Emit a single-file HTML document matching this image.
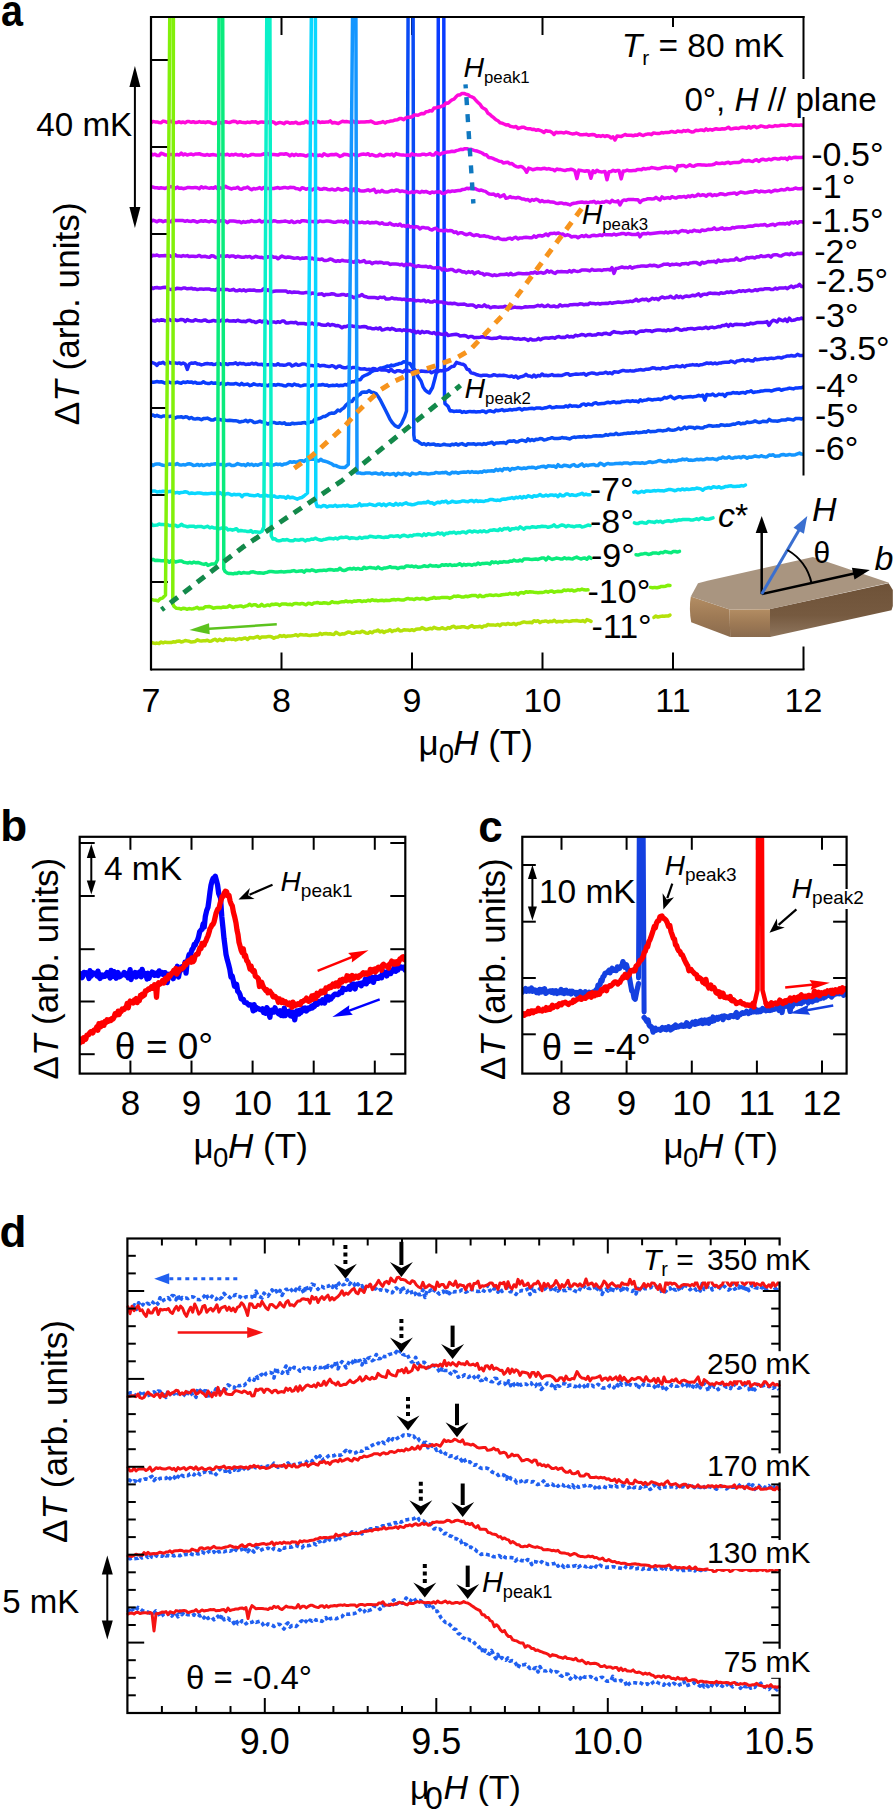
<!DOCTYPE html>
<html><head><meta charset="utf-8"><title>figure</title>
<style>html,body{margin:0;padding:0;background:#fff;}body{width:895px;height:1812px;overflow:hidden;font-family:"Liberation Sans",sans-serif;}svg{display:block;}</style>
</head><body>
<svg width="895" height="1812" viewBox="0 0 895 1812" font-family='"Liberation Sans", sans-serif'>
<defs><clipPath id="clipA"><rect x="151" y="18" width="652.5" height="651.5"/></clipPath><clipPath id="clipB"><rect x="80" y="837" width="325" height="237"/></clipPath><clipPath id="clipC"><rect x="522" y="837" width="325" height="237"/></clipPath><linearGradient id="gTop" x1="0" y1="0" x2="1" y2="0"><stop offset="0" stop-color="#a8917a"/><stop offset="1" stop-color="#a38a70"/></linearGradient><linearGradient id="gFront" x1="0" y1="0" x2="0" y2="1"><stop offset="0" stop-color="#6e5238"/><stop offset="0.6" stop-color="#765a40"/><stop offset="1" stop-color="#8e755d"/></linearGradient><linearGradient id="gLeft" x1="0" y1="0" x2="0" y2="1"><stop offset="0" stop-color="#b38d63"/><stop offset="0.5" stop-color="#9e7a55"/><stop offset="1" stop-color="#8a6b4e"/></linearGradient></defs>
<line x1="281.5" y1="17" x2="281.5" y2="35" stroke="#000" stroke-width="2"/>
<line x1="281.5" y1="669.5" x2="281.5" y2="652.5" stroke="#000" stroke-width="2"/>
<line x1="412" y1="17" x2="412" y2="35" stroke="#000" stroke-width="2"/>
<line x1="412" y1="669.5" x2="412" y2="652.5" stroke="#000" stroke-width="2"/>
<line x1="542.5" y1="17" x2="542.5" y2="35" stroke="#000" stroke-width="2"/>
<line x1="542.5" y1="669.5" x2="542.5" y2="652.5" stroke="#000" stroke-width="2"/>
<line x1="673" y1="17" x2="673" y2="35" stroke="#000" stroke-width="2"/>
<line x1="673" y1="669.5" x2="673" y2="652.5" stroke="#000" stroke-width="2"/>
<line x1="803.5" y1="669.5" x2="803.5" y2="646.5" stroke="#000" stroke-width="2"/>
<line x1="151" y1="60" x2="168" y2="60" stroke="#000" stroke-width="2"/>
<line x1="151" y1="147" x2="168" y2="147" stroke="#000" stroke-width="2"/>
<line x1="151" y1="234" x2="168" y2="234" stroke="#000" stroke-width="2"/>
<line x1="151" y1="321" x2="168" y2="321" stroke="#000" stroke-width="2"/>
<line x1="151" y1="408" x2="168" y2="408" stroke="#000" stroke-width="2"/>
<line x1="151" y1="495" x2="168" y2="495" stroke="#000" stroke-width="2"/>
<line x1="151" y1="582" x2="168" y2="582" stroke="#000" stroke-width="2"/>
<g clip-path="url(#clipA)">
<polyline points="151,382 153,382.2 155,381.9 157,381.6 159.1,381.9 161.1,381.7 163.1,382.3 165.1,383.2 167.1,382.1 169.1,382.1 171.2,382.8 173.2,382.8 175.2,382.7 177.2,382.1 179.2,382.7 181.2,383.2 183.2,382 185.3,382.6 187.3,381.8 189.3,382.2 191.3,381.9 193.3,382.9 195.3,382.3 197.4,383.3 199.4,383.3 201.4,383.1 203.4,381.8 205.4,383 207.4,383.4 209.5,383.5 211.5,382.6 213.5,383.3 215.5,383 217.5,383.2 219.5,384.3 221.5,383.3 223.6,383.8 225.6,384.4 227.6,383.5 229.6,383.9 231.6,384.1 233.6,384.1 235.7,383.4 237.7,384.2 239.7,385 241.7,383.3 243.7,384.8 245.7,384.4 247.8,384 249.8,385.7 251.8,385 253.8,383.8 255.8,384.6 257.8,385 259.8,384.6 261.9,385.2 263.9,384.8 265.9,385.3 267.9,385.8 269.9,384.5 271.9,385.1 274,384.8 276,385.2 278,384.4 280,384.8 282,385.1 284.1,385.7 286.1,385.9 288.1,384.4 290.2,384.7 292.2,385.6 294.2,384 296.2,384.9 298.3,385.1 300.3,386 302.3,385.6 304.4,385 306.4,385 308.4,385 310.5,386.1 312.5,384.9 314.5,385 316.5,385.4 318.6,385.1 320.6,385.1 322.6,384.5 324.7,385.2 326.7,384.9 328.7,385.9 330.8,385.6 332.8,385.2 334.8,385.6 336.8,385 338.9,385.8 340.9,385.2 342.9,385.6 345,384.4 347,385.1 349.3,383.1 351.7,381.8 354,381.8 356.1,380.3 358.2,379.8 360.3,379.8 362.5,376.7 364.8,375.5 367,374.6 369.2,373.5 371.5,371.7 373.7,370.6 375.9,370.3 378.2,369.5 380.4,367.9 382.7,367.8 384.9,367.2 387.2,365.9 389.3,366.2 391.4,365.1 393.4,365.7 395.5,364.8 397.6,364.3 399.7,363.4 401.7,363.2 403.8,361.7 405.9,362.1 407.9,363.4 410,363.5 412.6,367.8 415.3,370.3 418.1,376.7 421,381 423,386.7 425,389.9 427.1,391.8 429.3,393 432.5,387.5 435,378.3 436.5,371.8 437.5,367 437.9,193.5 438.3,10 443.8,10 444.1,209 444.5,398 445,403.6 448,406.2 450,410.9 452,410.8 454,411.5 456,411.1 458,411.2 460,410.9 462,412.4 464,411.6 466,412.3 468,411.8 470,411.4 472,411.7 474,411.6 476,411.9 478,411.7 480,411.8 482,411 484,411.2 486,412.6 488,411.1 490,410.7 492,411.4 494,411.9 496,410.1 498,410.7 500,410.3 502,409.5 504,410.8 506,410.3 508,410.2 510,409.5 512,410.1 514,409.4 516,409.5 518,408.8 520,408.6 522,410 524,408.8 526,409.1 528,408.8 530,408.4 532,408.2 534,408.8 536,408.1 538,408 540,408 542,408.6 544,408.1 546,407.8 548,407.1 550,406.5 552,407.7 554,407.6 556,406.8 558,407.1 560,407.1 562,407 564,406.9 566,405.9 568,406.9 570,405.2 572,406.3 574,405.9 576,406 578,406.5 580,406.1 582,404.4 584,403.9 586,405.3 588,404 590,404.5 592,404.9 594,403.2 596,402.8 598,404.1 600,403.8 602,403.5 604,403.5 606,402.8 608.1,402.3 610.1,402.9 612.1,402.3 614.1,401.7 616.1,402.8 618.1,402.3 620.1,402.4 622.2,401.4 624.2,401.5 626.2,401.1 628.2,401 630.2,401.5 632.2,400.8 634.3,401.3 636.3,401.1 638.3,402 640.3,399.8 642.3,401 644.3,400.2 646.3,400.1 648.4,399.1 650.4,399.5 652.4,400.1 654.4,399.4 656.4,399.4 658.4,399 660.4,399.7 662.5,398.8 664.5,397.3 666.5,398.1 668.5,397.2 670.5,396.2 672.5,397.7 674.5,398.7 676.6,397.7 678.6,396.8 680.6,396.8 682.6,397.9 684.6,397.2 686.6,396.9 688.7,396.7 690.7,396.6 692.7,396.9 694.7,396.6 696.7,396.2 698.7,395.3 700.7,396.1 702.8,395.2 704.8,400.1 706.8,394.5 708.8,395.1 710.8,395 712.8,394 714.8,395.7 716.9,395.4 718.9,394.1 720.9,394.6 722.9,394.2 724.9,396.3 726.9,393.8 729,393.5 731,393.4 733,392.6 735,392.9 737,392.8 739,393.4 741,392.8 743.1,392.4 745.1,393.2 747.1,391.8 749.1,391.7 751.1,390.7 753.1,392.6 755.1,392 757.2,391.8 759.2,391.5 761.2,391 763.2,390.9 765.2,390.5 767.2,390.4 769.2,390.4 771.3,391.1 773.3,390.3 775.3,389.8 777.3,389.3 779.3,389.1 781.3,390.3 783.4,389.5 785.4,389.1 787.4,388.7 789.4,388.1 791.4,388.5 793.4,388.9 795.4,388 797.5,387.9 799.5,387.8 801.5,387.8 803.5,386.7" fill="none" stroke="#0a3cff" stroke-width="3.5" stroke-linejoin="round" stroke-linecap="round"/>
<polyline points="151,415.3 153,415 155,416.2 157,415.3 159.1,416.3 161.1,416.9 163.1,416 165.1,415.9 167.1,416.5 169.1,416.5 171.2,416.1 173.2,417.1 175.2,418.1 177.2,416.9 179.2,417.1 181.2,416.7 183.2,417.6 185.3,416.8 187.3,417 189.3,418.6 191.3,417.4 193.3,418.7 195.3,419.1 197.4,418.5 199.4,418.8 201.4,419.7 203.4,418.6 205.4,418.5 207.4,418.1 209.5,419.1 211.5,420.1 213.5,419.9 215.5,418.9 217.5,419.1 219.5,419.4 221.5,420 223.6,419.8 225.6,420.2 227.6,420.4 229.6,420.2 231.6,420.4 233.6,420.7 235.7,420.7 237.7,421.1 239.7,422.1 241.7,421.5 243.7,421.3 245.7,420.3 247.8,421.7 249.8,420.4 251.8,420.9 253.8,422.4 255.8,422.4 257.8,422 259.8,421.2 261.9,422.1 263.9,422.1 265.9,423 267.9,424.1 269.9,423 271.9,422.5 274,422.4 276,423.2 278,423.3 280,422.8 282.1,423.6 284.2,422.8 286.2,424.2 288.3,424.1 290.4,424.2 292.5,423.2 294.5,423.8 296.6,423.4 298.7,423.3 300.8,423.3 302.8,422.7 304.9,422.6 307,423.7 309,422.6 311,422 313,421.6 315,419.1 317,418.9 319,418.6 321,417.9 323,416.6 325,416.6 327.1,415.3 329.3,413.7 331.4,413.1 333.6,413.3 335.7,412.3 337.9,410.1 340,411 342,409.1 344,407.8 346,405 348,403.3 350,401.1 352,401.6 354,398.5 356,398.2 358,395.4 360,394.5 362,392.2 364.3,392.1 366.7,392.2 369,390.6 371.3,392.2 373.7,392.5 376,393.5 378.3,396.7 380.7,400.7 383,405.3 385.3,409.7 387.7,414.5 390,419.3 392.5,422.9 395,425.7 398.5,427.3 401.5,423.5 404.5,417.1 406.5,411 407.3,215.5 408.1,10 413.1,10 413.5,227.5 413.8,435 414.5,439.8 418,441.3 420,443.1 422,444.3 424,443.6 426,444.9 428,443.7 430,444.6 432,444.3 434,444.1 436,445.1 438,444.8 440,445.3 442,444.9 444,444.3 446,444.8 448,444.9 450,445.4 452,444.3 454,444.8 456,443.7 458,445.1 460,444.1 462,443.6 464,444.6 466,445.3 468,443.7 470,443.9 472,444.1 474,443.8 476,444.7 478,443.9 480,443.9 482,444.6 484,443.6 486,444.2 488,443.2 490,442.9 492,442.3 494,444.4 496,442.9 498,443.1 500,442.7 502,442.7 504,442.5 506,443.4 508,441.5 510,441 512,441.2 514,440.8 516,441.9 518,441.8 520,440.6 522,440.1 524,440.6 526,441.5 528,438.8 530,440.6 532,439.5 534,440.6 536,439.2 538,439.5 540,438.6 542,438.8 544,440.1 546,439.6 548,438.8 550,438.4 552,437.7 554,438.4 556,438.5 558,438.4 560,438.3 562,437.5 564,438.1 566,438 568,438.6 570,438.9 572,437.6 574,437.1 576,437.4 578,436.9 580,436.7 582,437 584,436.3 586,437.2 588,436.6 590,436.7 592,436.4 594,435.9 596,435.7 598,436 600,435.7 602,436 604,435.6 606,434.6 608.1,435.3 610.1,434.3 612.1,434.6 614.1,434.6 616.1,433.3 618.1,434.5 620.1,434.3 622.2,433.9 624.2,433.6 626.2,433.5 628.2,432.9 630.2,433.2 632.2,432.8 634.3,433 636.3,432.1 638.3,432.8 640.3,432.5 642.3,432.2 644.3,431.8 646.3,432.2 648.4,430.7 650.4,431.8 652.4,431.5 654.4,431.4 656.4,431.2 658.4,430.4 660.4,430.5 662.5,430.9 664.5,430.6 666.5,430.2 668.5,429 670.5,430.1 672.5,430.3 674.5,430 676.6,429.4 678.6,428.1 680.6,429.4 682.6,428.6 684.6,427 686.6,428.6 688.7,427.3 690.7,427.2 692.7,427.4 694.7,428.4 696.7,427.2 698.7,427.4 700.7,428.1 702.8,427.9 704.8,426.7 706.8,426.4 708.8,425.6 710.8,425.8 712.8,426.3 714.8,426.1 716.9,425.7 718.9,426.1 720.9,424.8 722.9,425.1 724.9,425.4 726.9,425.1 729,425.2 731,424.7 733,424.1 735,424.3 737,423.3 739,422.7 741,423.9 743.1,423.3 745.1,423.4 747.1,422 749.1,422.6 751.1,422.3 753.1,421.9 755.1,420.9 757.2,421.9 759.2,422.5 761.2,422 763.2,421.2 765.2,421.4 767.2,421.7 769.2,419.4 771.3,420.8 773.3,421 775.3,420.9 777.3,421.3 779.3,420.8 781.3,420.1 783.4,420 785.4,420.1 787.4,419.1 789.4,419.2 791.4,419.6 793.4,420.1 795.4,418.6 797.5,418.5 799.5,418.5 801.5,419 803.5,418" fill="none" stroke="#0a4bf5" stroke-width="3.5" stroke-linejoin="round" stroke-linecap="round"/>
<polyline points="151,122.9 153,121.4 155,121.9 157,121.9 159.1,122.5 161.1,122.7 163.1,121.1 165.1,121.5 167.1,122.3 169.1,121.7 171.1,121.2 173.1,122.7 175.2,122.4 177.2,122.4 179.2,121.8 181.2,122.7 183.2,122 185.2,122.8 187.2,121.6 189.3,121.6 191.3,122.3 193.3,121.7 195.3,122.6 197.3,122.3 199.3,121.6 201.3,122.2 203.4,122 205.4,122.7 207.4,121.8 209.4,121.9 211.4,122.9 213.4,123.6 215.4,123.4 217.4,122.3 219.5,122.4 221.5,123.2 223.5,122.2 225.5,121.7 227.5,122.3 229.5,122.5 231.5,121.8 233.6,121.3 235.6,121.4 237.6,122.7 239.6,121.8 241.6,122.2 243.6,122.4 245.6,122.7 247.6,122.1 249.7,122.6 251.7,121.8 253.7,122.1 255.7,121.7 257.7,123 259.7,122.3 261.7,121.9 263.8,122.2 265.8,122.3 267.8,122.8 269.8,121.4 271.8,121.8 273.8,122.2 275.8,123.9 277.9,123 279.9,122.4 281.9,122.9 283.9,123.7 285.9,122.3 287.9,122.2 289.9,123.2 291.9,122.8 294,122.9 296,122.2 298,123.6 300,123.5 302,122.8 304,122.9 306.1,121.2 308.1,122.8 310.1,122.3 312.1,122.7 314.2,122.8 316.2,122.2 318.2,121.4 320.2,122.6 322.3,121.9 324.3,122.2 326.3,122 328.3,122.1 330.3,120.9 332.4,123 334.4,122.5 336.4,123 338.4,123.5 340.5,122.3 342.5,121.2 344.5,121.7 346.5,121.5 348.6,121.9 350.6,122.3 352.6,121 354.6,122.4 356.7,121.3 358.7,122.3 360.7,122.1 362.7,122 364.7,122.1 366.8,121.8 368.8,121.7 370.8,121.1 372.8,122.1 374.9,123.2 376.9,123.2 378.9,122.8 380.9,122.5 383,121.6 385,122.9 387,121.8 389.1,121.5 391.2,120.9 393.3,120.7 395.4,119.9 397.5,119.7 399.5,118.6 401.6,118.6 403.7,119.7 405.8,117.9 407.9,117.3 410,117.3 412,116.8 414,115.1 416,115.1 418,115.2 420,114.2 422,113.5 424,113.7 426,111.8 428,111.6 430,110.6 432,111 434,108.1 436,107.9 438,107.1 440,107 442,106 444,105.6 446,102.9 448,103.3 450,101.4 452,99.8 454,99.1 456,96.8 458,94.9 460,94.9 462,93.4 464,93.5 466,94.2 468,94.7 470,96.4 472,96.9 474,98.1 476,100.5 478,102.4 480,104.3 482,107.3 484,108.6 486,109.8 488,113.3 490,114.5 492,116.4 494,117.9 496,119.8 498,120.8 500,122.7 502,123.1 504,124 506,124.9 508,124.7 510,126.2 512,126.6 514,127.1 516,126.5 518,128.5 520,127.9 522,127.3 524,127.3 526,128.4 528,128.8 530,128.7 532,129.4 534,129.2 536,130.2 538,129.7 540,130.4 542,131.2 544,132.5 546,130.6 548,131.2 550,131.2 552,132.4 554,134.5 556,132.2 558,132.7 560,132.4 562,132.6 564.1,133 566.1,132.1 568.2,132.7 570.2,133.4 572.2,133.9 574.3,133.8 576.3,133 578.3,133.9 580.4,134.8 582.4,134.8 584.5,134.6 586.5,134.2 588.5,135.3 590.6,134.7 592.6,134.5 594.7,134.8 596.7,136.3 598.7,135.7 600.8,136.4 602.8,135.5 604.8,136.5 606.9,135.7 608.9,136.1 611,137.9 613,136.9 615,140 617,136.1 619.1,136.2 621.1,136.6 623.1,135.5 625.1,134.5 627.2,135.3 629.2,135.3 631.2,135.2 633.2,135.8 635.3,135 637.3,135.2 639.3,133.9 641.3,134.9 643.3,135.5 645.4,134.5 647.4,134.1 649.4,133.9 651.4,134.7 653.5,132.9 655.5,133.3 657.5,133.5 659.5,133.5 661.6,132.6 663.6,132.9 665.6,132.4 667.6,132.5 669.7,132.2 671.7,131.4 673.7,132 675.7,132.3 677.7,131.1 679.8,131.4 681.8,131.8 683.8,130.6 685.8,131.2 687.9,130.3 689.9,131.4 691.9,132 693.9,131.7 696,130.2 698,130.6 700,130.1 702,130 704.1,130.7 706.1,128.9 708.1,130.2 710.1,129.4 712.2,130.2 714.2,129.3 716.2,128.7 718.3,129.2 720.3,129.3 722.3,128.8 724.4,129 726.4,128.3 728.4,127.2 730.4,128.9 732.5,128.7 734.5,128.2 736.5,128.1 738.6,128.5 740.6,127.5 742.6,127.3 744.6,127.5 746.7,128.2 748.7,126.5 750.7,128 752.8,126.8 754.8,126.4 756.8,127.7 758.9,126.8 760.9,125.9 762.9,126.4 764.9,127 767,127.1 769,126 771,126.4 773.1,126.5 775.1,125.6 777.1,126 779.1,125.7 781.2,125.3 783.2,125.2 785.2,125.4 787.3,125.3 789.3,124.8 791.3,124.8 793.4,125.6 795.4,125 797.4,125.3 799.4,125.3 801.5,124.9 803.5,125.8" fill="none" stroke="#ff0ada" stroke-width="3.5" stroke-linejoin="round" stroke-linecap="round"/>
<polyline points="151,153.9 153,154.9 155,154.2 157,155.5 159.1,155.5 161.1,153.3 163.1,153.9 165.1,154.9 167.1,154.9 169.1,154.9 171.1,154.4 173.1,154.8 175.2,154.9 177.2,154.5 179.2,155.1 181.2,153.2 183.2,154.9 185.2,153.9 187.2,155.1 189.3,154.4 191.3,154 193.3,154.8 195.3,154 197.3,154 199.3,153.7 201.3,154.6 203.4,154.9 205.4,155.2 207.4,154.5 209.4,155.3 211.4,154.7 213.4,154.6 215.4,155 217.4,155.3 219.5,154.5 221.5,154.5 223.5,154.6 225.5,154.7 227.5,154.2 229.5,155.3 231.5,154.5 233.6,155 235.6,154.2 237.6,155 239.6,155 241.6,154.5 243.6,156 245.6,155 247.6,155.9 249.7,155.4 251.7,154.4 253.7,154.6 255.7,155.1 257.7,154.9 259.7,154.9 261.7,154.7 263.8,153.8 265.8,154.7 267.8,153.5 269.8,155.1 271.8,154.5 273.8,154.5 275.8,154.8 277.9,155.1 279.9,154.1 281.9,153.9 283.9,154.3 285.9,153.7 287.9,154.4 289.9,155.9 291.9,154.3 294,155.4 296,154.2 298,155.2 300,154.8 302,155 304,155.3 306,156.1 308,155.1 310,155.1 312,154.4 314,155.4 316,154.9 318,155.5 320,155 322,156 324,153.8 326,154.8 328,155.5 330,154.8 332,154.5 334,154.8 336,154.2 338,155.1 340,156.5 342,155.7 344,154.3 346,154.5 348,154.8 350,155.6 352,154.5 354,154.6 356,155.5 358,155.5 360,154.8 362,154.3 364,154.1 366,154.6 368,153.7 370,155.4 372,154.6 374,155.3 376,156.1 378,155.7 380,154.3 382,155.5 384,155.7 386,154.6 388,154.4 390,154.9 392,154 394,155.9 396,153.6 398,154.3 400,154.8 402,154.9 404,155.1 406,155.2 408,154.9 410,155.7 412,153.7 414,155 416,154.6 418,155.1 420,155.1 422,154.3 424,154.2 426,154.9 428,154.4 430,153.6 432,155 434,155 436,152.5 438,153.4 440,154.5 442,153.3 444,152.7 446,152.3 448,151.9 450,151.8 452.1,151.3 454.2,151.6 456.3,150.6 458.4,150.1 460.6,149.3 462.7,149.6 464.8,148.7 466.9,148.7 469,149.4 471.2,149.3 473.4,150.1 475.6,150.8 477.8,151.3 480,152.1 482.1,153 484.3,154.7 486.4,154.8 488.6,157.4 490.7,157.7 492.9,158.4 495,159.5 497.1,160.2 499.3,161.3 501.4,161.4 503.5,163.1 505.7,162.5 507.8,162.2 509.9,163.8 512,163.6 514.2,165.4 516.3,166.6 518.4,167 520.6,166.4 522.7,167.2 524.7,169 526.7,172.2 528.7,168.1 530.7,168.8 532.7,169.8 534.7,169.2 536.8,168.6 538.8,168.8 540.8,169.1 542.8,168.5 544.8,168.3 546.8,169.1 548.8,168.6 550.8,169.2 552.8,169.4 554.8,170.8 556.8,169 558.8,169.6 560.8,169.6 562.8,170.1 564.9,170.6 566.9,169.8 568.9,169.7 570.9,169.3 572.9,169.8 574.9,170.8 576.9,178.6 578.9,170.1 580.9,170.5 582.9,170.9 584.9,171.3 586.9,170.7 588.9,171 590.9,178.2 593,170.7 595,172.5 597,170.3 599,171.5 601,171.9 603,171.7 605,171.4 607,179.8 609,171.7 611.1,171.5 613.1,170.3 615.1,171.2 617.1,170.6 619.1,170.6 621.2,178.9 623.2,171 625.2,171 627.2,170.1 629.3,170.8 631.3,170.8 633.3,170.6 635.3,170.6 637.3,169.5 639.4,169.4 641.4,169.8 643.4,168.4 645.4,169.1 647.4,168.6 649.5,168.5 651.5,167.5 653.5,167.9 655.5,168.3 657.6,168.7 659.6,168.6 661.6,167.8 663.6,167.6 665.6,167 667.7,167.6 669.7,167.1 671.7,167.4 673.7,168 675.7,170.8 677.8,165.7 679.8,166 681.8,165.5 683.8,165.5 685.9,166.8 687.9,166 689.9,164.8 691.9,166 693.9,166.2 696,165.1 698,164.7 700,164.8 702,165 704.1,165.1 706.1,165.2 708.1,165.1 710.1,164.9 712.2,164.8 714.2,164.3 716.2,162.8 718.3,163.5 720.3,163.6 722.3,163 724.4,163.6 726.4,162.7 728.4,162.2 730.4,163.4 732.5,162.8 734.5,162.4 736.5,162.6 738.6,162.5 740.6,161.9 742.6,160.1 744.6,161 746.7,161 748.7,160.5 750.7,161.1 752.8,161.5 754.8,160.3 756.8,159.8 758.9,161.5 760.9,159.8 762.9,159.2 764.9,159.9 767,159.9 769,159 771,159.8 773.1,158.8 775.1,158.4 777.1,158.9 779.1,159.1 781.2,158.1 783.2,158.5 785.2,158.1 787.3,159.7 789.3,157.4 791.3,158.5 793.4,157.5 795.4,157.3 797.4,157.6 799.4,157.6 801.5,157.6 803.5,157" fill="none" stroke="#f00af0" stroke-width="3.5" stroke-linejoin="round" stroke-linecap="round"/>
<polyline points="151,187 153,187.1 155,187.7 157,187.8 159.1,188.3 161.1,187.7 163.1,188.1 165.1,188.4 167.1,187.6 169.1,186.6 171.1,186.8 173.1,186.7 175.2,188.5 177.2,187.1 179.2,188.3 181.2,188 183.2,188.7 185.2,188.3 187.2,187.6 189.3,187.6 191.3,187.7 193.3,187.8 195.3,187.4 197.3,187.7 199.3,188.7 201.3,186.8 203.4,187.9 205.4,187.3 207.4,187.9 209.4,188.3 211.4,187.8 213.4,188.3 215.4,186.9 217.4,188.6 219.5,187.5 221.5,188.3 223.5,188 225.5,186.4 227.5,187.5 229.5,188.1 231.5,188.9 233.6,188.2 235.6,188.2 237.6,187.2 239.6,188.9 241.6,189.2 243.6,188.1 245.6,188 247.6,187.1 249.7,188.7 251.7,189.8 253.7,188.6 255.7,188.9 257.7,188.5 259.7,187.6 261.7,189 263.8,187.5 265.8,188.1 267.8,188.4 269.8,188.8 271.8,188.5 273.8,188.5 275.8,187.9 277.9,187.6 279.9,188.4 281.9,187.9 283.9,187.6 285.9,187.6 287.9,188.1 289.9,187.3 291.9,187.6 294,187.5 296,188.6 298,188.7 300,189.7 302,187.7 304,188.2 306,189.2 308,188.6 310,188.6 312,189.9 314,188.7 316,188.3 318,188.2 320,189.3 322,189.3 324,188.4 326,188.7 328,189.6 330,189.7 332,189.1 334,189.9 336,189.9 338,188.5 340,189.5 342,190 344,189.4 346,188.6 348,189.7 350,190.4 352,191 354,188.8 356,191.7 358,189.5 360,190.8 362,191.1 364,191 366,190.5 368,189.8 370,190.9 372,190.2 374,189.2 376,192.4 378,191.2 380,191.9 382,190.4 384,191.8 386,192 388,192 390,191.1 392,190.5 394,191.1 396,190 398,190.3 400,191.5 402,190.9 404,191.4 406,191.5 408,192.8 410,192.5 412,191.8 414,192.6 416,191.4 418,191.8 420,192.6 422,191.3 424,192 426,191.4 428,192.3 430,193.3 432,191.9 434,192.6 436,191.9 438,191.9 440,191.8 442.1,193.2 444.1,193.5 446.2,192.1 448.2,191.1 450.3,191.7 452.4,190.9 454.4,191.3 456.5,190.7 458.6,190.5 460.6,190.4 462.7,189.4 464.8,189.3 466.8,188.2 468.9,188.7 470.9,187.9 473,188.7 475.1,188.5 477.2,189.7 479.2,190.5 481.3,190 483.4,190.9 485.5,191.4 487.5,193 489.6,194.1 491.7,194.2 493.8,194.1 495.8,195.7 497.9,194.5 500,196.8 502,195.9 504,194.8 506,198.3 508,197.9 510,196.6 512,197.6 514,197.6 516,198 518,197.3 520,198 522,199 524,199.1 526,199.9 528,199.5 530,201.1 532,199.5 534,200.3 536,199.2 538,199.9 540,201.7 542,200.6 544,201.7 546,201.6 548,201.2 550,201.9 552,202 554,202.3 556,203.3 558,203.5 560,203 562,203 564,203.8 566,203.6 568,204.2 570,205 572,203.8 574,203.2 576,203 578,202.5 580,202.3 582,202.1 584,202.4 586,202.3 588,202.8 590,202 592,202 594,201.3 596,202.9 598,202.1 600,202.8 602,202.1 604,202.3 606,201.2 608,201.7 610,202.7 612,200.3 614,201.6 616,201.8 618,200.9 620,205 622,201.2 624,199.9 626,200.4 628,199.5 630,199.5 632,199.4 634,199.6 636,199.7 638,199.7 640,202.5 642,200.4 644,199.8 646,199.4 648,198.7 650,198.7 652,199 654,198.8 656,197.4 658,198.7 660,200 662,196.9 664,198.5 666,198 668,197.6 670,198.4 672,196.7 674,197.5 676,198.1 678,197 680,196.7 682,196.9 684,196.4 686.1,197.5 688.1,195.9 690.1,196.8 692.1,195.4 694.2,196.4 696.2,195.8 698.2,194.2 700.2,195.6 702.3,194.8 704.3,195.1 706.3,196.1 708.3,194.4 710.4,194.3 712.4,195.7 714.4,194.7 716.4,195.4 718.5,194.6 720.5,193.7 722.5,194 724.5,194.7 726.6,194.4 728.6,193.7 730.6,193.5 732.6,193.3 734.7,192.9 736.7,194.3 738.7,193 740.7,192.1 742.8,192.4 744.8,193 746.8,192.8 748.8,192.2 750.9,191.7 752.9,192 754.9,190.8 756.9,190.9 759,192.1 761,191.1 763,191.5 765,191.9 767.1,191.4 769.1,190.9 771.1,192 773.1,191 775.2,190.2 777.2,190.8 779.2,190.4 781.2,189.5 783.3,189.9 785.3,189.7 787.3,188.4 789.3,189.4 791.4,189.2 793.4,188.9 795.4,188 797.4,188.7 799.5,188.8 801.5,188.7 803.5,187.8" fill="none" stroke="#d80af8" stroke-width="3.5" stroke-linejoin="round" stroke-linecap="round"/>
<polyline points="151,221.4 153,220.3 155,220.9 157,221.8 159,220.6 161,220.7 163.1,221.7 165.1,220.8 167.1,220.9 169.1,221.2 171.1,221.7 173.1,219.7 175.1,220.6 177.1,220.5 179.1,220.5 181.1,220.6 183.1,220.6 185.2,221.3 187.2,220.6 189.2,221.3 191.2,221.4 193.2,220.7 195.2,221.3 197.2,222.2 199.2,221.4 201.2,220.8 203.2,221.2 205.2,220.7 207.3,221.4 209.3,221.8 211.3,220.8 213.3,221.2 215.3,222 217.3,221 219.3,221.4 221.3,220.7 223.3,220.8 225.3,221 227.4,222.7 229.4,221.1 231.4,221.1 233.4,221 235.4,221.3 237.4,221.8 239.4,221.5 241.4,222.7 243.4,221.6 245.4,222.3 247.4,221.6 249.5,221.8 251.5,220.6 253.5,221.4 255.5,221.4 257.5,221.3 259.5,220.2 261.5,222 263.5,221.3 265.5,221.3 267.5,221.4 269.5,221.4 271.6,221.8 273.6,220.8 275.6,221 277.6,221.8 279.6,221.7 281.6,221.4 283.6,221.3 285.6,221.1 287.6,221.6 289.6,222.3 291.6,221 293.7,222.6 295.7,222.2 297.7,221.4 299.7,222.2 301.7,220.8 303.7,220.7 305.7,220.9 307.7,221.5 309.7,221.5 311.7,221.4 313.8,221.8 315.8,220.5 317.8,222.1 319.8,220.9 321.8,221.4 323.8,221.5 325.8,221.1 327.8,221 329.8,221.2 331.8,221.8 333.8,222.2 335.9,222.2 337.9,221.3 339.9,221.4 341.9,221.3 343.9,222.2 345.9,220.7 347.9,222.7 349.9,221.6 351.9,221.5 353.9,222.1 355.9,222.6 358,222.2 360,222.6 362,222.1 364,222.7 366,222.7 368,222 370,223.1 372,222.5 374,222.7 376,222.3 378,222.9 380,223.8 382,222.7 384,224.1 386,224.2 388,224.3 390,223.1 392,224.5 394,225.2 396,224.6 398,225.3 400,224 402,226.1 404,225.5 406,226.6 408,225.2 410,227 412,226.6 414,227.5 416,226.6 418,227 420,229 422,227.4 424,227.6 426,228.1 428,227.9 430,229.4 432,230 434,228.7 436,228.3 438,230.3 440,230.5 442,230.6 444,231.1 446,230.2 448,230.9 450,230.5 452,230.7 454,232.5 456,231.8 458,233.8 460,232.8 462,232.7 464,233.8 466,234.7 468,234.2 470,233.5 472,234.8 474,235.7 476,234.8 478,235 480,236.3 482,236.1 484,235.7 486,236.4 488,236.5 490,237.4 492,237.6 494,238.5 496,238.5 498,237.5 500,238.9 502,239.4 504,239.2 506,239.5 508,238.5 510,238.1 512,239.2 514,237.9 516,237.2 518,239 520,237.9 522,238.1 524,237.4 526,237.3 528,237.4 530,237.7 532,237.8 534,235.9 536,237.3 538,235.8 540,235.5 542,236.2 544,235.3 546,234 548.1,235.6 550.1,233.5 552.2,233.6 554.2,233.1 556.3,233.7 558.5,232.9 560.6,234.4 562.8,233.9 565,235.6 567.2,234.8 569.4,235.4 571.6,237 573.8,236.4 576,236.4 578,237.8 580,236.5 582,235.7 584,236.6 586,235.3 588,236.6 590,236.6 592,235.4 594,235.3 596,235.7 598,235.5 600,234.8 602,235.6 604,234 606,234.8 608,234.7 610,234.7 612,235 614,234 616,235 618,234.4 620,234 622,233.5 624,233.5 626,234.4 628,233.5 630,234 632,234.5 634,234.4 636,234.6 638,233.4 640,236.8 642,234 644,233.5 646,233.9 648,233.1 650,233.7 652,233.4 654,233.2 656,233 658,232.8 660,232.6 662,232.5 664,232.9 666,231.9 668,233.1 670,231.9 672,232.5 674,231.7 676,231.6 678,232.8 680,231.3 682,230.6 684,230.9 686,231 688,232.4 690,231.1 692,231.5 694,230.2 696,230.9 698,231 700,231.6 702,229.9 704.1,230.5 706.1,230.2 708.1,229.2 710.1,229.6 712.2,229.3 714.2,227.9 716.2,229.5 718.3,229.3 720.3,228.5 722.3,227.8 724.4,229.3 726.4,228.4 728.4,228.7 730.4,228.7 732.5,227.4 734.5,228 736.5,227.2 738.6,227.1 740.6,227 742.6,226.8 744.6,227.3 746.7,226.6 748.7,226.2 750.7,226 752.8,226.2 754.8,225.3 756.8,225.3 758.9,225.4 760.9,224.9 762.9,225 764.9,224.5 767,225.9 769,225.4 771,224.7 773.1,224.2 775.1,225.4 777.1,224.1 779.1,223.6 781.2,223.7 783.2,223.5 785.2,224 787.3,223 789.3,224.1 791.3,222.1 793.4,222.9 795.4,221.7 797.4,223.2 799.4,221.8 801.5,221.7 803.5,222.2" fill="none" stroke="#c00aff" stroke-width="3.5" stroke-linejoin="round" stroke-linecap="round"/>
<polyline points="151,256.6 153,255.2 155,255.6 157,255 159.1,256 161.1,255.8 163.1,255.7 165.1,255.5 167.1,255.7 169.1,255.5 171.2,256.3 173.2,257 175.2,254.9 177.2,256 179.2,255.9 181.2,256.4 183.2,255.6 185.3,256.1 187.3,255.6 189.3,256.6 191.3,256.3 193.3,256.2 195.3,256.5 197.4,256.2 199.4,255.4 201.4,256.7 203.4,256.5 205.4,256.3 207.4,257 209.5,257.2 211.5,255.8 213.5,256 215.5,257.4 217.5,257.4 219.5,256.1 221.5,255.9 223.6,256.2 225.6,256.3 227.6,255.7 229.6,256.7 231.6,255.9 233.6,256 235.7,257.3 237.7,256.3 239.7,256.7 241.7,257.2 243.7,257.3 245.7,256.6 247.8,256.9 249.8,256.4 251.8,257.9 253.8,257.3 255.8,256.3 257.8,257 259.8,257.4 261.9,257.3 263.9,258.1 265.9,257.9 267.9,256.7 269.9,257 271.9,256.3 274,257.3 276,257.2 278,258.8 280,257.3 282,256.1 284,257 286,257.6 288,256.9 290,257.2 292,257.7 294,258.2 296,258 298,257.7 300,258.8 302,258.1 304,258.3 306,257.8 308,258.3 310,259.3 312,258 314,259.1 316,259.7 318,259.1 320,259.6 322,258.9 324,260.5 326,260.5 328,260.1 330,259 332,259.5 334,260.8 336,261.4 338,260.7 340,261.3 342,260.3 344,260.7 346,260.9 348,261.3 350,260.2 352,261.8 354,262.2 356,260.8 358,260.8 360,261.9 362,261.5 364,260.5 366,262.6 368,262.3 370,262 372,263.7 374,262.6 376,262.2 378,262.8 380,262.2 382,262.5 384,263.3 386,262.9 388,263 390,264.4 392,264.1 394,264.1 396,264.1 398,264.2 400,264.9 402,264.2 404,265.6 406,264.1 408,264.8 410.1,264.3 412.1,265.2 414.1,265.9 416.1,266.7 418.1,265.7 420.1,266.3 422.1,266.4 424.1,266.4 426.1,266.3 428.1,267.3 430.2,266.5 432.2,267.8 434.2,268 436.2,267.8 438.2,267.8 440.2,267.9 442.2,270 444.2,268.3 446.2,270.3 448.3,270 450.3,269.6 452.3,269.4 454.3,270.9 456.3,271.6 458.3,270.2 460.3,270.8 462.3,271.9 464.3,271.7 466.4,272.9 468.4,271.6 470.4,272.5 472.4,271.7 474.4,273.9 476.4,272.5 478.4,271.8 480.4,273.3 482.4,273.5 484.4,275 486.5,273.9 488.5,274.3 490.5,274.9 492.5,275.7 494.5,274.8 496.5,275.5 498.5,275.1 500.5,274.5 502.6,274.6 504.6,274.5 506.6,273.8 508.6,275 510.6,273.3 512.6,274.7 514.6,274.5 516.7,273.8 518.7,273.3 520.7,273.5 522.7,273.8 524.7,273.8 526.8,273.5 528.8,273.8 530.8,272.8 532.9,273.1 534.9,272 536.9,273.3 539,272.8 541,272.4 543,273.2 545.1,272.8 547.1,270.6 549.1,272.2 551.2,271.2 553.2,272.6 555.2,273.4 557.3,271.5 559.3,271.7 561.4,271.4 563.4,271.7 565.4,271.8 567.5,272.1 569.5,270.6 571.5,272 573.6,270.4 575.6,271.1 577.6,271.5 579.7,271.1 581.7,270 583.7,270.1 585.8,270.1 587.8,270.3 589.8,270.9 591.9,269.3 593.9,270.3 595.9,270.3 598,270.1 600,270 602,270.5 604,269.7 606,269.8 608,269.4 610,270 612,267.7 614,273.4 616,268.4 618,268.2 620,267.6 622,267 624,267.7 626,267.4 628,267.9 630,266.6 632,268.2 634,267.3 636,266.9 638,266.5 640,266.3 642,265.9 644,266.1 646,266.3 648,266 650,265.2 652,265.7 654,265.2 656,265.7 658,266.6 660,265.8 662,265.1 664,264.2 666,264.2 668,263.9 670,265.2 672,264.2 674,264.6 676,264.1 678,264.4 680,265 682,263.7 684,263.8 686,263.4 688,264.2 690,263 692,262.8 694,262.5 696,262.4 698,263.4 700,264.5 702,262.2 704.1,263.2 706.1,262.5 708.1,261.5 710.1,261.8 712.2,261.6 714.2,261.2 716.2,262.5 718.3,260 720.3,261.2 722.3,261 724.4,260.2 726.4,260.4 728.4,260.7 730.4,260 732.5,260 734.5,259.9 736.5,258.1 738.6,260 740.6,260.3 742.6,259.3 744.6,259.1 746.7,257.5 748.7,258 750.7,257.4 752.8,257.3 754.8,258.1 756.8,256.8 758.9,257 760.9,255.7 762.9,256.6 764.9,256.5 767,255.8 769,255.6 771,257 773.1,254.9 775.1,254.8 777.1,254.8 779.1,255.8 781.2,256.1 783.2,254.8 785.2,254 787.3,254 789.3,254.7 791.3,253.3 793.4,254.5 795.4,254.3 797.4,253.3 799.4,253.4 801.5,253.3 803.5,253.6" fill="none" stroke="#a00aff" stroke-width="3.5" stroke-linejoin="round" stroke-linecap="round"/>
<polyline points="151,287.2 153,288.6 155,287.7 157,287.5 159.1,288.1 161.1,287.9 163.1,287.5 165.1,287.2 167.1,287.7 169.1,289.1 171.2,289.5 173.2,288.8 175.2,289.1 177.2,288.2 179.2,288.5 181.2,288.8 183.2,288 185.3,288.1 187.3,288.8 189.3,288.6 191.3,288.2 193.3,289.1 195.3,288.8 197.4,289.6 199.4,289.1 201.4,288.9 203.4,289.3 205.4,289.1 207.4,288.9 209.5,289.1 211.5,289.8 213.5,289.8 215.5,290.3 217.5,288.5 219.5,289.4 221.5,289.4 223.6,289.8 225.6,289.5 227.6,289.5 229.6,290.3 231.6,290 233.6,289.3 235.7,290.8 237.7,290.7 239.7,289.8 241.7,290.7 243.7,289.8 245.7,291 247.8,290.2 249.8,289.9 251.8,290.2 253.8,290 255.8,290.7 257.8,290.7 259.8,290.7 261.9,290.4 263.9,288.6 265.9,290.9 267.9,289.7 269.9,291.1 271.9,291.7 274,291.2 276,290.9 278,291 280,291.1 282,291 284,291.1 286,291 288,292.4 290,291.8 292,292.6 294,292 296,292.3 298,292.3 300,292.8 302,293.1 304,292.9 306,292.5 308,292.6 310,294.1 312,293.1 314,293.2 316,294.4 318,294.3 320,294.1 322,293.7 324,295.5 326,294.4 328,294.6 330,294.3 332,293.7 334,293.9 336,295.1 338,295.2 340,295 342,294.5 344,294.5 346,295.3 348,294.7 350,296.3 352,296.6 354,297.7 356,296.7 358,295.9 360,295.9 362,294.5 364,296.3 366,296.7 368,297.5 370,297.4 372,297.5 374,297.4 376,297.8 378,298.4 380,297.1 382,297.6 384,297.1 386,299.1 388,299 390,298.8 392,297.8 394,298.7 396,298.6 398,298.9 400,298.9 402,299.5 404,299.1 406,300 408,299.9 410.1,299.7 412.1,300 414.1,300 416.1,300.9 418.1,300.4 420.1,300.9 422.1,300.7 424.1,300.2 426.1,301.8 428.1,300.8 430.2,302.1 432.2,302.1 434.2,301 436.2,301.6 438.2,302 440.2,302 442.2,302 444.2,303.3 446.2,302.9 448.3,303.5 450.3,303.2 452.3,303.8 454.3,303.3 456.3,303.9 458.3,304.5 460.3,304.3 462.3,304.2 464.3,304 466.4,304.9 468.4,305.2 470.4,305 472.4,304.9 474.4,305.9 476.4,307.2 478.4,305.7 480.4,306.3 482.4,306.5 484.4,304.9 486.5,306.7 488.5,306.3 490.5,307.8 492.5,307 494.5,306.8 496.6,307.1 498.6,307.3 500.7,306.9 502.8,307.1 504.8,306.3 506.9,306.9 509,307.5 511,308.2 513.1,307.4 515.2,307.1 517.2,307.6 519.3,307.5 521.4,307.8 523.5,307.4 525.5,306.7 527.6,306.9 529.7,306.8 531.7,306.8 533.8,306.7 535.9,306.1 537.9,305.3 540,306.1 542,305.2 544,306.4 546,306.2 548,305.1 550,306.4 552,306.5 554,305.9 556,306.8 558,306.8 560,304.8 562,306.1 564,305.6 566,305.5 568,305.8 570,304.7 572,304.7 574,304.4 576,304.4 578,304.7 580,303.8 582,303.9 584,304.8 586,304.3 588,304.5 590,303 592,303.6 594,303.6 596,303.9 598,303.4 600,304.2 602,303.5 604,303.4 606,303.2 608.1,303.4 610.1,302.5 612.1,303.3 614.1,302.7 616.1,302.4 618.1,302.1 620.1,302.2 622.2,302.4 624.2,302.1 626.2,301.6 628.2,301.7 630.2,301.1 632.2,301.6 634.3,300.7 636.3,299.3 638.3,301.1 640.3,300.2 642.3,299.3 644.3,299.7 646.3,299.1 648.4,300.7 650.4,299.6 652.4,298.2 654.4,299.2 656.4,298.5 658.4,299.7 660.4,297.8 662.5,296.9 664.5,298.1 666.5,297.6 668.5,297.4 670.5,296.2 672.5,297.6 674.5,298.1 676.6,295.8 678.6,297.5 680.6,296.3 682.6,297.8 684.6,296.5 686.6,296 688.7,296.6 690.7,296 692.7,295.2 694.7,295.8 696.7,294.9 698.7,293.9 700.7,296.1 702.8,294.5 704.8,294.1 706.8,294.5 708.8,293.2 710.8,293.1 712.8,293.5 714.8,293.3 716.9,293.5 718.9,293.9 720.9,292.8 722.9,293.2 724.9,293.1 726.9,291.9 729,292.5 731,291.6 733,292.6 735,292.1 737,291.7 739,290.7 741,291.4 743.1,290.7 745.1,291.4 747.1,290.7 749.1,290.1 751.1,291 753.1,290.7 755.1,289.7 757.2,290.6 759.2,289.5 761.2,289.3 763.2,289.4 765.2,288.7 767.2,288.7 769.2,288.7 771.3,289.6 773.3,289.4 775.3,288.1 777.3,289.1 779.3,287.9 781.3,288 783.4,288.1 785.4,287.6 787.4,288.7 789.4,287.2 791.4,286.1 793.4,287.5 795.4,286.3 797.5,286.1 799.5,284.4 801.5,286.6 803.5,286.4" fill="none" stroke="#800aff" stroke-width="3.5" stroke-linejoin="round" stroke-linecap="round"/>
<polyline points="151,320.5 153,320.6 155,321.1 157,320 159.1,320.7 161.1,319.7 163.1,319.9 165.1,320.8 167.1,320.4 169.1,319.4 171.2,320.5 173.2,320.2 175.2,319.8 177.2,320.6 179.2,320.1 181.2,319.4 183.2,319.7 185.3,321.5 187.3,319.5 189.3,320.6 191.3,320.9 193.3,320.9 195.3,319.8 197.4,320.4 199.4,320.7 201.4,321.1 203.4,320.3 205.4,320 207.4,321.3 209.5,321.4 211.5,321 213.5,320.4 215.5,321 217.5,320.9 219.5,321.4 221.5,320.1 223.6,321 225.6,320.8 227.6,320.3 229.6,321.1 231.6,321 233.6,320.8 235.7,321.3 237.7,320.2 239.7,321.1 241.7,321.4 243.7,321.3 245.7,321.8 247.8,320.5 249.8,320.3 251.8,321.4 253.8,321.5 255.8,322.6 257.8,321.7 259.8,320.8 261.9,321.9 263.9,320.9 265.9,320.5 267.9,323 269.9,321.7 271.9,321.9 274,321.9 276,322.6 278,321.7 280,322.4 282,321.1 284,321 286,322.9 288,323 290,322.6 292,322.6 294,322.7 296,322.3 298,323.8 300,323.4 302,323.4 304,323.5 306,324 308,323.9 310,324.1 312,323.1 314,324.3 316,325.4 318,323.9 320,324.3 322,325.1 324,325.3 326,325.2 328,324 330,325.4 332,324.5 334,324.9 336,325.8 338,325.5 340,326.3 342,327.8 344,326.5 346,326.7 348,325.8 350,326.1 352,326 354,326.5 356,326.3 358,326.7 360,327.1 362,326.7 364,326.6 366,326.8 368,328 370,327.9 372,328.7 374,328.8 376,328.1 378,328.9 380,327.7 382,330.1 384,329.6 386,328.9 388,328.5 390,329.5 392,328.3 394,329.1 396,330.2 398,329.9 400,329.7 402,330.8 404,329.8 406,330.7 408,330.5 410,330.4 412,331.4 414,330.7 416,332.7 418,331.4 420.1,333.1 422.1,331.4 424.1,332.6 426.1,331.8 428.1,331.9 430.1,332.9 432.1,333.4 434.1,332.5 436.1,334.1 438.1,333.1 440.1,333.9 442.1,334.2 444.1,334.5 446.1,333.3 448.1,335.5 450.1,335.1 452.1,334.7 454.1,334.5 456.1,334.3 458.1,334.7 460.1,336 462.2,335.7 464.2,335.4 466.2,336 468.2,337.4 470.2,336.5 472.2,336.5 474.2,337.8 476.2,337.5 478.2,337.4 480.2,337.2 482.2,336.7 484.2,337 486.2,337.5 488.2,337.8 490.2,338.2 492.2,338.4 494.2,338.2 496.2,338.3 498.2,337.6 500.2,337 502.2,338.1 504.2,337.9 506.3,338.1 508.3,338.4 510.3,337.9 512.3,338.1 514.3,338.8 516.3,339 518.3,338.6 520.3,339.3 522.3,339 524.3,338.6 526.3,339.3 528.3,340.5 530.3,338.9 532.3,339.9 534.4,339.9 536.4,339.8 538.5,338.3 540.5,339.8 542.6,338.5 544.6,338.1 546.7,338 548.8,338.3 550.8,337.8 552.9,337.5 554.9,338.3 556.9,336.9 559,336.6 561,337.5 563.1,337.3 565.1,337.4 567.2,335.9 569.2,337 571.3,336.5 573.4,337.1 575.4,335.2 577.5,335.9 579.5,335.4 581.5,334.5 583.6,334.8 585.6,335.8 587.7,334.7 589.8,334.4 591.8,335.2 593.9,335.1 595.9,334.9 598,333.7 600,334 602,334.5 604,333.4 606,333.2 608,334 610,334.4 612,332.6 614,331.6 616,332.2 618,332.4 620,332.8 622,333.1 624,332.5 626,332.1 628,332.5 630,331.7 632,332.1 634,331.7 636,333.6 638,332.3 640,331.2 642,331 644,331.2 646,330.4 648,330.8 650,330.7 652,331.6 654,330.7 656,330.3 658,329.9 660,329.9 662,330.4 664,330.2 666,330.9 668,329.7 670,330.6 672,330.1 674,329.8 676,328.5 678,328.8 680,329.9 682,330.2 684,329.3 686,329.6 688,328.7 690,328.6 692,328.4 694,329.2 696,328.7 698,328.3 700,328.1 702,328.4 704.1,328.1 706.1,327.2 708.1,328.6 710.1,327.5 712.2,327.1 714.2,327.8 716.2,327.4 718.3,326.5 720.3,326.7 722.3,325.5 724.4,325.6 726.4,324.4 728.4,326.3 730.4,324.2 732.5,325.6 734.5,324.5 736.5,324.2 738.6,324.5 740.6,324.6 742.6,324.6 744.6,325.1 746.7,324.1 748.7,324.2 750.7,323.1 752.8,323.7 754.8,323.2 756.8,322.6 758.9,322.6 760.9,322.4 762.9,322.4 764.9,322.3 767,321.6 769,325.3 771,322 773.1,320.3 775.1,320.7 777.1,321.9 779.1,319.1 781.2,320.1 783.2,320.8 785.2,319.2 787.3,321.5 789.3,318.2 791.3,320.4 793.4,320.3 795.4,319.7 797.4,318.8 799.4,319 801.5,318.1 803.5,319" fill="none" stroke="#600aff" stroke-width="3.5" stroke-linejoin="round" stroke-linecap="round"/>
<polyline points="151,362.3 153,362.9 155,363.6 157,365.4 159.1,362.9 161.1,363.2 163.1,362.3 165.1,363.9 167.1,363.4 169.1,362.3 171.2,363.2 173.2,362.8 175.2,362.9 177.2,363.4 179.2,362.9 181.2,363.9 183.2,363 185.3,364 187.3,369.4 189.3,364 191.3,363.1 193.3,363.2 195.3,362.8 197.4,363.9 199.4,364.1 201.4,364.9 203.4,364.4 205.4,363.8 207.4,363.5 209.5,363.9 211.5,363.7 213.5,364.6 215.5,364.3 217.5,363.3 219.5,363.4 221.5,364.6 223.6,364 225.6,363.7 227.6,364.6 229.6,363.7 231.6,363.8 233.6,363.7 235.7,362.8 237.7,364.5 239.7,363.3 241.7,363.7 243.7,363.6 245.7,364.5 247.8,364.1 249.8,364.2 251.8,363.2 253.8,364.1 255.8,363.3 257.8,364.4 259.8,364.5 261.9,364.3 263.9,365.5 265.9,364.7 267.9,364.7 269.9,364.5 271.9,364.3 274,365 276,365.1 278,363.7 280,365.1 282,364.9 284,365.2 286,365 288,364 290,364.1 292,366 294,365.1 296,364.1 298,365.2 300,364.9 302,364.1 304,363.9 306,364.4 308,365.6 310,365.5 312,365.5 314,365.9 316,366.2 318,364.7 320,365.9 322,365.6 324,365.5 326,366 328,366.4 330,366.4 332,365.7 334,366.4 336,368 338,366.3 340,366 342.1,367.3 344.2,367.7 346.2,367.7 348.3,366.9 350.4,368.4 352.5,367.5 354.5,367.4 356.6,367.9 358.7,368.3 360.8,369 362.8,369.1 364.9,368.8 367,369.6 369,369.2 371,369.8 373,368.6 375,368.7 377,370.2 379,369.1 381,369.9 383,370.1 385,370.1 387,370.2 389,371.4 391,369.1 393,371.2 395,372.1 397,370.8 399,370.8 401,371.3 403,372 405,370.2 407,371.1 409,371 411.1,371.5 413.1,371.3 415.2,371.7 417.2,371.1 419.3,371.4 421.3,371.1 423.4,371.2 425.4,371.5 427.5,371.6 429.5,371.1 431.6,372.8 433.6,371.7 435.7,370.8 437.7,371.9 439.8,370.5 441.8,370.9 443.9,370.3 445.9,370.2 448,369.4 450,367.8 452,366.6 454,366.3 456.5,362.4 459,363.3 461,363.9 463,364.2 465,365.5 467,369.3 469,369.8 471,372.9 473,373.3 475,373.9 477,374.8 479,375.3 481.1,375.7 483.1,375.3 485.2,375.2 487.2,375.3 489.3,376 491.3,375.8 493.4,374.8 495.4,375.1 497.5,375.7 499.5,375.2 501.6,375.4 503.6,375.2 505.7,375.6 507.7,376.1 509.8,376.5 511.8,376 513.9,377.3 515.9,376.1 518,378.1 520,376.9 522,376.5 524,375.9 526,374.4 528,375.9 530,376 532,377 534,375 536,376.9 538,375.5 540,376 542,374 544,375.5 546,375.2 548,375.7 550,375.3 552,374.5 554,375.6 556,375.4 558,375.3 560,375.5 562,375.4 564,374.7 566,373.8 568,373.7 570,375.3 572,374.8 574,374.4 576,374 578,374.2 580,374.1 582,373.9 584,373.6 586,375.2 588,374 590,373.4 592,372.9 594,373.2 596,374 598,373.9 600,373.2 602,373.2 604,372.9 606,372.2 608.1,373.5 610.1,372.7 612.1,373.8 614.1,371.7 616.1,371.9 618.1,372.3 620.1,371.4 622.2,370.6 624.2,370.6 626.2,371.1 628.2,371.1 630.2,370.6 632.2,371.1 634.3,370.9 636.3,370.3 638.3,370 640.3,369.6 642.3,369.9 644.3,369.9 646.3,369.2 648.4,369.3 650.4,368.7 652.4,367.8 654.4,367.9 656.4,368.8 658.4,368.4 660.4,368.9 662.5,367.8 664.5,368.1 666.5,368.2 668.5,367.8 670.5,366.7 672.5,366.7 674.5,366.7 676.6,365.9 678.6,366.6 680.6,366.7 682.6,365.6 684.6,366.9 686.6,365.4 688.7,365.3 690.7,365.1 692.7,364.6 694.7,365.1 696.7,364.7 698.7,365.5 700.7,364.7 702.8,364.4 704.8,363.8 706.8,362.9 708.8,363.5 710.8,362.9 712.8,363.8 714.8,363 716.9,363.8 718.9,363.1 720.9,363 722.9,362.4 724.9,362.2 726.9,362.3 729,362.3 731,361.1 733,361.7 735,362.8 737,361 739,360.7 741,360.2 743.1,359.6 745.1,361 747.1,360.1 749.1,360.1 751.1,360.8 753.1,361.1 755.1,358.8 757.2,359.8 759.2,359.4 761.2,359.1 763.2,358.9 765.2,358.4 767.2,359.2 769.2,358.5 771.3,358.1 773.3,358.5 775.3,358.1 777.3,357.6 779.3,357.4 781.3,358.1 783.4,357.1 785.4,356.6 787.4,355.9 789.4,356.1 791.4,355.5 793.4,356 795.4,355.9 797.5,354.3 799.5,355.4 801.5,355.6 803.5,355.2" fill="none" stroke="#1e2dff" stroke-width="3.5" stroke-linejoin="round" stroke-linecap="round"/>
<polyline points="151,464.1 153,465.5 155,464.3 157,464 159.1,464 161.1,464.7 163.1,465.3 165.1,465.4 167.1,464.8 169.1,464 171.2,464.3 173.2,464.1 175.2,464.6 177.2,463.6 179.2,464.7 181.2,465.1 183.2,464.6 185.3,465 187.3,464.1 189.3,463.8 191.3,464.3 193.3,465.4 195.3,465.3 197.4,464.4 199.4,465.4 201.4,464.5 203.4,465.6 205.4,464.9 207.4,464.4 209.5,465.1 211.5,464.2 213.5,464.1 215.5,463.8 217.5,464.8 219.5,464.6 221.5,464.6 223.6,464.4 225.6,465.5 227.6,464.4 229.6,464.2 231.6,465.4 233.6,465.5 235.7,464.8 237.7,463.6 239.7,464.3 241.7,465 243.7,464.6 245.7,465.6 247.8,463.8 249.8,465 251.8,464.2 253.8,465.4 255.8,464.6 257.8,465.2 259.8,464.2 261.9,463.8 263.9,463.9 265.9,464.2 267.9,464 269.9,465.3 271.9,465.4 274,464.8 276,464 278,464.5 280,464.1 282,465.1 284,464.1 286,463.9 288,463.1 290,461.8 292,462.2 294,461.7 296,462.2 298,461.7 300,460.8 302,460.7 304,461.5 306,459.7 308,459.3 310,459.4 312,459 314.2,459.2 316.3,460.1 318.5,461.1 320.7,459.3 322.8,460.7 325,461.3 327.2,461.9 329.5,462.9 331.8,463.8 334,465.5 336,465.6 338,466.6 340,467.2 342.5,467.6 345,467.4 348.3,464.5 350.5,242.2 352.6,10 355.9,10 356.4,244.5 357,469 357,473.1 360,473 362,473.6 364,473.5 366,473 368,473.1 370,473 372,473.8 374,473.2 376,473.1 378,473.9 380,474.1 382,472.7 384,474.8 386,473.8 388,473.8 390,474.5 392,473.9 394,473.6 396,475.3 398,473.3 400,473.9 402,474.5 404,473.2 406,473.8 408,474 410,475.2 412,473.1 414,473.6 416,474 418,473.6 420,472.7 422,473.6 424,473.4 426,473.6 428,473.9 430,473.8 432,473.4 434,473.3 436,472.4 438,472.9 440,473 442,472.6 444,472.8 446,472.2 448,473.6 450,473.9 452,472.3 454,472.8 456,472.3 458,473.2 460,472.6 462,472.3 464,472.1 466,472.3 468,471.5 470,472.5 472,471.6 474,472.3 476,472 478,472.5 480,471.8 482,472.2 484,470.9 486,471.7 488,471 490,471.1 492,470.8 494,471.2 496,469.3 498,470.5 500,469.2 502,470.7 504,468.6 506,469 508,468.5 510,470.3 512,468.4 514,469 516,468.5 518,467.6 520,468.3 522,468.7 524,468 526,468.5 528,467.6 530,467.6 532,467.2 534,467.5 536,468.3 538,467.2 540,466.9 542,466.4 544,466.2 546,467.5 548,465.8 550,465.9 552,466.3 554,466 556,467.4 558,464.7 560,466.3 562,466.4 564,465.2 566,465.5 568,466 570,466.7 572,465.1 574,464.6 576,466.1 578,466.3 580,465.1 582,463.9 584,466.1 586,465 588,465.7 590,464.9 592,464.7 594,464.5 596,465.6 598,465.5 600,463.3 602,463.9 604,465.5 606,464.1 608.1,463.4 610.1,464.1 612.1,463.9 614.1,463.8 616.1,463.5 618.1,463.5 620.1,463.3 622.2,463.7 624.2,462.9 626.2,463.1 628.2,463.1 630.2,463.8 632.2,463.2 634.3,462.8 636.3,463.1 638.3,462.9 640.3,463.2 642.3,462.7 644.3,463.4 646.3,463 648.4,462.1 650.4,461.8 652.4,462.5 654.4,462.1 656.4,461.7 658.4,460.7 660.4,460.4 662.5,461.6 664.5,461.8 666.5,461.7 668.5,460.3 670.5,461.6 672.5,460.6 674.5,461 676.6,460.9 678.6,460.1 680.6,460.1 682.6,459.1 684.6,459.7 686.6,459.1 688.7,460.3 690.7,460 692.7,460.4 694.7,460 696.7,459.3 698.7,459.8 700.7,459.2 702.8,459.7 704.8,459.4 706.8,458.5 708.8,459 710.8,459 712.8,458.6 714.8,459.3 716.9,459.7 718.9,458.3 720.9,458.2 722.9,457 724.9,458.1 726.9,457.9 729,456.7 731,458.1 733,458.2 735,457.3 737,457.4 739,456.9 741,457.8 743.1,456.4 745.1,457 747.1,458.3 749.1,457 751.1,457.2 753.1,456.7 755.1,456 757.2,456.5 759.2,456.7 761.2,455.7 763.2,456.5 765.2,456.9 767.2,456.7 769.2,455 771.3,455.3 773.3,454.8 775.3,456.3 777.3,455.9 779.3,455.9 781.3,454.8 783.4,454.5 785.4,455.2 787.4,455.1 789.4,454.4 791.4,454.9 793.4,455.1 795.4,454.7 797.5,453.9 799.5,453.1 801.5,454.1 803.5,454.3" fill="none" stroke="#1496ff" stroke-width="3.5" stroke-linejoin="round" stroke-linecap="round"/>
<polyline points="151,491.2 153,491.1 155,491 157.1,492 159.1,491.6 161.1,491.8 163.1,491.2 165.1,491.5 167.2,492 169.2,491.4 171.2,491.3 173.2,491.9 175.2,492.9 177.3,492.4 179.3,493.2 181.3,492.4 183.3,492.3 185.3,491.7 187.4,492.3 189.4,493.6 191.4,493 193.4,493.3 195.4,493.4 197.5,493 199.5,493 201.5,493.3 203.5,493.7 205.6,493.6 207.6,493.7 209.6,493.6 211.6,493.1 213.6,493.5 215.7,493.2 217.7,494.4 219.7,492.6 221.7,493.8 223.7,495.5 225.8,493.9 227.8,493.5 229.8,494.2 231.8,495.1 233.8,494.3 235.9,494.8 237.9,494.6 239.9,494.4 241.9,496.6 243.9,494.8 246,494.5 248,494.6 250,495.3 252,495.4 254,495.8 256,495.5 258,494.7 260,496.1 262,495.7 264,495.9 266,495.3 268,496 270,496.1 272,496.6 274,495.9 276,497 278,497.2 280,496.6 282,497 284,497 286,498.2 288,496.3 290,497.8 292.4,497.2 294.8,498.2 297.2,499.2 299.6,498 301.8,497.5 304,496 307.5,493 309.4,256.5 311.4,10 315.4,10 315.6,261 315.8,502 317,506.4 319,506.3 321,506.9 323,505.6 325.1,505.7 327.1,507 329.1,506.1 331.1,506 333.2,506.3 335.2,505.3 337.2,506.5 339.2,505.9 341.3,506.1 343.3,505.4 345.3,506 347.3,505.2 349.4,506.2 351.4,506.2 353.4,506 355.4,505.7 357.5,505.7 359.5,503.7 361.5,505.7 363.5,505 365.6,505.1 367.6,504.9 369.6,504.1 371.6,504.6 373.7,505.2 375.7,505.6 377.7,504.3 379.7,504.1 381.8,505.4 383.8,504 385.8,505.7 387.8,504.4 389.9,503.8 391.9,504.8 393.9,505.2 395.9,503.3 398,505 400,503.8 402,504.8 404,503.6 406,502.8 408,504 410,504.2 412,504.8 414,504.5 416,503.8 418,503.1 420,502.9 422,502.9 424,502.5 426,502.8 428,501.4 430,502.9 432,502.7 434,504.2 436,503 438,502.2 440,502.7 442,501.6 444,501.9 446,501 448,502.9 450,502.4 452,501.2 454,501.8 456,502.3 458,502 460,501.8 462,501 464,501.1 466,501.4 468,501.8 470,500.7 472,500.4 474,501.7 476,500.4 478,501.5 480,500.9 482,501.2 484,501.5 486,500.7 488,500.6 490,499.4 492,499.4 494,500 496,500.4 498,500.1 500,500.5 502,499.2 504,498.9 506,499.2 508,498.5 510,498.3 512,497.5 514,498.6 516,497.2 518,497.9 520,496.6 522,498 524,496.5 526,497.5 528,495.8 530,496.4 532,497.2 534,495.8 536,496.2 538,495.7 540,494.5 542,495.9 544,496 546,495 548,496 550,495.1 552,494.9 554,495.5 556,495 558,496.7 560,494.4 562,495.7 564,495.8 566,494 568,494.1 570,495.4 572,494.7 574,495.2 576,495.6 578,494.7 580,494.2 582,493.2 584,494.9 586,494.1 588,494.8 590,494.8" fill="none" stroke="#0ad7ff" stroke-width="3.5" stroke-linejoin="round" stroke-linecap="round"/>
<polyline points="151,523.5 153,525.4 155.1,525.2 157.1,525.1 159.1,524 161.1,524.6 163.2,524.6 165.2,524.8 167.2,524.5 169.3,525.5 171.3,525.5 173.3,525.7 175.4,525.3 177.4,526.5 179.4,525.9 181.4,524.3 183.5,525.7 185.5,526.1 187.5,526.8 189.6,526.2 191.6,526.3 193.6,526.2 195.6,527.1 197.7,526.5 199.7,526.5 201.7,526.6 203.8,527.5 205.8,526.9 207.8,526.3 209.9,527.8 211.9,527.1 213.9,527.9 215.9,528 218,528.6 220,528.7 222.1,527.9 224.1,528.4 226.2,527.9 228.2,529.9 230.3,529.4 232.4,530.2 234.4,529.5 236.5,528.7 238.5,531 240.6,530.4 242.6,530.7 244.7,530.9 246.8,531.4 248.8,531.6 250.9,530.6 252.9,532.4 255,531.7 257.4,531.9 259.7,532.5 262,531.3 263.8,527 265.3,273.5 266.8,10 269.9,10 270.6,278 271.3,536 273,539.1 275,538.7 277,540.5 279,540.9 281,540.5 283,539.7 285.1,539.9 287.1,539.6 289.1,540.4 291.1,540.7 293.1,540.7 295.1,539.6 297.2,540.1 299.2,540.2 301.2,539.5 303.2,539.6 305.2,540.9 307.2,539.7 309.3,540 311.3,539.1 313.3,539.3 315.3,538.2 317.3,539.1 319.3,539.8 321.4,540.3 323.4,539.6 325.4,539.3 327.4,538.8 329.4,538.3 331.4,538.5 333.5,538.9 335.5,538 337.5,538.9 339.5,537.7 341.5,537.2 343.5,537.6 345.6,537.1 347.6,537.2 349.6,538.6 351.6,537.7 353.6,537.9 355.6,538.4 357.7,538.4 359.7,537.2 361.7,538.3 363.7,537.6 365.7,537.3 367.7,537.5 369.8,536.3 371.8,536.6 373.8,536.9 375.8,537.3 377.8,536.6 379.8,536.7 381.9,537.3 383.9,537.5 385.9,537 387.9,537.2 389.9,536.1 391.9,536.1 394,536.4 396,536 398,535.8 400,537 402,535.8 404,535.2 406,535.9 408,536.6 410,535.5 412,536 414,534.9 416,534.8 418,534.6 420,534.8 422,535.8 424,533.9 426,535.5 428,533.8 430,534.1 432,534.7 434,534.4 436,534.1 438,532.8 440,533.9 442,533 444,535 446,533.2 448,533.4 450,532.4 452,532.7 454,532.1 456,533.4 458,532.5 460,532.9 462,532 464,532 466,533 468,531.5 470,530.9 472,532.1 474,531.1 476,531.4 478,532.1 480,530.9 482,531.8 484,530.7 486,531.8 488,531.5 490,530.3 492,530.3 494,529.8 496,530.2 498,530.6 500,528.9 502,530.2 504,528.6 506,528.8 508,528 510,530.2 512,528.8 514,528.8 516,528.1 518,528.9 520,526.9 522,528 524,529.1 526,527.4 528,527.5 530,527.7 532,526.7 534,527 536,527.4 538,526.8 540,526.8 542,526.3 544,526.6 546,526.5 548,527.3 550,526.8 552,526.2 554,524.9 556,526.7 558,526.7 560,525.7 562,525 564,525.5 566,526.7 568,525.5 570,525.9 572,526.2 574,526.8 576,526.1 578,526 580,525.7 582,527 584,526.6 586,525.9 588,525.1 590,525.4" fill="none" stroke="#0af0c8" stroke-width="3.5" stroke-linejoin="round" stroke-linecap="round"/>
<polyline points="151,560.1 153,559.4 155.1,560.5 157.1,560.3 159.2,560.4 161.2,560.8 163.2,560.8 165.3,560.1 167.3,560.6 169.4,562.3 171.4,560.4 173.5,560.9 175.5,562 177.5,561.4 179.6,561.1 181.6,561 183.7,562.2 185.7,562.6 187.8,563 189.8,562.3 191.8,563.1 193.9,562 195.9,562.8 198,562.5 200,563.2 202,563.9 204,564.4 206,563.6 208,565.4 210,564.7 212,563.9 215.5,563.7 217.5,560 218.3,290 219.1,10 222.7,10 223.2,294.5 223.8,569 225,571.4 227,572.9 229,573.6 231,573.5 233.1,573.9 235.1,573.3 237.1,573.4 239.1,572.4 241.2,573.3 243.2,572.6 245.2,572.8 247.3,572.9 249.3,573 251.3,571.9 253.3,571.8 255.4,572.5 257.4,572.9 259.4,572.8 261.5,573 263.5,573.2 265.5,572.6 267.5,572.2 269.6,571.5 271.6,571.5 273.6,571.7 275.7,572.1 277.7,572 279.7,571.8 281.7,571.6 283.8,572 285.8,571.7 287.8,571.6 289.9,571.6 291.9,571 293.9,570.6 295.9,571.4 298,571.3 300,570.9 302,570.7 304,572.2 306,570.3 308,570.5 310,570.8 312,569.8 314,570.5 316,571.4 318,570.8 320,570.6 322,570.5 324,570.1 326,570.5 328,569.8 330,569.5 332,569.8 334,570.2 336,569.8 338,569.9 340,568.2 342,570 344,570.6 346,570 348,568.9 350,568.5 352,569.1 354,568.2 356,569.2 358,568.4 360,569.2 362,569.3 364,567.2 366,568.5 368,567.9 370,567.4 372,567.7 374,567.9 376,568.6 378,567 380,568.4 382,568.9 384,568 386,567.9 388,567.5 390,566.7 392,567.6 394,567.5 396,567.6 398,568.6 400,567.4 402,567.2 404,567.8 406,566 408,566 410,566.4 412,566.1 414,566.9 416,566.2 418,567.3 420,567.1 422,566.6 424,565.8 426,566.3 428,566.4 430,565.2 432,565.9 434,566.1 436,565.7 438,566.4 440,566.1 442,564.8 444,565.3 446,564.7 448,565.4 450,564.5 452,565.5 454,565.1 456,565.3 458,564.6 460,563.7 462,565.6 464,564.3 466,565.2 468,564.5 470,564.6 472,565.2 474,564.2 476,564.8 478,563 480,564.3 482,563.5 484,563.4 486,563.3 488,563.3 490,564 492,561.7 494,562.7 496,562 498,563 500,561.9 502,562.2 504,561.6 506,562 508,562.1 510,561.1 512,561.2 514,560.1 516,561 518,561.1 520,560.1 522,561 524,558.9 526,558.9 528,559 530,559.3 532,559.5 534,559.3 536,559.1 538,559.4 540,558.6 542,558 544.1,558 546.1,559.9 548.2,557.2 550.2,558.5 552.2,559.4 554.3,558.8 556.3,558 558.4,558.4 560.4,558.9 562.4,559 564.5,557.7 566.5,558.7 568.6,558.3 570.6,558.8 572.6,558.9 574.7,557.8 576.7,557.1 578.8,558.2 580.8,559 582.8,558.3 584.9,558 586.9,559.2 589,557.1 591,558.3" fill="none" stroke="#0aeb7d" stroke-width="3.5" stroke-linejoin="round" stroke-linecap="round"/>
<polyline points="151,599.4 153.3,599.9 155.7,600.3 158,600.9 160.2,598.7 162.5,598.1 165.5,595 167.7,307.5 169.8,10 173.4,10 173.1,312 172.8,604 174,606.4 176.5,608.3 179,608.4 181,609.2 183,608.2 185.1,608.5 187.1,609.3 189.1,608.5 191.1,608.9 193.1,608.7 195.1,608.1 197.2,607.3 199.2,608.8 201.2,608.2 203.2,608.6 205.2,606.7 207.2,606.8 209.2,606.5 211.3,607.1 213.3,608.2 215.3,607.8 217.3,607.4 219.3,607.4 221.3,607.7 223.4,607 225.4,607.3 227.4,607.1 229.4,605.6 231.4,606.6 233.4,607.6 235.5,606.4 237.5,606.5 239.5,606.1 241.5,606.1 243.5,607 245.6,606.1 247.6,605.6 249.6,604.2 251.6,605.7 253.6,604.7 255.6,604.7 257.6,606.2 259.7,606.1 261.7,604.4 263.7,606 265.7,605.7 267.7,604.9 269.8,605.7 271.8,604.2 273.8,604.4 275.8,604.1 277.8,604.2 279.8,605.4 281.9,603.9 283.9,604 285.9,604 287.9,604.6 289.9,604.2 291.9,604.9 293.9,603.8 296,603.4 298,603.8 300,604 302,603.4 304,604 306,604.8 308,603.3 310,603.6 312,604.3 314,603 316,602.8 318,602.5 320,603.3 322,603.3 324,602.8 326,602.9 328,603.5 330,603.2 332,601.7 334,602.5 336,602.5 338,602.7 340,602.1 342,601.7 344,601.8 346,600.9 348,601.8 350,601.4 352,602 354,601 356,601.2 358,600.8 360,600.7 362,601.6 364,600.9 366,601.3 368,600.3 370,600.9 372,599.8 374,600.4 376,600.3 378,600.9 380,600.5 382,600.2 384,600.7 386,600.3 388,600.4 390,600.4 392,599.8 394,599.6 396,599.9 398,599.4 400,599.8 402,600.1 404,599.9 406,599 408,598.4 410,599.1 412,598.9 414,599.6 416,598.6 418,598.6 420,599.1 422,598.3 424,598.4 426,599.4 428,599.2 430,598.6 432,598.3 434,597.4 436,598.3 438,597.9 440,597.9 442,597.4 444,597.6 446,597.4 448,597.6 450,598.2 452,597.4 454,596.1 456,596.5 458,596 460,596.4 462,597.1 464,596.9 466,596.2 468,596.7 470,596 472,595.5 474,595.4 476,595.6 478,596.9 480,595.2 482,596.6 484,596.5 486,595.5 488,595.4 490,594.9 492,595.2 494,595.4 496,594.9 498,595.4 500,595.3 502,594.7 504,594.6 506,594.2 508,594.3 510,593.3 512,594.1 514,593.8 516,593.1 518,594.7 520,592.7 522,592.6 524,593.2 526,591.7 528,592.3 530,591.7 532,591.9 534,592.3 536,592.4 538,592.8 540,592.5 542,592.6 544,592.1 546,591.4 548,592.2 550,591.2 552,591 554,592.2 556,591.6 558,591.2 560,591.4 562,591.4 564,590 566,590.6 568,589.9 570,590.5 572,590 574,591.1 576,590.5 578,589.6 580,590 582,589.1 584,589.8 586,590 588,589.8" fill="none" stroke="#82f00a" stroke-width="3.5" stroke-linejoin="round" stroke-linecap="round"/>
<polyline points="151,642.1 153,643 155,643.4 157,643.1 159.1,643.5 161.1,642 163.1,642.9 165.1,642.1 167.1,642.5 169.1,642.6 171.1,642.6 173.1,641.8 175.2,642.1 177.2,641.2 179.2,640.9 181.2,642 183.2,641.5 185.2,640.5 187.2,640.9 189.3,641.3 191.3,642.1 193.3,641.7 195.3,641.4 197.3,639.8 199.3,640.7 201.3,640.9 203.4,640.8 205.4,640.7 207.4,640.2 209.4,641.3 211.4,641 213.4,639.9 215.4,639.3 217.4,641 219.5,639.3 221.5,640.3 223.5,640.6 225.5,638.8 227.5,639.4 229.5,638.9 231.5,639.4 233.6,639.1 235.6,640 237.6,639.1 239.6,638.6 241.6,639.2 243.6,638.3 245.6,638.1 247.6,639.5 249.7,637.6 251.7,637.7 253.7,637.9 255.7,637.1 257.7,636.4 259.7,638.2 261.7,637 263.8,637 265.8,637 267.8,636.6 269.8,636.4 271.8,637 273.8,638.3 275.8,637.2 277.9,637.1 279.9,635.6 281.9,636.4 283.9,635.6 285.9,636.7 287.9,636 289.9,636 291.9,635.8 294,635.4 296,634.8 298,635.9 300,634.6 302,634.7 304,635.1 306,634.7 308,635.2 310,635.6 312,635 314,634.9 316,634.7 318,635 320,633.3 322,634.5 324,633.7 326,633.4 328,634 330,633.7 332,634.2 334,634.4 336,632.2 338,633.5 340,634.6 342,633.8 344,634.1 346,633.1 348,632.1 350,632.2 352,633.2 354,633.2 356,632.1 358,632.3 360,632.5 362,631.2 364,631.9 366,633 368,633.3 370,631.8 372,632.8 374,631.3 376,631.1 378,630.1 380,631.9 382,631 384,632.5 386,631.2 388,631 390,629.7 392,631.6 394,630.4 396,630.4 398,629.1 400,630.9 402,630.8 404,629.7 406,630 408,630.1 410,630.4 412,629.7 414,630.6 416,629.3 418,629 420,629 422,627.6 424,628.6 426,629.6 428,629 430,628.3 432,628.9 434,627.3 436,628.3 438,628.7 440,628.7 442,627.7 444,628.6 446,629 448,627.6 450,628.2 452,626.7 454,626.3 456,627.8 458,627.3 460,627.3 462,626.7 464,626.8 466,627.4 468,627.8 470,626.6 472,625.6 474,627.2 476,626.7 478,626.7 480,626.3 482,627.4 484,625.9 486,626 488,624.5 490,625.1 492,624.9 494,625.1 496,625.2 498,624.4 500,625.7 502,623.9 504,624.1 506,624.4 508,623.4 510,624.3 512,624.2 514,623.5 516,624.7 518,623.4 520,623.4 522,622.5 524,621.9 526,622.4 528,622.5 530,622.2 532,622.8 534,620.8 536,621.4 538,620.8 540,622.6 542,621.4 544.1,621.3 546.1,620.9 548.2,622.1 550.2,621.2 552.2,621.6 554.3,620.2 556.3,622 558.4,621.5 560.4,621.5 562.4,621.9 564.5,621 566.5,620.9 568.6,621.4 570.6,621.2 572.6,620.7 574.7,620.8 576.7,620.5 578.8,621.1 580.8,621.2 582.8,620.6 584.9,621.7 586.9,619.6 589,620.3 591,621.4" fill="none" stroke="#b4e10a" stroke-width="3.5" stroke-linejoin="round" stroke-linecap="round"/>
<polyline points="633.7,492.1 635.7,491.5 637.8,492.8 639.8,492.3 641.8,491.3 643.9,492.2 645.9,491.1 647.9,490.9 650,491.3 652,491 654,490.6 656.1,490.9 658.1,490.4 660.1,490.8 662.2,490.7 664.2,490.9 666.2,490.2 668.3,489.6 670.3,489.5 672.3,489.9 674.4,490.7 676.4,490.2 678.4,489.4 680.5,490 682.5,488.9 684.5,489.8 686.6,489 688.6,489.5 690.6,489.3 692.6,488.7 694.7,488.9 696.7,488.1 698.7,488.4 700.8,488.9 702.8,490.3 704.8,488.5 706.9,488 708.9,487.4 710.9,488.3 713,486.8 715,487.1 717,487.6 719.1,486.7 721.1,487.9 723.1,487.6 725.2,486.6 727.2,486.5 729.2,486 731.3,485.8 733.3,486.6 735.3,486.6 737.4,486.3 739.4,486.2 741.4,485.6 743.5,486 745.5,485" fill="none" stroke="#0ad7ff" stroke-width="3.5" stroke-linejoin="round" stroke-linecap="round"/>
<polyline points="634.4,522.9 636.4,523.6 638.4,523.4 640.4,522.4 642.5,522.3 644.5,523.1 646.5,523.2 648.5,521.4 650.5,521.8 652.5,522.1 654.6,522.4 656.6,521.3 658.6,521.9 660.6,521.3 662.6,522.6 664.6,521.5 666.6,521.1 668.7,520.8 670.7,521.4 672.7,521.1 674.7,520.1 676.7,520.7 678.7,519.8 680.8,519.9 682.8,519.6 684.8,519.4 686.8,519.6 688.8,519.4 690.8,520 692.8,520 694.9,519.4 696.9,518.8 698.9,519.7 700.9,518.2 702.9,518.1 704.9,519.3 707,519.2 709,519.2 711,518.5 713,517.9" fill="none" stroke="#0af0c8" stroke-width="3.5" stroke-linejoin="round" stroke-linecap="round"/>
<polyline points="636,554.7 638.1,555.1 640.1,554.3 642.2,554.1 644.3,553.6 646.4,553.6 648.4,554.4 650.5,554.1 652.6,553.1 654.6,553 656.7,553.1 658.8,553.5 660.9,552.4 662.9,552.8 665,551.6 667.1,551.9 669.1,552.6 671.2,552.7 673.3,551.5 675.4,551.5 677.4,552.1 679.5,551.4" fill="none" stroke="#0aeb7d" stroke-width="3.5" stroke-linejoin="round" stroke-linecap="round"/>
<polyline points="650.5,587.4 652.7,587.8 654.8,587.4 657,587.7 659.2,587.3 661.3,586.4 663.5,586.4 665.7,586.2 667.8,585.3 670,585.4" fill="none" stroke="#82f00a" stroke-width="3.5" stroke-linejoin="round" stroke-linecap="round"/>
<polyline points="653.9,617.4 655.9,616 657.9,617.1 659.9,616.5 662,616.1 664,616.2 666,615.9 668,616.1 670,615.1" fill="none" stroke="#b4e10a" stroke-width="3.5" stroke-linejoin="round" stroke-linecap="round"/>
</g>
<line x1="465.5" y1="84.3" x2="465.8" y2="88.3" stroke="#0f78c0" stroke-width="4.4"/>
<line x1="466.4" y1="97.2" x2="466.9" y2="105.2" stroke="#0f78c0" stroke-width="4.4"/>
<line x1="467.5" y1="114.2" x2="468" y2="122.2" stroke="#0f78c0" stroke-width="4.4"/>
<line x1="468.6" y1="131.2" x2="469.1" y2="139.2" stroke="#0f78c0" stroke-width="4.4"/>
<line x1="469.7" y1="148.3" x2="470.3" y2="156.3" stroke="#0f78c0" stroke-width="4.4"/>
<line x1="470.9" y1="165.3" x2="471.4" y2="173.3" stroke="#0f78c0" stroke-width="4.4"/>
<line x1="472" y1="182.3" x2="472.5" y2="190.3" stroke="#0f78c0" stroke-width="4.4"/>
<line x1="473.1" y1="199.2" x2="473.4" y2="203.5" stroke="#0f78c0" stroke-width="4.4"/>
<polyline points="294.3,468.2 312.2,455.6 344.4,426.5 356,413.4 367.6,401.8 380,390.2 393.7,381.5 408.9,374.8 440.8,363.9 456.1,358.1 469.9,350.1 480.8,338.5 504,313.8 582.5,207.5" fill="none" stroke="#f7941d" stroke-width="5" stroke-linejoin="round" stroke-dasharray="9 7.8" stroke-linecap="butt"/>
<polyline points="161.5,609.8 242.5,547.4 341.4,481.1 460.5,385.4" fill="none" stroke="#13894a" stroke-width="5" stroke-linejoin="round" stroke-dasharray="9.5 7.5" stroke-dashoffset="6" stroke-linecap="butt"/>
<line x1="151" y1="17" x2="804.5" y2="17" stroke="#000" stroke-width="2"/>
<line x1="151" y1="16" x2="151" y2="670.5" stroke="#000" stroke-width="2.2"/>
<line x1="151" y1="669.5" x2="804.5" y2="669.5" stroke="#000" stroke-width="2.2"/>
<line x1="803.5" y1="16" x2="803.5" y2="475.5" stroke="#000" stroke-width="2"/>
<text x="0.5" y="26" font-size="44" font-weight="bold" transform="translate(0.5 0) scale(0.9 1)">a</text>
<text x="36.3" y="135.7" font-size="33.2">40 mK</text>
<line x1="134.9" y1="82.8" x2="134.9" y2="211.2" stroke="#000" stroke-width="2"/>
<polygon points="134.9,228 129.4,207 140.4,207" fill="#000"/>
<polygon points="134.9,66 140.4,87 129.4,87" fill="#000"/>
<rect x="616" y="27" width="175" height="37" fill="#fff"/>
<text x="621.7" y="57" font-size="33.5"><tspan font-style="italic">T</tspan><tspan font-size="21" dy="8">r</tspan><tspan dy="-8"> = 80 mK</tspan></text>
<rect x="681" y="79" width="200" height="38" fill="#fff"/>
<text x="684.4" y="110.6" font-size="33.2">0°, <tspan font-style="italic">H</tspan> // plane</text>
<text x="811.3" y="165.7" font-size="34">-0.5°</text>
<text x="811.5" y="197.9" font-size="34">-1°</text>
<text x="811.3" y="231.7" font-size="34">-1.5°</text>
<text x="814.2" y="263" font-size="34">-2°</text>
<text x="816" y="291.5" font-size="34">-2.5°</text>
<text x="814.8" y="326.8" font-size="34">-3°</text>
<text x="817.5" y="359.9" font-size="34">-3.5°</text>
<text x="815.3" y="397.2" font-size="34">-4°</text>
<text x="815" y="427.4" font-size="34">-5°</text>
<text x="814.5" y="460.4" font-size="34">-6°</text>
<text x="589.8" y="501.3" font-size="34">-7°</text>
<text x="590" y="533.3" font-size="34">-8°</text>
<text x="591" y="567.3" font-size="34">-9°</text>
<text x="587.5" y="603" font-size="34">-10°</text>
<text x="591.5" y="637.6" font-size="34">-11°</text>
<text x="463.4" y="77" font-size="28.5"><tspan font-style="italic">H</tspan><tspan font-size="16.8" dy="6">peak1</tspan></text>
<text x="581.7" y="223.6" font-size="28.5"><tspan font-style="italic">H</tspan><tspan font-size="16.8" dy="6">peak3</tspan></text>
<text x="464.5" y="398.3" font-size="28.5"><tspan font-style="italic">H</tspan><tspan font-size="16.8" dy="6">peak2</tspan></text>
<text x="151" y="712" font-size="34" text-anchor="middle">7</text>
<text x="281.5" y="712" font-size="34" text-anchor="middle">8</text>
<text x="412" y="712" font-size="34" text-anchor="middle">9</text>
<text x="542.5" y="712" font-size="34" text-anchor="middle">10</text>
<text x="673" y="712" font-size="34" text-anchor="middle">11</text>
<text x="803.5" y="712" font-size="34" text-anchor="middle">12</text>
<text x="418.5" y="754.9" font-size="35">μ<tspan x="438.7" y="763.3" font-size="27.5">0</tspan><tspan x="453.2" y="754.9" font-style="italic">H</tspan> (T)</text>
<text x="78.8" y="425.3" font-size="35.2" transform="rotate(-90 78.8 425.3)">Δ<tspan font-style="italic">T</tspan> (arb. units)</text>
<line x1="276.8" y1="624.3" x2="205.4" y2="629" stroke="#5cc21e" stroke-width="2.5"/>
<polygon points="189.4,630 209,623.2 209.7,634.2" fill="#5cc21e"/>
<path d="M690.8,596.5 L729.6,609.5 L730.2,636.9 L691.2,622.3 Q688.8,609 690.8,596.5 Z" fill="url(#gLeft)"/>
<polygon points="729.6,609.5 770.6,609.2 770.6,637 730.2,636.9" fill="url(#gLeft)"/>
<polygon points="770,609 888.7,583.2 892.8,590 892.8,606 891.5,610.3 770,637" fill="url(#gFront)"/>
<polygon points="698,583.3 708.5,580.5 812.9,557 889.1,582.8 770.6,609 729.6,609.5 690.8,596.5" fill="#a99580"/>
<line x1="761.7" y1="594.1" x2="761.7" y2="529.6" stroke="#000" stroke-width="2.5"/>
<polygon points="761.7,516 767.7,533 755.7,533" fill="#000"/>
<line x1="761.7" y1="594.1" x2="856.5" y2="573" stroke="#000" stroke-width="2.5"/>
<polygon points="869.8,570 854.5,579.6 851.9,567.8" fill="#000"/>
<line x1="761.7" y1="594.1" x2="800.4" y2="527.7" stroke="#3a6fd0" stroke-width="3"/>
<polygon points="807.3,516 803.9,533.7 793.5,527.7" fill="#3a6fd0"/>
<path d="M787.4,550 A51,51 0 0 1 811.5,583" fill="none" stroke="#000" stroke-width="2"/>
<text x="718" y="526.8" font-size="34"><tspan font-style="italic">c</tspan>*</text>
<text x="812" y="520.8" font-size="34" font-style="italic">H</text>
<text x="813.5" y="562.9" font-size="30">θ</text>
<text x="874.5" y="570" font-size="34" font-style="italic">b</text>
<g clip-path="url(#clipB)">
<polyline points="80,973.7 81,973.7 82,977.7 83,975.9 84,972.4 85,973.5 86,972.8 87,974.1 88,974.5 89,978.5 90,970.6 91,976.1 92,975 93,972.8 94,973.8 95,973.2 96,974.2 97,976 98,971.2 99,976.6 100,978.4 101,977 102,974.9 103,976.5 104,975.2 105.1,976.2 106.1,974.2 107.1,972.5 108.1,975.4 109.1,975.5 110.1,978.1 111.1,970.3 112.1,973.8 113.1,976.2 114.1,971.7 115.1,973.7 116.1,978.2 117.1,976.8 118.1,972.5 119.1,976.9 120.1,976.4 121.1,975.6 122.1,974.9 123.1,974.6 124.1,972.5 125.1,973.2 126.1,975.5 127.1,974.4 128.1,977.7 129.1,973.5 130.1,969.6 131.1,979.5 132.1,974.7 133.1,974.9 134.1,974.3 135.1,972.6 136.1,977 137.1,972.9 138.1,975.5 139.1,973.6 140.1,971.9 141.1,976.8 142.1,969.4 143.1,972.5 144.1,975 145.1,973.5 146.1,975.6 147.1,979 148.1,973.3 149.1,978.3 150.1,973.7 151.1,973.9 152.1,972.1 153.2,972.7 154.2,975.4 155.2,975.2 156.2,974.2 157.2,972.8 158.2,975.5 159.2,970.9 160.2,973.5 161.2,973.7 162.2,972.6 163.2,974.5 164.2,972.9 165.2,972.6 166.2,977.6 167.2,982.6 168.2,976.4 169.2,974.3 170.2,976 171.2,975.7 172.2,976.5 173.2,978.7 174.2,973.7 175.2,974.7 176.2,973.7 177.4,966.3 178.5,977 179.7,970.5 180.8,970.4 182,966.8 183,968.5 184,967.2 185,962.3 186,973.2 187,963.2 188,959.1 189,954.8 190,957.5 191.1,952.3 192.1,949.5 193.2,948.1 194.2,944.4 195.2,945.1 196.3,942.1 197.4,940.5 198.6,936.7 199.7,931.6 200.9,930.2 202,929.4 203.1,924 204.2,927.1 205.3,916.7 206.7,910.5 208,907.2 209,899.9 210,891.9 211,885.1 212,881.3 213.1,878.4 214.2,877.6 215.3,876.3 216.5,880.6 217.6,885.1 218.7,893.6 220.5,897.9 221.8,916.7 223,928.1 224,938.4 225,946.2 226,954.3 227.3,959.8 228.5,964.1 229.8,969.4 231,977 232.2,976.1 233.4,981.1 234.5,986.3 235.6,986.4 236.6,984.3 237.7,991.3 238.8,992.1 240,994.7 241.1,998.9 242.3,999.4 243.4,999.3 244.5,1002.4 245.6,1002.5 246.7,1002.8 247.8,1004.2 248.9,1005 250,1004.7 251.1,1005 252.1,1006.4 253.2,1010.9 254.2,1004.7 255.2,1010 256.3,1007.5 257.4,1008.3 258.4,1008.5 259.4,1009.2 260.5,1009.6 261.6,1010.1 262.6,1008.9 263.6,1012.6 264.7,1009.8 265.7,1013.2 266.8,1007.7 267.8,1009.4 268.8,1013.4 269.9,1017.3 270.9,1010.4 271.9,1012.5 272.9,1009.9 274,1012.1 275,1007.8 276,1011.2 277.1,1010.9 278.1,1013.3 279.1,1014 280.2,1010.8 281.2,1015.5 282.2,1011.4 283.3,1015.7 284.3,1008.2 285.3,1015.7 286.3,1012.7 287.4,1011.7 288.4,1011.6 289.4,1011.1 290.5,1015.8 291.5,1013 292.6,1016.4 293.6,1012.3 294.7,1019.8 295.7,1013.6 296.8,1011 297.8,1010.9 298.9,1014 299.9,1010.2 301,1012.5 302,1010 303.1,1008.2 304.1,1010.3 305.2,1007.9 306.2,1011 307.3,1010.2 308.3,1008.1 309.4,1008.8 310.4,1008.3 311.4,1006.2 312.4,1007.9 313.5,1005.2 314.5,1006.3 315.5,1002.8 316.5,1004.3 317.5,1004.4 318.5,1001.6 319.5,1001.8 320.5,1001.1 321.6,1003 322.6,999.7 323.6,1001.4 324.6,1003 325.6,1000.2 326.6,996 327.6,998.8 328.7,1000 329.7,997 330.7,999.1 331.7,997.7 332.7,996.8 333.7,995.1 334.8,994.1 335.8,994.1 336.8,994.3 337.8,994.7 338.8,994 339.8,992.2 340.9,992.4 341.9,992.6 342.9,988.3 343.9,989.4 344.9,988.9 346,989.6 347,989 348,988.5 349,986.9 350,989.3 351,988.1 352.1,984 353.1,986.7 354.1,984.1 355.1,989 356.1,984.4 357.2,984 358.2,984.5 359.2,983.5 360.2,983.3 361.2,985.8 362.2,982.9 363.3,983.6 364.3,983.6 365.3,979.2 366.3,983.9 367.3,981.6 368.4,981.7 369.4,977.9 370.4,980.7 371.4,979.6 372.4,977.4 373.4,982.4 374.5,978.7 375.5,976.8 376.5,977.3 377.5,978.3 378.5,978.3 379.6,976.9 380.6,977.7 381.6,977.8 382.6,972.3 383.6,973.4 384.6,972.1 385.7,973.7 386.7,975.9 387.7,974 388.7,970.4 389.7,971.5 390.7,973.6 391.8,970.3 392.8,970.7 393.8,971.1 394.8,966.7 395.8,971.3 396.9,970.1 397.9,970.1 398.9,966.8 399.9,966.9 400.9,966.8 401.9,968 403,967.3 404,967.1 405,970" fill="none" stroke="#0000ff" stroke-width="5.3" stroke-linejoin="round" stroke-linecap="round"/>
<polyline points="79.7,1042.9 80.7,1039.4 81.7,1038.8 82.7,1041.6 83.7,1037.8 84.8,1039.6 85.8,1039.2 86.8,1035.3 87.8,1034.9 88.8,1034.7 89.8,1032.6 90.8,1031.7 91.8,1031.8 92.8,1032.9 93.9,1030.3 94.9,1029.9 95.9,1028.8 96.9,1026.7 97.9,1030.2 98.9,1023.7 99.9,1025.5 100.9,1026.6 101.9,1022.9 103,1025.2 104,1025.4 105,1021.5 106,1022.4 107,1019.7 108,1021.4 109,1020 110,1019.5 111,1020.5 112.1,1018.4 113.1,1019 114.1,1017.1 115.1,1013.7 116.1,1015.1 117.1,1014.7 118.1,1011.1 119.1,1014.5 120.1,1011.9 121.2,1011.6 122.2,1009 123.2,1009.7 124.2,1009.3 125.2,1007.6 126.2,1007.5 127.2,1003.4 128.2,1007.9 129.2,1003.5 130.2,1001.1 131.3,1002.2 132.3,1001.7 133.3,1003 134.3,1000.1 135.3,1001.2 136.3,998.6 137.3,1002.6 138.3,999.3 139.3,1000.7 140.4,995.5 141.4,997.3 142.4,994.1 143.4,995.7 144.4,995.1 145.4,991 146.4,990.9 147.4,990.1 148.4,988.9 149.5,989.3 150.5,988.2 151.5,986.8 152.5,988.4 153.5,988.3 154.5,984.8 155.5,985.2 156.5,997.3 157.5,984.2 158.6,982.7 159.6,984.3 160.6,983.6 161.6,982.6 162.6,980.5 163.6,983.1 164.6,982 165.6,978 166.6,977.7 167.7,978.9 168.7,975.2 169.7,976.3 170.7,975 171.7,973.2 172.7,973.2 173.7,970.4 174.7,971.3 175.8,968.4 176.8,974.1 177.8,972.2 178.8,971.1 179.8,969 180.8,969.3 181.8,969 182.8,967.9 183.9,967 184.9,963.6 185.9,964.9 186.9,962.7 187.9,961 188.9,960.4 189.9,962 191,962.2 192,957.9 193,961.8 194,960.4 195,956.4 196,954.8 197,953.9 198,954 199,950.4 200,947.8 201,948.5 202,943.4 203,945.2 204,945.2 205,942.2 206,940.7 207,937.9 208,935.8 209,932.5 210,928.6 211,927.1 212,924.8 213,924.3 214,922.2 215,917.8 216,913.5 217,910.8 218,908.8 219,908.3 220,903.8 221,900.4 222.1,896.6 223.2,896.4 224.3,892.9 225.4,891.2 226.6,891.7 227.8,895.8 229,895.4 230.1,901.1 231.2,904.1 232.3,905.9 233.4,912.1 234.7,917 236,923 237,930.1 238,934.6 239,942.3 240,945.9 241.1,950.1 242.2,952.6 243.3,948.9 244.4,956.3 245.5,955.4 246.7,960.7 247.8,961.6 249,965.2 250,969 251.1,966 252.1,970.5 253.2,971.7 254.2,970.6 255.3,976.1 256.3,976.8 257.4,977.6 258.4,978.9 259.5,986.5 260.5,982.7 261.6,982.2 262.6,985.1 263.7,987.6 264.7,988.9 265.8,990.4 266.8,989.7 267.9,992.8 268.9,991.9 270,991.3 271,992.9 272.1,994.2 273.1,996.8 274.2,997 275.2,996.5 276.3,997.7 277.3,998.7 278.4,1002.2 279.4,998.9 280.5,1001.3 281.5,1002.4 282.6,1000.4 283.6,1002.5 284.7,1002.6 285.7,1001.8 286.7,1003.6 287.8,1004.5 288.8,1004.8 289.8,1003 290.8,1003.8 291.9,1007.2 292.9,1002.2 293.9,1004.4 295,1005.6 296,1004.4 297.1,1004.9 298.1,1003.7 299.2,1004.1 300.2,1004.5 301.3,1001.7 302.3,1001.9 303.4,1001.1 304.4,1000.1 305.5,1000.2 306.5,998.1 307.6,1000.4 308.6,1001.4 309.7,1000.9 310.7,999.8 311.8,996 312.8,999.2 313.9,995.4 314.9,995.9 315.9,998.2 316.9,993.3 317.9,995.6 318.9,994.2 319.9,993.1 320.9,991.4 321.9,992.9 322.9,991 323.9,992.7 324.9,992.5 325.9,988 326.9,988.8 327.9,988.5 329,986.7 330,986.3 331,987.5 332,986.6 333,983.9 334,985 335,986.1 336,982.9 337,982.8 338,986.1 339,985.1 340,980.2 341,980 342,982.1 343,979.3 344,980.3 345,979.6 346,980.8 347,975.8 348.1,976 349.1,977.1 350.1,980.1 351.1,978 352.1,975.4 353.1,978.3 354.1,978.3 355.1,976.5 356.2,976.1 357.2,976.9 358.2,977.7 359.2,975.7 360.2,976 361.2,974.8 362.2,973.9 363.2,972.8 364.3,974.2 365.3,973 366.3,972.8 367.3,974.2 368.3,973.2 369.3,973.4 370.3,969.4 371.3,972.2 372.4,970.2 373.4,969.5 374.4,969.1 375.4,971.9 376.4,970.9 377.4,968.2 378.4,967.2 379.5,968.5 380.5,967.4 381.5,970.2 382.5,965.1 383.5,964.2 384.6,966.1 385.6,966.1 386.6,965.9 387.6,966.4 388.7,968 389.7,964 390.7,963.3 391.7,961.1 392.7,963.7 393.8,964.2 394.8,962.1 395.8,963.9 396.8,961.7 397.9,963.6 398.9,961.4 399.9,958.9 400.9,959.1 401.9,957.4 403,956.7 404,959.3 405,959.9" fill="none" stroke="#ff0000" stroke-width="5.3" stroke-linejoin="round" stroke-linecap="round"/>
</g>
<rect x="79.7" y="836.8" width="325.6" height="236.79999999999995" fill="none" stroke="#000" stroke-width="2.2"/>
<line x1="130.4" y1="836.8" x2="130.4" y2="849.8" stroke="#000" stroke-width="2"/>
<line x1="130.4" y1="1073.6" x2="130.4" y2="1060.6" stroke="#000" stroke-width="2"/>
<text x="130.4" y="1114.6" font-size="35" text-anchor="middle">8</text>
<line x1="191.5" y1="836.8" x2="191.5" y2="849.8" stroke="#000" stroke-width="2"/>
<line x1="191.5" y1="1073.6" x2="191.5" y2="1060.6" stroke="#000" stroke-width="2"/>
<text x="191.5" y="1114.6" font-size="35" text-anchor="middle">9</text>
<line x1="252.6" y1="836.8" x2="252.6" y2="849.8" stroke="#000" stroke-width="2"/>
<line x1="252.6" y1="1073.6" x2="252.6" y2="1060.6" stroke="#000" stroke-width="2"/>
<text x="252.6" y="1114.6" font-size="35" text-anchor="middle">10</text>
<line x1="313.7" y1="836.8" x2="313.7" y2="849.8" stroke="#000" stroke-width="2"/>
<line x1="313.7" y1="1073.6" x2="313.7" y2="1060.6" stroke="#000" stroke-width="2"/>
<text x="313.7" y="1114.6" font-size="35" text-anchor="middle">11</text>
<line x1="374.8" y1="836.8" x2="374.8" y2="849.8" stroke="#000" stroke-width="2"/>
<line x1="374.8" y1="1073.6" x2="374.8" y2="1060.6" stroke="#000" stroke-width="2"/>
<text x="374.8" y="1114.6" font-size="35" text-anchor="middle">12</text>
<line x1="79.7" y1="843" x2="94.7" y2="843" stroke="#000" stroke-width="2"/>
<line x1="405.3" y1="843" x2="390.3" y2="843" stroke="#000" stroke-width="2"/>
<line x1="79.7" y1="896" x2="94.7" y2="896" stroke="#000" stroke-width="2"/>
<line x1="405.3" y1="896" x2="390.3" y2="896" stroke="#000" stroke-width="2"/>
<line x1="79.7" y1="949.2" x2="94.7" y2="949.2" stroke="#000" stroke-width="2"/>
<line x1="405.3" y1="949.2" x2="390.3" y2="949.2" stroke="#000" stroke-width="2"/>
<line x1="79.7" y1="1001.5" x2="94.7" y2="1001.5" stroke="#000" stroke-width="2"/>
<line x1="405.3" y1="1001.5" x2="390.3" y2="1001.5" stroke="#000" stroke-width="2"/>
<line x1="79.7" y1="1054.2" x2="94.7" y2="1054.2" stroke="#000" stroke-width="2"/>
<line x1="405.3" y1="1054.2" x2="390.3" y2="1054.2" stroke="#000" stroke-width="2"/>
<text x="0.3" y="841.1" font-size="44" font-weight="bold">b</text>
<text x="103.9" y="880" font-size="33.5">4 mK</text>
<line x1="91.3" y1="855.2" x2="91.3" y2="883.3" stroke="#000" stroke-width="2"/>
<polygon points="91.3,894.5 86.8,880.5 95.8,880.5" fill="#000"/>
<polygon points="91.3,844 95.8,858 86.8,858" fill="#000"/>
<text x="114.8" y="1058.7" font-size="37"><tspan>θ</tspan><tspan x="146.1">=</tspan><tspan x="177.8">0°</tspan></text>
<text x="280.6" y="891" font-size="28"><tspan font-style="italic">H</tspan><tspan font-size="19" dy="6">peak1</tspan></text>
<line x1="272.5" y1="884.8" x2="249.5" y2="894.7" stroke="#000" stroke-width="2.2"/>
<polygon points="238.5,899.5 249.9,888 248.1,895.3 254.6,899.1" fill="#000"/>
<line x1="317.6" y1="970.8" x2="353.7" y2="956.3" stroke="#ff0000" stroke-width="2.5"/>
<polygon points="368.5,950.3 351.8,962.4 352.2,956.9 348.1,953.1" fill="#ff0000"/>
<line x1="379.7" y1="999.4" x2="347.3" y2="1011.4" stroke="#0000ff" stroke-width="2.5"/>
<polygon points="332.3,1016.9 349.3,1005.3 348.8,1010.8 352.8,1014.7" fill="#0000ff"/>
<text x="193.4" y="1158.4" font-size="35">μ<tspan x="212.9" y="1166.8" font-size="27.5">0</tspan><tspan x="228.1" y="1158.4" font-style="italic">H</tspan> (T)</text>
<text x="57.8" y="1079.5" font-size="35" transform="rotate(-90 57.8 1079.5)">Δ<tspan font-style="italic">T</tspan> (arb. units)</text>
<line x1="561.5" y1="836.8" x2="561.5" y2="849.8" stroke="#000" stroke-width="2"/>
<line x1="561.5" y1="1073.6" x2="561.5" y2="1060.6" stroke="#000" stroke-width="2"/>
<text x="561.5" y="1114.6" font-size="35" text-anchor="middle">8</text>
<line x1="626.6" y1="836.8" x2="626.6" y2="849.8" stroke="#000" stroke-width="2"/>
<line x1="626.6" y1="1073.6" x2="626.6" y2="1060.6" stroke="#000" stroke-width="2"/>
<text x="626.6" y="1114.6" font-size="35" text-anchor="middle">9</text>
<line x1="691.8" y1="836.8" x2="691.8" y2="849.8" stroke="#000" stroke-width="2"/>
<line x1="691.8" y1="1073.6" x2="691.8" y2="1060.6" stroke="#000" stroke-width="2"/>
<text x="691.8" y="1114.6" font-size="35" text-anchor="middle">10</text>
<line x1="756.9" y1="836.8" x2="756.9" y2="849.8" stroke="#000" stroke-width="2"/>
<line x1="756.9" y1="1073.6" x2="756.9" y2="1060.6" stroke="#000" stroke-width="2"/>
<text x="756.9" y="1114.6" font-size="35" text-anchor="middle">11</text>
<line x1="822" y1="836.8" x2="822" y2="849.8" stroke="#000" stroke-width="2"/>
<line x1="822" y1="1073.6" x2="822" y2="1060.6" stroke="#000" stroke-width="2"/>
<text x="822" y="1114.6" font-size="35" text-anchor="middle">12</text>
<line x1="522.3" y1="865" x2="535.8" y2="865" stroke="#000" stroke-width="2"/>
<line x1="846.6" y1="865" x2="833.1" y2="865" stroke="#000" stroke-width="2"/>
<line x1="522.3" y1="921.7" x2="535.8" y2="921.7" stroke="#000" stroke-width="2"/>
<line x1="846.6" y1="921.7" x2="833.1" y2="921.7" stroke="#000" stroke-width="2"/>
<line x1="522.3" y1="978" x2="535.8" y2="978" stroke="#000" stroke-width="2"/>
<line x1="846.6" y1="978" x2="833.1" y2="978" stroke="#000" stroke-width="2"/>
<line x1="522.3" y1="1034.3" x2="535.8" y2="1034.3" stroke="#000" stroke-width="2"/>
<line x1="846.6" y1="1034.3" x2="833.1" y2="1034.3" stroke="#000" stroke-width="2"/>
<g clip-path="url(#clipC)">
<polyline points="522.3,992.2 523.3,989.8 524.3,989.6 525.4,988.6 526.4,991.2 527.4,990.6 528.4,989.4 529.4,991 530.5,990.9 531.5,988.1 532.5,991.3 533.5,990.6 534.5,990 535.5,990.1 536.6,992.7 537.6,992.5 538.6,992.9 539.6,989.4 540.6,990.1 541.7,992 542.7,989.5 543.7,990.2 544.7,988.9 545.7,993.4 546.8,992.5 547.8,991.8 548.8,991.6 549.8,990.9 550.8,991 551.8,992.3 552.9,990.7 553.9,993.1 554.9,991.1 555.9,990.7 556.9,993.4 558,991.7 559,992.6 560,991.5 561,989.4 562,992.8 563,990.6 564.1,993.6 565.1,990.5 566.1,990.2 567.1,992.9 568.1,993.1 569.1,992.8 570.1,991.3 571.2,993.9 572.2,991.2 573.2,992.5 574.2,992.2 575.2,992.7 576.2,994.3 577.2,992.6 578.2,994.1 579.3,994.3 580.3,991.5 581.3,992.3 582.3,993.3 583.3,993.1 584.3,994.3 585.3,991.7 586.4,994.9 587.4,995 588.4,994 589.4,992.4 590.5,993.7 591.6,992.4 592.7,993.1 593.7,991.7 594.8,992.1 595.9,990.1 597,991.3 598,985.2 599,984.8 600,984.6 601,980.2 602,980.9 603,976.6 604,976.2 605,973.5 606,972.8 607,972.7 608,971.6 609,970.4 610,972.8 611,969.8 612.1,968.4 613.1,970.4 614.1,970.1 615.2,970.3 616.2,970.6 617.3,966.9 618.4,968.7 619.5,968.3 620.7,966.4 621.8,966.1 622.9,961.6 624,964 625.1,967.4 626.5,964.9 628,970.6 629.3,976.9 630.5,983.9 631.8,990.9 632.9,991.8 634.1,998 635.2,999.3 637,990.1 638.5,983.6" fill="none" stroke="#1440e0" stroke-width="5.3" stroke-linejoin="round" stroke-linecap="round"/>
<polyline points="638.5,978 640,700 642.5,700 644.1,1012" fill="none" stroke="#1440e0" stroke-width="5" stroke-linejoin="round" stroke-linecap="round"/>
<polyline points="644.1,1017.4 645.4,1018.9 646.7,1021.3 648,1020.1 649,1024.8 650,1026.4 651,1026.5 652,1027.6 653.1,1032.1 654.2,1028.6 655.3,1028.3 656.4,1030.1 657.4,1029.4 658.4,1029.3 659.4,1029.4 660.4,1030.2 661.4,1029.4 662.4,1027.5 663.5,1028.6 664.5,1029.2 665.5,1027.9 666.5,1029.6 667.5,1029 668.5,1026.7 669.5,1028.1 670.5,1029.9 671.5,1029.3 672.5,1027.2 673.5,1028.1 674.5,1026.1 675.5,1025 676.6,1027.2 677.6,1026.6 678.6,1026.8 679.6,1026 680.6,1026.2 681.6,1025 682.6,1026.1 683.6,1026.3 684.6,1025.1 685.6,1025.9 686.6,1022.7 687.6,1023.7 688.7,1026.2 689.7,1026.4 690.7,1024.4 691.7,1023.8 692.7,1022.2 693.7,1024 694.7,1024.3 695.7,1021.4 696.7,1023.7 697.7,1023.4 698.8,1023.1 699.8,1021 700.8,1022.8 701.8,1020.2 702.8,1023.5 703.8,1021.7 704.9,1020 705.9,1022.8 706.9,1022.3 707.9,1020 708.9,1023.2 709.9,1019.1 711,1020.5 712,1021.3 713,1017 714,1020.7 715,1019.2 716,1019.1 717,1017.6 718.1,1019.1 719.1,1017.2 720.1,1017.1 721.1,1017.5 722.1,1016.4 723.1,1019.6 724.2,1015.9 725.2,1016.4 726.2,1016.7 727.2,1016.9 728.2,1017.6 729.2,1017.4 730.3,1015.9 731.3,1015.6 732.3,1015.9 733.3,1016.6 734.3,1016.3 735.3,1014.6 736.4,1012.5 737.4,1017.4 738.4,1015.7 739.4,1014.7 740.4,1014.6 741.4,1013.4 742.4,1012.7 743.5,1013.3 744.5,1013.2 745.5,1012.6 746.5,1011.4 747.5,1012.6 748.5,1013.5 749.5,1012 750.5,1012.5 751.6,1009.8 752.6,1011.8 753.6,1011.8 754.6,1010.3 755.6,1009.5 756.6,1011.9 757.6,1010.2 758.7,1011.6 759.7,1010.4 760.7,1011.4 761.7,1010.1 762.7,1008.5 763.7,1010 764.7,1009.6 765.8,1010.6 766.8,1009.1 767.8,1009 768.8,1010.3 769.8,1010.5 770.8,1009.8 771.8,1010 772.9,1009.1 773.9,1009.3 774.9,1009.2 775.9,1008.5 776.9,1007.9 777.9,1007.8 778.9,1010.4 779.9,1007.3 781,1006.8 782,1012.5 783,1006.7 784,1006.9 785,1005 786,1003.8 787,1006.2 788,1003.7 789,1005.7 790.1,1011.4 791.1,1006.3 792.1,1006.7 793.1,1004.9 794.1,1003.6 795.1,1002.6 796.1,1002.8 797.1,1003.6 798.1,1000.8 799.1,1003.2 800.2,1002.8 801.2,1003.4 802.2,1002 803.2,1002.2 804.2,1001 805.2,1001.1 806.2,999.3 807.2,1001.3 808.2,1002.8 809.2,1000.9 810.3,1000.9 811.3,999.1 812.3,1001.7 813.3,998.9 814.3,1000.5 815.3,999.4 816.3,997.9 817.3,1000.1 818.3,998.6 819.3,998.6 820.3,998.7 821.4,997.9 822.4,997.2 823.4,998 824.4,996.7 825.4,997 826.4,995.9 827.4,994.7 828.4,995.4 829.4,995.4 830.4,995.8 831.5,997 832.5,993.3 833.5,995.2 834.5,992.2 835.5,993.3 836.5,993.7 837.5,991.4 838.5,991.7 839.5,993.8 840.5,993.5 841.6,993 842.6,992 843.6,995.3 844.6,992.3 845.6,991.2 846.6,994.1" fill="none" stroke="#1440e0" stroke-width="5.3" stroke-linejoin="round" stroke-linecap="round"/>
<polyline points="522.3,1015 523.3,1013.7 524.3,1015.3 525.3,1013.8 526.3,1014.1 527.3,1013.3 528.3,1011.6 529.3,1013.7 530.3,1012.5 531.3,1010.8 532.3,1010.8 533.3,1012.6 534.3,1010.8 535.3,1011 536.3,1011.4 537.3,1010.5 538.3,1008.3 539.3,1010.6 540.3,1010.7 541.3,1010.4 542.3,1011 543.3,1009.2 544.3,1009.5 545.3,1010.2 546.3,1007.6 547.3,1009.8 548.3,1009.5 549.3,1008.1 550.3,1009.1 551.3,1007.7 552.3,1005.3 553.3,1007.5 554.3,1006.2 555.3,1006.1 556.4,1005.5 557.4,1006.7 558.4,1005.4 559.4,1003.7 560.4,1004.8 561.4,1004.9 562.4,1002.8 563.4,1002.9 564.4,1002.7 565.4,1002.2 566.4,1003.1 567.4,1003.6 568.4,1004.4 569.4,1003.3 570.4,1002.8 571.4,1002.7 572.4,1002.6 573.4,1000.3 574.4,1001.3 575.4,1000.6 576.4,999.8 577.4,999.2 578.4,998.8 579.4,998.9 580.4,997.4 581.4,999.3 582.4,998.3 583.4,998.2 584.4,998.2 585.4,998.4 586.4,996.6 587.4,996.9 588.4,994.8 589.4,993.8 590.4,993.7 591.4,997.3 592.4,992.8 593.5,995 594.5,995.7 595.5,992.9 596.5,994.9 597.5,994.7 598.5,993.1 599.5,994.3 600.5,991.7 601.6,989.6 602.6,990.6 603.6,988.9 604.6,987.4 605.6,986.9 606.6,990.7 607.6,986.8 608.7,986.9 609.7,985.6 610.7,986.1 611.7,985.1 612.7,984.3 613.7,982.7 614.8,981.8 615.8,981.9 616.8,982.5 617.8,984 618.9,982.2 619.9,982.4 620.9,980.2 621.9,978.9 623,976.7 624,977.7 625,974.4 626,975.8 627,977.4 628,975 629,975.1 630,972.5 631,970.5 632,970.8 633,970.1 634,971 635,970.8 636,966.3 637,965.4 638,964.4 639,962.9 640,960.3 641.1,960.1 642.1,958.4 643.2,956.4 644.2,952.4 645.3,951.4 646.5,946.8 647.6,947 648.8,941.8 650,939.7 651.1,936.6 652.1,933.6 653.2,930.2 654.3,926.4 655.3,927.8 656.4,923.3 657.6,920.9 658.8,920.8 660,916.6 661,916.4 662,916 663,918.1 664,918.4 665,919.3 666,920.2 667.3,922.8 668.5,926.3 669.8,925.5 671,931.6 672.3,935.1 673.4,938.5 674.5,939.1 675.5,944.9 676.6,945.6 677.7,949 678.8,950.9 680,951.5 681.1,954.7 682.3,954.7 683.5,957.5 684.6,960.1 685.7,962.4 686.8,964.4 687.8,966 688.9,970.7 690,970.3 691.2,969.6 692.4,971.4 693.5,972.4 694.7,973.9 695.7,974.3 696.7,974.8 697.7,978.6 698.8,977.5 699.8,977.9 700.8,978.8 701.8,979.6 702.8,982.4 703.8,982.1 704.8,983.7 705.9,979.4 706.9,984.3 707.9,986 708.9,987.9 709.9,986.4 710.9,985.1 711.9,988.7 712.9,988.1 714,987.5 715,989.7 716,992.5 717,993.4 718,993.4 719,991.8 720.1,996.6 721.1,992.7 722.1,994.5 723.1,993.4 724.1,997.2 725.1,996.7 726.2,997.7 727.2,997.2 728.2,997.6 729.2,998.4 730.2,996.4 731.3,1000.4 732.3,1000.8 733.3,999.7 734.3,1000.7 735.3,1001.6 736.3,1003.6 737.4,1002.7 738.4,1002.8 739.4,1002.5 740.4,1001.6 741.5,1002.9 742.5,1003.8 743.6,1003.6 744.6,1004.2 745.7,1005.1 746.7,1004.9 747.7,1004.9 748.8,1005.5 749.8,1005.1 750.9,1005 751.9,1005.8 753,1003.3 754,1007" fill="none" stroke="#ff0000" stroke-width="5.3" stroke-linejoin="round" stroke-linecap="round"/>
<polyline points="754,1005.5 757.5,990 758.5,700 761.5,700 762.5,990 766.2,1005" fill="none" stroke="#ff0000" stroke-width="4.5" stroke-linejoin="round" stroke-linecap="round"/>
<polyline points="766.2,1003.4 767.2,1005.8 768.3,1004.6 769.3,1005.7 770.4,1004.2 771.4,1002.7 772.5,1004.9 773.5,1003.6 774.6,1003.3 775.6,1003 776.7,1003.9 777.7,1003.5 778.8,1002.5 779.8,1000.1 780.9,1001.3 781.9,1001.7 783,1003.5 784,1001.5 785,1000.7 786,1002.1 787.1,1000.3 788.1,1000.2 789.1,1000.2 790.1,998 791.1,1000.8 792.1,999.9 793.2,998.9 794.2,997.6 795.2,999.1 796.2,1000.3 797.2,997.6 798.3,996.9 799.3,998.5 800.3,995.9 801.3,994.9 802.3,996.9 803.3,996.4 804.4,996.6 805.4,996.1 806.4,997 807.4,996.1 808.4,995.5 809.4,995.4 810.4,996.5 811.4,996.7 812.4,996.5 813.4,996 814.4,991.1 815.4,993.6 816.5,994.2 817.5,994.7 818.5,992.3 819.5,995.7 820.5,994.2 821.5,992.9 822.5,993.6 823.5,992.8 824.5,992.1 825.5,993.5 826.5,992.1 827.5,990.8 828.5,991.5 829.5,991.9 830.5,990.6 831.5,993.2 832.5,990.2 833.5,993.4 834.5,992.2 835.5,989.8 836.5,990.9 837.6,991.9 838.6,990.1 839.6,988.7 840.6,990.1 841.6,992.1 842.6,987.8 843.6,990 844.6,989.2 845.6,988.8 846.6,988.4" fill="none" stroke="#ff0000" stroke-width="5.3" stroke-linejoin="round" stroke-linecap="round"/>
</g>
<rect x="522.3" y="836.8" width="324.30000000000007" height="236.79999999999995" fill="none" stroke="#000" stroke-width="2.2"/>
<text x="478.3" y="841.5" font-size="44" font-weight="bold">c</text>
<text x="538.9" y="903" font-size="33.5">10 mK</text>
<line x1="532.4" y1="876.2" x2="532.4" y2="909.3" stroke="#000" stroke-width="2"/>
<polygon points="532.4,920.5 527.9,906.5 536.9,906.5" fill="#000"/>
<polygon points="532.4,865 536.9,879 527.9,879" fill="#000"/>
<text x="541.8" y="1059.8" font-size="36.5"><tspan>θ</tspan><tspan x="572.4">=</tspan><tspan x="603.8">-4°</tspan></text>
<text x="664.7" y="874.7" font-size="28"><tspan font-style="italic">H</tspan><tspan font-size="19" dy="6.5">peak3</tspan></text>
<line x1="672.3" y1="883.7" x2="667.3" y2="898.1" stroke="#000" stroke-width="2.2"/>
<polygon points="663.4,909.4 662.6,893.3 666.8,899.5 674,897.2" fill="#000"/>
<rect x="812.5" y="889" width="52" height="20" fill="#fff"/>
<text x="791.5" y="897.7" font-size="28.5"><tspan font-style="italic">H</tspan><tspan font-size="19" dy="6">peak2</tspan></text>
<line x1="796.4" y1="909.4" x2="778.6" y2="924.9" stroke="#000" stroke-width="2.2"/>
<polygon points="769.5,932.8 776.9,918.4 777.4,925.9 784.8,927.5" fill="#000"/>
<line x1="785.2" y1="987.6" x2="814" y2="984.4" stroke="#ff0000" stroke-width="2.5"/>
<polygon points="829.9,982.7 810.6,989.8 812.4,984.6 809.5,979.9" fill="#ff0000"/>
<line x1="833.2" y1="1005.5" x2="805.4" y2="1010.5" stroke="#1440e0" stroke-width="2.5"/>
<polygon points="789.7,1013.3 808.5,1004.8 807,1010.2 810.3,1014.7" fill="#1440e0"/>
<text x="663.4" y="1158.4" font-size="35">μ<tspan x="682.9" y="1166.8" font-size="27.5">0</tspan><tspan x="698.1" y="1158.4" font-style="italic">H</tspan> (T)</text>
<text x="505.4" y="1080" font-size="35" transform="rotate(-90 505.4 1080)">Δ<tspan font-style="italic">T</tspan> (arb. units)</text>
<polyline points="128,1308.5 130.1,1310.5 132.2,1308.8 134.4,1304.9 136.5,1309.3 138.6,1302.8 140.8,1306 142.9,1304.3 145,1305.5 147.1,1303.3 149.3,1304.1 151.4,1301.4 153.6,1302.8 155.7,1301 157.9,1304 160,1297.8 162,1301.4 164,1299.9 166,1299.2 168,1297.6 170,1299.5 172,1295.6 174,1295.7 176,1299.8 178,1295.1 180,1301 182,1297.5 184,1298.4 186,1298 188,1298.6 190,1297.1 192,1296.8 194,1297.2 196,1299.4 198,1299.5 200,1299.7 202,1297.8 204,1296.7 206,1293.7 208,1298.3 210,1298.7 212,1296.1 214,1298.5 216,1299.5 218,1297 220,1298.9 222,1297.4 224,1293.3 226,1295.8 228,1295.9 230,1297.7 232,1294.9 234,1295.7 236,1294.6 238,1296.4 240,1296.6 242,1298.4 244,1298 246,1296.7 248,1296.8 250,1296.5 252,1296.5 254,1299.3 256,1291.2 258,1295.8 260,1296.8 262,1298 264,1293.2 266,1295.6 268,1296.3 270,1293.3 272,1289.9 274,1292.6 276,1290.6 278,1293.9 280,1290.5 282,1295.3 284,1291.6 286,1289.3 288,1289.5 290,1288 292,1290.7 294,1292.7 296,1289.1 298,1291.2 300,1287.3 302,1289.6 304,1293.4 306,1285.7 308,1290.8 310,1290.5 312,1284.2 314,1284.9 316,1285.6 318,1289.3 320,1286.3 322.1,1286.5 324.2,1287.9 326.2,1286.4 328.3,1286.3 330.4,1284.8 332.5,1287.4 334.6,1283.3 336.7,1287.8 338.8,1283.5 340.8,1282.2 342.9,1284.8 345,1284.1 347.1,1279.6 349.3,1284.5 351.4,1281.7 353.6,1283.2 355.7,1286.9 357.9,1284 360,1286.9 362,1285.7 364,1290.7 366,1287 368,1285.1 370,1285.6 372,1286.3 374,1288.7 376,1288.8 378,1291.1 380,1289.8 382,1290.1 384,1290.8 386,1290.2 388,1291.4 390,1292.7 392.1,1292.8 394.1,1290.2 396.2,1287.8 398.2,1289.8 400.3,1292 402.4,1286.5 404.4,1290.6 406.5,1292.5 408.5,1290.5 410.6,1289.5 412.6,1295.3 414.7,1294.6 416.8,1291.4 418.8,1294.6 420.9,1294.6 422.9,1289.8 425,1297.5 427,1290.2 429.1,1291.5 431.1,1289.8 433.1,1292.1 435.2,1289.3 437.2,1291.9 439.3,1294 441.3,1292.2 443.3,1291.2 445.4,1294.8 447.4,1289.9 449.4,1293.6 451.5,1291 453.5,1292 455.6,1291.6 457.6,1291.8 459.6,1291.4 461.7,1289.9 463.7,1290.3 465.7,1292.2 467.8,1291.1 469.8,1289 471.9,1289.8 473.9,1289.8 475.9,1291.1 478,1291.5 480,1291.3 482,1289.8 484,1291.1 486,1288.3 488,1285.2 490,1290.9 492,1287.7 494,1289 496,1288.5 498,1292.2 500,1288.5 502,1291.4 504,1289.9 506,1288.3 508,1287.6 510,1291.7 512,1291.5 514,1292.3 516,1294.4 518,1291.2 520,1291.2 522,1290.4 524,1290.8 526,1289.9 528,1288.8 530,1294.5 532,1286.8 534,1291 536,1291.4 538,1290.8 540,1288.5 542,1290 544,1289.5 546,1288.2 548,1290.2 550,1289.5 552,1289.2 554,1291.6 556,1288.1 558,1291.1 560,1289 562,1291 564,1290.3 566,1290.6 568,1288.2 570,1288.6 572,1288.4 574,1290.4 576,1291.5 578,1292.2 580,1289 582,1290.1 584,1286.7 586,1285.5 588,1288.2 590,1288.6 592,1286.8 594,1286.3 596,1290.9 598,1288.2 600,1286.4 602,1294.4 604,1290.1 606,1289.1 608,1291 610,1288.2 612,1292.8 614,1286.6 616,1287 618,1289.3 620,1288 622,1292.4 624,1286.3 626,1288 628,1289.9 630,1290.6 632,1291.4 634,1290.1 636,1293.8 638,1288.4 640,1289.7 642,1291 644,1288.7 646,1288.7 648,1288.3 650,1287.9 652,1287 654,1288.1 656,1286.1 658,1289.9 660,1286 662,1293.2 664,1292.5 666,1291.3 668,1288.6 670,1287.8 672,1291.4 674,1289.3 676,1290.1 678,1287.5 680,1291 682,1287.3 684,1289 686.1,1285.3 688.1,1287.4 690.1,1289.7 692.1,1287.8 694.1,1287.7 696.2,1290.1 698.2,1288.4 700.2,1291 702.2,1283.6 704.2,1289.5 706.3,1289.4 708.3,1285.3 710.3,1285.7 712.3,1290 714.3,1286.1 716.4,1286.9 718.4,1289.3 720.4,1287.4 722.4,1289 724.4,1286.3 726.5,1288.5 728.5,1290.1 730.5,1288.5 732.5,1283.5 734.6,1289.1 736.6,1287.9 738.6,1285.9 740.6,1290.4 742.6,1284.2 744.7,1291.3 746.7,1286.3 748.7,1290.6 750.7,1287.4 752.7,1284.8 754.8,1287.6 756.8,1288 758.8,1288.4 760.8,1289.4 762.8,1285.4 764.9,1288.2 766.9,1288.6 768.9,1286.6 770.9,1285.2 772.9,1285.1 775,1288.5 777,1288.5 779,1285.2" fill="none" stroke="#2060f0" stroke-width="3.6" stroke-linejoin="round" stroke-dasharray="4 2.6" stroke-linecap="butt"/>
<polyline points="128,1306.8 130,1313.7 132,1306.2 134.1,1310.7 136.1,1308.1 138.1,1305.6 140.1,1310.6 142.1,1309.8 144.2,1314.1 146.2,1316.4 148.2,1309.7 150.2,1313 152.2,1313 154.3,1308.8 156.3,1307.9 158.3,1314.5 160.3,1309.2 162.4,1310.1 164.4,1309.4 166.4,1309.8 168.4,1308.5 170.4,1312.1 172.5,1313.5 174.5,1309.1 176.5,1306.4 178.5,1310.2 180.5,1306.1 182.6,1308.3 184.6,1313.4 186.6,1316.3 188.6,1311 190.6,1307.2 192.7,1312.1 194.7,1304 196.7,1308.1 198.7,1314.1 200.8,1312 202.8,1306.3 204.8,1305.5 206.8,1312.2 208.8,1309.8 210.9,1308.3 212.9,1311 214.9,1308.4 216.9,1304.7 218.9,1312.1 221,1308.1 223,1307.2 225,1306.3 227.1,1310.3 229.1,1307.2 231.2,1310.8 233.2,1308.2 235.3,1311.6 237.4,1307.4 239.4,1306.4 241.5,1302.7 243.5,1304.8 245.6,1309.4 247.6,1315.5 249.7,1303.7 251.8,1304 253.8,1307.5 255.9,1307.6 257.9,1304.3 260,1306.1 262,1301.4 264,1304.8 266,1307.9 268,1309.7 270,1304.8 272,1304.4 274,1306.2 276,1307.8 278,1306 280,1302.6 282,1305.4 284,1307 286,1302.3 288,1300.5 290,1305.3 292,1304.8 294,1306 296,1303.3 298,1300.9 300,1301 302,1299 304,1298.8 306,1299.5 308,1299.3 310,1303.1 312,1296.4 314,1299.2 316,1297.3 318,1302.5 320,1298.8 322,1296.7 324,1299.5 326,1297 328,1295.2 330,1300.2 332,1297.5 334,1299.9 336,1297.9 338,1296.5 340,1294.3 342,1290.7 344,1295.1 346,1293 348,1294.2 350,1291.9 352,1289.7 354,1288.4 356,1292.6 358,1293.8 360,1289.1 362.1,1290.5 364.1,1292.5 366.2,1286 368.2,1286.7 370.3,1284.1 372.4,1289.7 374.4,1286.7 376.5,1284.1 378.6,1280.4 380.6,1283.8 382.7,1286.4 384.8,1282.3 386.8,1281.4 388.9,1283.7 390.9,1278.1 393,1281 395,1282 397,1277.8 399,1277.2 401,1279.6 403.2,1279.6 405.5,1280.3 407.8,1282.5 410,1283.5 412.1,1280.7 414.3,1281.7 416.4,1285 418.6,1287 420.7,1288 422.9,1282.3 425,1287.8 427,1286.9 429.1,1284.8 431.1,1286.2 433.1,1287.1 435.2,1289.7 437.2,1282.1 439.3,1286.5 441.3,1284.5 443.3,1284.4 445.4,1288 447.4,1287.1 449.4,1282.2 451.5,1284.2 453.5,1285.5 455.6,1281.1 457.6,1287.2 459.6,1284.7 461.7,1285.3 463.7,1285.8 465.7,1289.7 467.8,1285 469.8,1284 471.9,1289.6 473.9,1283.6 475.9,1283.5 478,1281.2 480,1287.8 482,1285.7 484,1286.2 486,1285.4 488,1284.6 490,1282.9 492,1282.9 494,1286.1 496,1285.3 498,1289.4 500,1283 502,1283.7 504,1282.3 506,1288.7 508,1281.7 510,1287.1 512,1288.9 514,1284.7 516,1287 518,1279.4 520,1284.1 522,1280.7 524,1285.6 526,1285.1 528,1283.1 530,1287.6 532,1286.1 534,1283.7 536,1283.8 538,1281.2 540,1284.7 542,1290.8 544,1283.3 546,1286.3 548,1283.7 550,1287.4 552,1286.4 554,1284.6 556,1280.5 558,1283.9 560,1288.5 562,1284.6 564,1286.9 566,1284 568,1280.3 570,1286.4 572,1286.2 574,1283.8 576,1284.3 578,1286.1 580,1283.8 582,1286.2 584,1284.8 586,1279 588,1284.9 590,1283.7 592,1283 594,1286.3 596,1283.9 598,1286.6 600,1288.1 602,1285.5 604,1281 606,1283.2 608,1287.5 610,1284.4 612,1282.9 614,1284.8 616,1286.4 618,1285.7 620,1286.7 622,1282.8 624,1284.2 626,1284.3 628,1284.9 630,1279.3 632,1284.2 634,1281.3 636,1288.6 638,1289 640,1289.3 642,1286.9 644,1283.5 646,1287.3 648,1284.2 650,1286.3 652,1282.3 654,1283.1 656,1285.9 658,1289.4 660,1284.6 662,1290.6 664,1292 666,1281.2 668,1284.5 670,1282 672,1284.2 674,1283.1 676,1284.3 678,1287 680,1287 682,1285.1 684,1284.4 686.1,1284.7 688.1,1284.7 690.1,1285.9 692.1,1284.4 694.1,1285.7 696.2,1280.8 698.2,1286.4 700.2,1289 702.2,1284.8 704.2,1280.5 706.3,1287.9 708.3,1283.4 710.3,1276.2 712.3,1283.6 714.3,1285.8 716.4,1285.2 718.4,1287.5 720.4,1285.8 722.4,1284.5 724.4,1278.8 726.5,1281.1 728.5,1284.6 730.5,1285.9 732.5,1281.3 734.6,1282.4 736.6,1285.3 738.6,1278.9 740.6,1278.8 742.6,1283.3 744.7,1284.6 746.7,1282.6 748.7,1277.8 750.7,1284 752.7,1280.3 754.8,1285.6 756.8,1283.6 758.8,1284.5 760.8,1285.5 762.8,1282.4 764.9,1286 766.9,1287.1 768.9,1284.8 770.9,1287.3 772.9,1282 775,1286.1 777,1284.4 779,1281" fill="none" stroke="#f51414" stroke-width="3" stroke-linejoin="round" stroke-linecap="round"/>
<polyline points="128,1393.8 130,1392.9 132,1392.9 134,1394.1 136,1396 138,1393.3 140,1394.1 142,1391 144,1394.1 146,1396.1 148,1395.5 150,1394.8 152,1392.8 154,1391.9 156,1393.6 158,1391.1 160,1391.3 162,1395.6 164,1391.9 166,1397.3 168,1390.9 170,1394.6 172,1391.4 174,1394 176,1391.6 178,1393.7 180,1393.3 182,1392.7 184,1394.6 186,1396.6 188,1392.4 190,1395.3 192,1393.7 194,1393.2 196,1397.3 198,1388.3 200,1391 202,1388.4 204,1391.1 206,1390.9 208,1398.6 210,1391.4 212,1394 214,1392.7 216,1388.9 218,1390.4 220,1392.5 222,1389.2 224,1388.9 226,1389.2 228,1384.9 230,1386 232,1387.9 234,1388 236,1384.8 238,1385.7 240,1385.7 242,1384.8 244,1385.5 246,1383.5 248,1382.7 250,1378.6 252,1378.4 254,1380.2 256,1375.5 258,1378.3 260,1375.6 262,1374.4 264,1376.7 266,1373.5 268,1372.6 270,1372.3 272,1373.2 274,1378 276,1367.8 278,1371.7 280,1371.1 282,1373.2 284,1370.4 286,1366 288,1373.3 290,1368.3 292,1370.2 294,1367.4 296,1367.7 298,1368.7 300,1371.2 302,1370.9 304,1367.9 306,1369.8 308,1367.9 310,1368.6 312,1368.5 314,1369.2 316,1366.6 318,1367.3 320,1367.8 322,1367.3 324,1365.4 326,1370.2 328,1365.5 330,1367.6 332,1366.1 334,1367.8 336,1360.7 338,1368.8 340,1363.9 342,1361.6 344,1363.9 346,1367.8 348,1364 350,1360.2 352,1361.4 354,1364.6 356,1358.8 358,1360.9 360,1360.4 362,1364.9 364.1,1359.6 366.1,1362.4 368.1,1358.1 370.2,1357.4 372.2,1360.7 374.2,1359.5 376.3,1354.5 378.3,1358.8 380.4,1358.4 382.4,1355.5 384.4,1356.8 386.5,1356.5 388.5,1354.7 390.5,1354.1 392.6,1353.5 394.6,1353.9 396.6,1351.5 398.7,1353.6 400.7,1350.4 402.8,1354.4 405,1355.1 407.1,1354.1 409.3,1358.9 411.4,1362 413.6,1361.7 415.7,1357.3 417.9,1363.5 420,1362.4 422,1362.5 424,1362.2 426.1,1364.1 428.1,1367.6 430.1,1366.6 432.1,1365.4 434.1,1365.6 436.1,1366.8 438.2,1369.6 440.2,1372.8 442.2,1367.7 444.2,1370.5 446.2,1370.5 448.2,1370.5 450.3,1373.5 452.3,1374.5 454.3,1371.3 456.3,1372.4 458.3,1377.2 460.3,1375.8 462.4,1376.5 464.4,1374.8 466.4,1375.4 468.4,1377.4 470.4,1375.8 472.4,1375 474.4,1377.5 476.4,1379.6 478.5,1376.1 480.5,1380.6 482.5,1380.2 484.5,1377.5 486.5,1379.5 488.5,1379.8 490.5,1381.4 492.6,1381.8 494.6,1378.3 496.6,1378.5 498.6,1383.6 500.6,1382.1 502.6,1383 504.6,1383.2 506.6,1385.9 508.7,1380.8 510.7,1385.7 512.7,1382.3 514.7,1385.7 516.7,1386.9 518.8,1381.6 520.8,1385.2 522.9,1383.9 524.9,1383.9 526.9,1384.6 529,1382.5 531,1382.8 533.1,1386 535.1,1386.4 537.1,1383.7 539.2,1382 541.2,1389.5 543.3,1387.1 545.3,1385.7 547.4,1383 549.4,1384 551.4,1385.7 553.5,1383.3 555.5,1388.5 557.6,1385.6 559.6,1386.2 561.6,1383.4 563.7,1383.7 565.7,1384 567.8,1386.2 569.8,1385.1 571.8,1385.1 573.9,1386.4 575.9,1386.3 578,1388.8 580,1385.5 582,1383.9 584,1385.9 586,1388.8 588,1384.8 590,1386 592,1385.2 594,1386.7 596,1386.4 598,1384.3 600,1385.5 602,1387.8 604,1388.1 606,1387.7 608,1387.6 610,1385.3 612,1385.2 614,1387.8 616,1383.6 618,1385.8 620,1382.3 622,1385.2 624,1384.5 626,1383.6 628,1387.1 630,1384.5 632,1385.2 634,1385.4 636,1384.5 638,1388.7 640,1385 642,1386.3 644,1383.4 646,1385 648,1385.3 650,1385.3 652,1384.8 654,1386.2 656,1389 658,1385.7 660,1385.7 662,1385.2 664,1390.9 666,1389.1 668,1387 670,1387.3 672,1384.5 674,1385.6 676,1386.3 678,1386.2 680,1384.3 682,1384.4 684,1387 686.1,1386.6 688.1,1381.9 690.1,1386.2 692.1,1388.6 694.1,1384.8 696.2,1386.6 698.2,1383.3 700.2,1387.8 702.2,1384 704.2,1383.7 706.3,1385.6 708.3,1390.9 710.3,1385 712.3,1383.8 714.3,1387.2 716.4,1386.8 718.4,1389.6 720.4,1383.9 722.4,1383.2 724.4,1385.8 726.5,1387.2 728.5,1387.1 730.5,1388.6 732.5,1383.5 734.6,1384.9 736.6,1386.3 738.6,1388.2 740.6,1387.5 742.6,1385.7 744.7,1384.6 746.7,1388.3 748.7,1388.5 750.7,1392 752.7,1386.3 754.8,1389.9 756.8,1384.3 758.8,1385.7 760.8,1385.4 762.8,1385.9 764.9,1385.1 766.9,1385.8 768.9,1386.7 770.9,1386 772.9,1388.2 775,1386.7 777,1386.9 779,1389.8" fill="none" stroke="#2060f0" stroke-width="3.6" stroke-linejoin="round" stroke-dasharray="4 2.6" stroke-linecap="butt"/>
<polyline points="128,1396.6 130,1396.2 132,1395.7 134,1395.8 136,1396.7 138,1394 140,1397.7 142,1398.4 144,1397.5 146,1394.2 148,1392 150,1394.2 152,1395.2 154,1396.5 156,1394.4 158,1394.1 160,1397.6 162,1393.2 164,1396.5 166,1396.1 168,1391.7 170,1394.7 172,1393 174,1392.2 176,1390.3 178,1390.8 180,1394.6 182,1392.9 184,1394.1 186,1391.4 188,1392.8 190,1392.8 192,1390.2 194,1389.9 196,1394 198,1393.3 200,1391.1 202,1392.7 204,1394.1 206,1396.4 208,1391 210,1393.9 212,1396.8 214,1392.7 216,1395.4 218,1387.4 220,1395.3 222,1392.4 224,1388.7 226,1393.8 228,1394.3 230,1394.6 232,1394.5 234,1392 236,1390.6 238,1391.1 240,1391.9 242,1392.7 244,1390.9 246,1391.9 248,1393.5 250,1392.3 252,1396.1 254,1395.8 256,1389.3 258,1390.4 260,1388.9 262,1389.1 264,1392.4 266,1389.3 268,1389.2 270,1390.7 272,1392.7 274,1390.4 276,1390.3 278,1392.8 280,1391.9 282,1391.6 284,1392.3 286,1388.1 288,1390.3 290,1388.3 292,1391.3 294,1390.6 296,1386.7 298,1391.1 300,1385.9 302,1390.2 304,1388 306,1385.7 308,1384.9 310,1386.2 312,1386.5 314,1384.9 316,1387.1 318,1383 320,1385.4 322,1385.2 324,1381.2 326,1385.2 328,1381.9 330,1379.2 332,1382.6 334,1383.1 336,1385 338,1382 340,1385.6 342,1385.2 344,1384.3 346,1384.5 348,1382.3 350,1380.2 352,1382.3 354,1382.7 356,1381 358,1379.7 360,1376.9 362,1380.9 364,1379.8 366,1376.2 368,1378.5 370,1379.4 372,1377.3 374,1378.7 376,1378.2 378,1373.4 380,1375.3 382,1376.5 384,1376.9 386,1377.5 388,1370.6 390,1373.8 392,1375 394,1375.6 396,1376.1 398,1370.5 400,1371.2 402,1369.5 404,1372.8 406,1368.1 408,1372.7 410,1371.8 412,1370.5 414,1364.9 416,1367.4 418,1369.8 420,1365.1 422,1367.1 424.1,1367 426.1,1368.7 428.1,1367.1 430.2,1366.8 432.2,1365 434.3,1365.5 436.3,1364.9 438.3,1366.3 440.4,1364.1 442.4,1366.2 444.5,1360.5 446.5,1365.8 448.5,1362.8 450.6,1365 452.6,1362.6 454.7,1364.5 456.7,1366 458.8,1362.3 460.8,1363.9 462.9,1363.7 465,1364.8 467,1361.5 469.1,1364.7 471.1,1364.9 473.2,1364.1 475.3,1365.6 477.3,1363.3 479.4,1369.4 481.5,1367.9 483.5,1371 485.6,1365.9 487.6,1365.7 489.7,1368.9 491.8,1365.3 493.8,1369.4 495.9,1367.9 497.9,1368.9 500,1370.4 502,1370.3 504,1374.2 506,1372.1 508,1368.6 510,1373.4 512,1369.1 514,1372.2 516,1369.8 518,1371 520,1375.5 522,1372.1 524,1372.2 526,1372.7 528,1373.5 530,1377.2 532,1372.4 534,1372.5 536,1376.4 538,1372.4 540,1375.1 542,1378.4 544,1376.5 546,1375.8 548,1375.7 550,1375.5 552,1376.5 554,1378.2 556,1380.7 558,1380.4 560,1377.7 562,1377.7 564,1380.8 566,1376.1 568,1379.2 570,1379.7 572,1378.4 574,1378.9 577,1371.6 580,1376.6 582,1377.9 584,1378.2 586,1379.5 588,1376.4 590,1381 592,1378.1 594,1378 596,1377.6 598,1376.8 600,1375.9 602,1380.3 604,1378.5 606,1378 608,1380.2 610,1377 612,1379.7 614,1378.6 616,1376.9 618,1380.3 620,1375.9 622,1380.3 624,1377.3 626,1380 628,1382 630,1380.5 632,1378.3 634,1379.5 636,1378.9 638,1377.4 640,1377.7 642,1380 644,1381.1 646,1376.7 648,1380.1 650,1381.3 652,1380.7 654,1378.6 656,1382.7 658,1378.3 660,1382.1 662,1384.1 664,1377 666,1381.6 668,1381.8 670,1381.8 672,1379.9 674,1380.9 676,1378.9 678,1382 680,1382.9 682,1380.6 684,1380.1 686.1,1381 688.1,1382 690.1,1382.2 692.1,1381.9 694.1,1382.3 696.2,1379.6 698.2,1376.9 700.2,1383.5 702.2,1385.1 704.2,1379.6 706.3,1381.1 708.3,1383.1 710.3,1384.4 712.3,1383.8 714.3,1385.1 716.4,1382.5 718.4,1383.5 720.4,1383.6 722.4,1381.9 724.4,1385.2 726.5,1384.1 728.5,1384.9 730.5,1382.2 732.5,1385 734.6,1381 736.6,1383.9 738.6,1378 740.6,1381.2 742.6,1384.7 744.7,1382.4 746.7,1383.7 748.7,1380.2 750.7,1386.5 752.7,1384.7 754.8,1383.5 756.8,1384.4 758.8,1384.3 760.8,1386.5 762.8,1384.1 764.9,1380.9 766.9,1383.3 768.9,1386.4 770.9,1385 772.9,1383.1 775,1385.2 777,1384.3 779,1385.3" fill="none" stroke="#f51414" stroke-width="3" stroke-linejoin="round" stroke-linecap="round"/>
<polyline points="128,1479.7 130,1480.3 132,1482.1 134,1480.7 136,1481.3 138,1483.1 140,1480 142,1480.5 144,1479.2 146,1478.9 148,1479.4 150,1477.4 152,1476.4 154,1480.6 156,1478.5 158,1479.8 160,1478.4 162,1478.2 164,1478.6 166,1478.5 168,1475.8 170,1478.7 172,1475.7 174,1476.9 176,1479.7 178,1476.4 180,1478.2 182,1475.4 184,1476.4 186,1475.5 188,1475.7 190,1473.9 192,1473.6 194,1474.9 196,1472.3 198,1473 200,1474.7 202,1472.9 204,1472.3 206,1471.8 208,1473.2 210,1472.3 212,1472.8 214,1472.1 216,1474.5 218,1471.4 220,1469.3 222,1471.7 224,1471.3 226,1471.3 228,1468.9 230,1472.1 232,1470.4 234,1470.2 236,1468 238,1470.4 240,1469.5 242,1471.1 244,1468.7 246,1467.4 248,1468.9 250,1467.4 252,1468.9 254,1466.8 256,1467.8 258,1467.4 260,1467.5 262,1466.6 264,1466.1 266,1466.8 268,1465.9 270,1466.6 272,1465.9 274,1463.2 276,1465.7 278,1467.4 280,1465.8 282,1465.9 284,1465.5 286,1464.2 288,1462.9 290,1465.4 292,1465.5 294,1464.6 296,1464.2 298,1464 300,1463.2 302,1463.2 304,1462.4 306,1462.3 308,1460.3 310,1460.2 312,1461.3 314,1459.7 316,1456.7 318,1459.4 320,1455.9 322,1460.8 324,1458.8 326,1458.3 328,1456.2 330,1455.2 332,1455.9 334,1455.7 336,1454.3 338,1455 340,1455.2 342,1454.6 344,1452.2 346,1450.3 348,1452.6 350,1451.3 352,1452.2 354,1453.3 356,1452.8 358,1450.7 360,1451.3 362.1,1451.3 364.1,1448.6 366.2,1448.2 368.2,1448.3 370.3,1446.5 372.4,1445.2 374.4,1444.2 376.5,1444.5 378.5,1443 380.6,1444.1 382.7,1442.1 384.7,1443.6 386.8,1442.6 388.9,1438.9 390.9,1441.1 393,1438.6 395,1440.1 397.1,1438.4 399.2,1437 401.2,1437.3 403.3,1435.1 405.3,1435.5 407.4,1434.9 409.5,1435.2 411.5,1436.8 413.6,1436 415.6,1438.9 417.7,1437.7 419.7,1440.9 421.8,1441.7 423.8,1442.9 425.9,1442.3 427.9,1447.7 430,1444.6 432.2,1446.3 434.4,1446.4 436.6,1450.3 438.8,1449.2 441,1452.2 443.2,1451 445.4,1453.8 447.6,1454.2 449.6,1456.5 451.7,1455.8 453.7,1455.8 455.7,1458.2 457.8,1457 459.8,1458 461.8,1460.9 463.9,1458.4 465.9,1462.4 467.9,1461.7 470,1461.9 472,1464.1 474,1465.3 476.1,1464.6 478.1,1465.8 480.1,1467.8 482.2,1468.5 484.2,1468.3 486.2,1468.1 488.3,1468.7 490.3,1469.9 492.3,1472.2 494.4,1472.8 496.4,1473.3 498.4,1475.4 500.5,1474.1 502.5,1474.7 504.5,1475.5 506.6,1479.1 508.6,1474.9 510.6,1478.6 512.7,1479.5 514.7,1479.8 516.8,1482.9 518.8,1481.7 520.9,1481.5 522.9,1479.7 525,1481.7 527.1,1480.9 529.1,1481.6 531.2,1482.1 533.3,1481.5 535.3,1483.1 537.4,1484.6 539.4,1484.1 541.5,1483.4 543.6,1481 545.6,1485 547.7,1485.2 549.7,1483.9 551.8,1483.8 553.9,1485.5 555.9,1483.9 558,1486.2 560.1,1484.1 562.1,1484.6 564.2,1486 566.2,1484.4 568.3,1486.5 570.3,1487.1 572.4,1484.9 574.4,1487.7 576.5,1485.8 578.5,1487.2 580.6,1486.8 582.6,1486 584.6,1485.9 586.7,1484.5 588.7,1485.8 590.8,1485.7 592.8,1488.6 594.9,1487.9 596.9,1485 598.9,1487.7 601,1487 603,1486.2 605.1,1487.3 607.1,1487.7 609.1,1486 611.2,1486.4 613.2,1487 615.3,1485.6 617.3,1487 619.4,1486.7 621.4,1486 623.4,1485.8 625.5,1487.2 627.5,1487.9 629.6,1487.3 631.6,1485.8 633.7,1487.8 635.7,1487.1 637.7,1487.6 639.8,1488.3 641.8,1485.8 643.9,1486.8 645.9,1486.2 648,1485.9 650,1489.4 652,1488.1 654,1484.8 656,1487.5 658.1,1486.3 660.1,1488.4 662.1,1487.1 664.1,1486.8 666.1,1487.2 668.1,1487.5 670.2,1487 672.2,1486.7 674.2,1486.8 676.2,1487.6 678.2,1485.6 680.2,1487 682.2,1486.9 684.3,1486.4 686.3,1487.9 688.3,1485.4 690.3,1486.6 692.3,1486 694.3,1487.7 696.4,1486.4 698.4,1487.1 700.4,1487.5 702.4,1485.1 704.4,1487.5 706.4,1486.1 708.5,1486.7 710.5,1486.9 712.5,1488 714.5,1487.9 716.5,1489.1 718.5,1487.2 720.5,1486.4 722.6,1486.4 724.6,1487.8 726.6,1488.9 728.6,1487.4 730.6,1486.3 732.6,1487.3 734.7,1487.3 736.7,1487 738.7,1486.1 740.7,1483.9 742.7,1486.3 744.7,1488.3 746.8,1487.3 748.8,1484.3 750.8,1487 752.8,1484.8 754.8,1489.4 756.8,1487.2 758.8,1485.5 760.9,1488 762.9,1486.1 764.9,1487.7 766.9,1487 768.9,1485.6 770.9,1487.8 773,1485.4 775,1488.6 777,1487.1 779,1485.8" fill="none" stroke="#2060f0" stroke-width="3.6" stroke-linejoin="round" stroke-dasharray="4 2.6" stroke-linecap="butt"/>
<polyline points="128,1467.5 130,1471 132,1470.8 134,1468 136,1470.9 138,1469.4 140,1468.9 142,1469 144,1468.8 146,1470.5 148,1469.2 150,1467.1 152,1471.1 154,1469.8 156,1467.7 158,1468.5 160,1467.8 162,1468.8 164,1469.1 166,1468.9 168,1468 170,1467.8 172,1469.4 174,1468.4 176,1470.8 178,1467.6 180,1469.2 182,1468.4 184,1467.5 186,1469.7 188,1468.4 190,1467.3 192,1467.8 194,1469.2 196,1466.8 198,1469.5 200,1468.7 202,1467.7 204,1469.3 206,1469.7 208,1468.5 210,1468 212,1469.7 214,1469.3 216,1466.7 218,1467.4 220,1467.4 222,1467.1 224,1466 226,1468.4 228,1467.5 230,1467.5 232,1468.8 234,1466.7 236,1467.2 238,1467.5 240,1466.8 242,1467 244,1467.9 246,1467.1 248,1468.4 250,1466.2 252,1467.2 254,1465.4 256,1466.8 258,1466.1 260,1468.2 262,1467.5 264,1467.2 266,1468.6 268,1468.1 270,1467.3 272,1465.8 274,1465 276,1466.4 278,1466.1 280,1465.7 282,1466.1 284,1464.6 286,1467.8 288,1465.1 290,1465.5 292,1466.8 294,1464.4 296,1467 298,1467 300,1465.7 302,1464.6 304,1465 306,1463.3 308,1466.4 310,1464.7 312,1463.6 314,1463.2 316,1464.5 318,1465.2 320,1462 322,1462.5 324,1461 326,1463.2 328,1462.4 330,1464.3 332,1461.6 334,1461 336,1460.5 338,1461.8 340,1459 342,1461.2 344,1460.4 346,1459.3 348,1458.7 350,1460.4 352,1461 354,1458.3 356,1459.1 358,1460.1 360,1457.4 362,1457.4 364,1456 366,1456.7 368,1456.4 370,1455.7 372,1455 374,1453.8 376,1453.7 378,1453.7 380,1455 382,1453.4 384,1452.7 386,1453.9 388,1453.5 390,1451.7 392,1451.5 394,1452.5 396,1451.8 398,1450.2 400,1450.9 402,1450.3 404,1451.1 406,1448.7 408,1450.1 410,1449.3 412,1447.4 414,1449.2 416,1448.7 418,1446 420,1449.1 422,1445.4 424,1445.3 426.1,1445.5 428.1,1446.3 430.1,1445.7 432.1,1444.6 434.1,1445.8 436.1,1444.4 438.2,1445.1 440.2,1446.2 442.2,1443.1 444.2,1439.8 446.2,1441.6 448.2,1440.6 450.3,1441.5 452.3,1441.1 454.3,1439.3 456.4,1439.9 458.5,1441.4 460.5,1441.9 462.6,1439.9 464.7,1444.2 466.8,1443.7 468.8,1444.2 470.9,1445.1 473,1444.2 475.1,1445.7 477.1,1447.4 479.2,1448 481.3,1447.8 483.4,1447.6 485.5,1447.5 487.5,1450.3 489.6,1450 491.7,1449.5 493.8,1448.1 495.8,1450 497.9,1449.4 500,1453.3 502,1452.8 504,1452.3 506,1453.4 508,1457.1 510,1456.2 512,1454 514,1455.8 516,1455.2 518,1455.3 520,1457.9 522,1460.9 524,1460.5 526,1459.5 528,1459.6 530,1460.8 532,1462.2 534,1460.1 536,1460.2 538,1464.9 540,1463.7 542,1465.7 544,1464.8 546,1466.7 548,1465 550,1466.8 552,1468.5 554,1468.5 556,1467.5 558,1469.5 560,1468.4 562,1468.1 564,1470.8 566,1472.3 568,1472.3 570,1470.6 572,1473.5 574,1473.8 576,1473.2 578,1471.5 580,1475.9 582,1476.1 584.1,1476 586.1,1473.9 588.2,1474.4 590.2,1477.5 592.3,1477.6 594.3,1477.5 596.3,1477 598.4,1478 600.4,1477.3 602.5,1477.9 604.5,1477.6 606.6,1479.2 608.6,1478.7 610.7,1480.5 612.7,1480.6 614.7,1479.2 616.8,1482.4 618.8,1479.5 620.9,1481.6 622.9,1482.6 625,1483.1 627,1479.6 629,1483.2 631.1,1483.6 633.1,1483.9 635.1,1480 637.1,1481.8 639.2,1482.6 641.2,1482.3 643.2,1484.4 645.2,1482.3 647.3,1484.5 649.3,1483.8 651.3,1481.7 653.4,1482.4 655.4,1483 657.4,1483.8 659.4,1484.9 661.5,1483.7 663.5,1485 665.5,1482.4 667.6,1480.9 669.6,1484 671.6,1484.9 673.6,1484.2 675.7,1483.6 677.7,1485.2 679.7,1487 681.8,1484.9 683.8,1484.3 685.8,1484.3 687.8,1487.5 689.9,1485.4 691.9,1486.2 693.9,1487 695.9,1487 698,1484.9 700,1487.1 702,1487 704.1,1486.7 706.1,1487.3 708.1,1485.6 710.1,1486.2 712.2,1485.8 714.2,1487.3 716.2,1485.8 718.2,1487 720.3,1485.4 722.3,1486.5 724.3,1486.3 726.3,1486.7 728.4,1487 730.4,1486.7 732.4,1486.7 734.4,1484.8 736.5,1488.3 738.5,1486.5 740.5,1487 742.5,1486.4 744.6,1488.5 746.6,1486.4 748.6,1488 750.6,1488.8 752.7,1489.4 754.7,1489 756.7,1488.4 758.7,1486.5 760.8,1489.3 762.8,1489.2 764.8,1488.9 766.8,1488.9 768.9,1488.2 770.9,1487.6 772.9,1489.4 774.9,1489.7 777,1487.2 779,1489.4" fill="none" stroke="#f51414" stroke-width="3" stroke-linejoin="round" stroke-linecap="round"/>
<polyline points="128,1558.3 130,1558.8 132,1558 134,1558.7 136,1558.5 138,1558.2 140,1555.8 142,1557.9 144,1557 146,1555.6 148,1557.3 150,1555.1 152,1557.2 154,1557.9 156,1555.6 158,1556.8 160,1556.2 162,1556.3 164,1554.2 166,1556 168,1555.4 170,1555.8 172,1555 174,1555.9 176,1555 178,1555.2 180,1555.8 182,1554.5 184,1555.1 186,1554.2 188,1554.4 190,1553.2 192,1554.4 194,1554.7 196,1553.2 198,1554 200,1553.5 202,1551.8 204,1553.1 206,1554 208,1552.1 210,1550.7 212,1552.5 214,1551.6 216,1553.9 218,1551.9 220,1551.8 222,1551.1 224,1551.8 226,1550.9 228,1550.5 230,1551.2 232,1550.3 234,1552.3 236,1549.7 238,1550.7 240,1550 242,1549.2 244,1552 246,1548.2 248,1551.6 250,1548.6 252,1550 254,1552 256,1547.6 258,1548.2 260,1550.7 262,1549.5 264,1548.7 266,1549 268,1548 270,1549 272,1550.2 274,1548.2 276,1548.6 278,1549.5 280,1550.2 282,1547.5 284,1548.3 286,1547.3 288,1547.1 290,1547.2 292,1546.9 294,1545.7 296,1545.3 298,1546.4 300,1547.2 302,1547.7 304,1545.5 306,1545.4 308,1545.7 310,1545.3 312,1543.9 314,1543.5 316,1544.9 318,1542.2 320,1541.6 322,1539.9 324,1541.5 326,1540.3 328,1541.9 330,1539.2 332,1539.8 334,1539.4 336,1539.6 338,1536.3 340,1538.6 342,1536.5 344,1535.9 346,1535.2 348,1534.6 350,1534.2 352,1531.8 354,1534 356,1533.1 358,1531.6 360,1532 362.1,1533.8 364.1,1531.4 366.1,1530.1 368.2,1531.7 370.2,1528.7 372.3,1528.8 374.4,1527.9 376.4,1527.7 378.4,1528.2 380.5,1527.5 382.6,1525.7 384.6,1525.8 386.6,1525.5 388.7,1524.5 390.8,1524.3 392.8,1523.2 394.8,1522.6 396.9,1522.9 398.9,1521.3 401,1522.2 403,1521.1 405.1,1519.9 407.1,1519.7 409.2,1519.3 411.2,1519.1 413.3,1518.9 415.3,1518 417.4,1516.9 419.4,1520.2 421.5,1520.8 423.5,1521.1 425.6,1522.9 427.6,1523.4 429.7,1523.9 431.8,1525.3 433.8,1528.9 435.9,1528.3 437.9,1529.5 439.9,1529.1 442,1531.2 444.1,1533.9 446.1,1533.2 448.1,1534.9 450.2,1536.1 452.2,1536.6 454.3,1538.6 456.4,1538.6 458.4,1540.1 460.5,1540.3 462.5,1544.8 464.6,1543.8 466.7,1544.9 468.7,1547.5 470.8,1547 472.9,1548.7 474.9,1549.3 477,1551.4 479,1552.3 481.1,1554.5 483.1,1554.1 485.1,1553.9 487.2,1554.5 489.2,1555 491.2,1554.9 493.2,1556.6 495.3,1556.7 497.3,1556.4 499.3,1555.5 501.3,1557.4 503.4,1556 505.4,1557.7 507.4,1557.8 509.4,1557.5 511.4,1557.6 513.5,1558 515.5,1561 517.5,1559 519.5,1559.4 521.6,1560.8 523.6,1560.6 525.6,1561.5 527.6,1559.6 529.7,1560 531.7,1564.6 533.7,1561.6 535.7,1561.7 537.7,1562.4 539.8,1563.5 541.8,1561.7 543.8,1563.4 545.8,1563.4 547.9,1564.4 549.9,1564.2 551.9,1563.8 553.9,1563.8 556,1562.6 558,1566.2 560,1564.1 562,1565.2 564,1567.3 566,1565.3 568,1566.4 570.1,1565.7 572.1,1566.6 574.1,1566 576.1,1565.6 578.1,1567.4 580.1,1565.9 582.1,1565 584.1,1566 586.2,1566.9 588.2,1565.4 590.2,1567.3 592.2,1567.3 594.2,1568.7 596.2,1566.1 598.2,1567.4 600.2,1565.2 602.3,1566.5 604.3,1567.1 606.3,1567.4 608.3,1567.1 610.3,1567.1 612.3,1566.7 614.3,1566.9 616.3,1567.7 618.3,1568 620.4,1568.1 622.4,1568.5 624.4,1568.8 626.4,1566 628.4,1567.3 630.4,1567.7 632.4,1567.3 634.4,1569 636.5,1568.8 638.5,1568 640.5,1568.3 642.5,1569.4 644.5,1568 646.5,1568.1 648.5,1569.3 650.5,1568.9 652.6,1569.9 654.6,1569 656.6,1569.4 658.6,1568.2 660.6,1567.9 662.6,1568.9 664.6,1566.4 666.7,1569.4 668.7,1570 670.7,1569.2 672.7,1568.9 674.7,1570.2 676.7,1569.2 678.8,1570.2 680.8,1571.4 682.8,1570.1 684.8,1570.4 686.8,1570 688.8,1569.8 690.9,1569.9 692.9,1569.7 694.9,1570.8 696.9,1568.2 698.9,1569.6 700.9,1570.5 703,1569.1 705,1569.9 707,1569.4" fill="none" stroke="#2060f0" stroke-width="3.6" stroke-linejoin="round" stroke-dasharray="4 2.6" stroke-linecap="butt"/>
<polyline points="128,1556 130,1556.1 132,1556.4 134,1555.5 136,1554.3 138,1554.9 140,1555 142,1555.4 144,1552.5 146,1554.3 148,1552.4 150,1554.2 152,1553.8 154,1553.6 156,1553.7 158,1553.2 160,1552.2 162,1552.8 164,1553.2 166,1552 168,1552 170,1550.8 172,1552.5 174,1551 176,1550.7 178,1550.7 180,1550.2 182,1550.5 184,1551.5 186,1550.9 188,1551.2 190,1551.1 192,1549.1 194,1549.9 196,1550.5 198,1551 200,1547.9 202,1547.8 204,1549.1 206,1548.3 208,1547.7 210,1548.6 212,1547.6 214,1546.3 216,1547.9 218,1547.9 220,1548.1 222,1548.2 224,1547.5 226,1547 228,1546.6 230,1545.7 232,1546.4 234,1547.4 236,1547 238,1547.9 240,1546.1 242,1544.7 244,1546.6 246,1546.6 248,1544.8 250,1544.3 252,1545.5 254,1545.8 256,1544.2 258,1544.7 260,1544.2 262,1543.8 264,1543.5 266,1544.5 268,1544 270,1543.6 272,1542 274,1545.2 276,1543 278,1543.5 280,1542.5 282,1543.6 284,1542 286,1543.1 288,1542.7 290,1543.4 292,1541.7 294,1541.9 296,1542.1 298,1543.8 300,1540.9 302,1541.9 304,1540.8 306,1541.2 308,1541.2 310,1540.5 312,1540.2 314,1539.9 316,1538.9 318,1538.8 320,1537.4 322,1538.1 324,1537.4 326,1537.5 328,1537.9 330,1537.3 332,1537 334,1537.2 336,1534.2 338,1536 340,1535.3 342,1534.9 344,1533.7 346,1534.8 348,1534.9 350,1534.5 352,1533.3 354,1533.5 356,1533.4 358,1533.7 360,1532.9 362,1531.8 364,1531.5 366,1531.3 368,1531.1 370,1530.3 372,1531 374,1529.6 376,1529.3 378,1529.9 380,1528.9 382,1528.9 384,1527.2 386,1529.1 388,1528.3 390,1527.9 392,1528.1 394,1527.6 396,1526.7 398,1528.5 400,1526.3 402,1527.1 404,1527.5 406,1525.4 408,1525.7 410,1524.7 412,1525.9 414,1524.5 416,1523.7 418,1525.3 420,1524.7 422.1,1523.1 424.2,1524.5 426.3,1523.5 428.4,1525.3 430.5,1524.3 432.6,1522.3 434.7,1522.4 436.8,1521.7 438.9,1522.3 440.9,1522 443,1522.3 445.1,1521.6 447.2,1520.2 449.3,1520.5 451.4,1522 453.5,1521.6 455.6,1520.4 457.7,1520.2 459.7,1520.9 461.8,1521.7 463.8,1521.1 465.8,1523.8 467.8,1523.3 469.9,1524.6 471.9,1523.3 473.9,1526.1 475.9,1527.6 478,1525.6 480,1529.2 482,1529.3 484.1,1529.3 486.1,1529.6 488.2,1532.6 490.2,1532.8 492.2,1534 494.3,1534.3 496.3,1534.8 498.4,1537 500.4,1536.6 502.5,1538.9 504.5,1537.9 506.5,1539.4 508.6,1539.9 510.6,1542.9 512.7,1541.5 514.7,1542.9 516.8,1544.7 518.8,1544.7 520.9,1546.6 522.9,1546.7 525,1546.1 527.1,1546.6 529.1,1545 531.2,1546.1 533.2,1546.9 535.3,1547.4 537.4,1546.8 539.4,1547.6 541.5,1548 543.5,1549.8 545.6,1549.7 547.6,1549.5 549.7,1549.9 551.8,1550.7 553.8,1550.3 555.9,1551.1 557.9,1550.3 560,1552.5 562,1553.1 564.1,1553 566.1,1553.4 568.1,1553.7 570.2,1555.3 572.2,1554.3 574.2,1553.5 576.2,1554.1 578.3,1555.8 580.3,1556.4 582.3,1556.5 584.4,1556.9 586.4,1556.8 588.4,1555.9 590.5,1556.8 592.5,1556.3 594.5,1557.8 596.5,1557.4 598.6,1558.9 600.6,1559 602.6,1558 604.7,1560.4 606.7,1560.8 608.7,1559.5 610.8,1561 612.8,1561.8 614.8,1561.4 616.8,1562.7 618.9,1562.5 620.9,1563.5 622.9,1563.2 625,1563.3 627,1564.2 629,1564.5 631,1564.3 633,1563.9 635,1563.8 637.1,1564.3 639.1,1564.3 641.1,1565 643.1,1565.1 645.1,1565.1 647.1,1565.3 649.1,1565.6 651.1,1566.8 653.2,1566.7 655.2,1565.4 657.2,1566.4 659.2,1565.9 661.2,1566.3 663.2,1566.3 665.2,1566.2 667.2,1565.7 669.3,1565 671.3,1567.2 673.3,1568.1 675.3,1566.7 677.3,1567.9 679.3,1567.4 681.3,1568.1 683.4,1567.4 685.4,1568 687.4,1568.2 689.4,1566.6 691.4,1568.8 693.4,1568.6 695.4,1567 697.4,1569.5 699.5,1569.2 701.5,1569.5 703.5,1569.8 705.5,1569.3 707.5,1569 709.5,1569.5 711.6,1569.5 713.6,1571.6 715.7,1571.3 717.7,1569.5 719.8,1569.6 721.8,1570.2 723.8,1570.4 725.9,1569.4 727.9,1569.2 730,1571.5 732,1570.8 734.1,1568.8 736.1,1568.7 738.1,1569.4 740.2,1570.3 742.2,1570.5 744.3,1569.9 746.3,1568.9 748.4,1570.3 750.4,1570.7 752.4,1570.2 754.5,1569.9 756.5,1570.7 758.6,1570.2 760.6,1569.4 762.7,1570.4 764.7,1569.3 766.7,1571.1 768.8,1570.7 770.8,1569.6 772.9,1570.6 774.9,1571.4 777,1568.8 779,1570.4" fill="none" stroke="#f51414" stroke-width="3" stroke-linejoin="round" stroke-linecap="round"/>
<polyline points="128,1612.2 130,1608 132,1610 134,1608.5 136,1610.5 138,1607.5 140,1608.7 142,1610.3 144,1611.4 146,1611.9 148,1612.1 150,1613.2 152,1612.8 154,1613 156,1610.8 158,1612.1 160,1616.8 162,1615.7 164,1613.9 166,1613.9 168,1614.4 170,1612.6 172,1616 174,1613 176,1613.5 178,1616.8 180,1611.1 182,1614.7 184,1612.1 186,1613.8 188,1614.8 190,1614.7 192,1615.7 194,1614.7 196,1615.8 198,1614.6 200,1615.9 202,1614.8 204,1617.9 206,1615.4 208,1618.4 210,1617.1 212,1617.5 214,1619.8 216,1618.6 218,1616.1 220,1619.6 222,1615.2 224,1619.8 226,1619.2 228,1618 230,1620.3 232,1620 234,1623.5 236,1620.4 238,1623.9 240,1623.4 242,1620.8 244,1620.7 246,1623.8 248,1622 250,1622.6 252,1622.2 254,1621 256,1622.4 258,1621.7 260,1621.1 262,1623 264,1626.1 266,1626 268,1623.9 270,1624.3 272,1625.1 274,1626.4 276,1625.1 278,1624.2 280,1624.5 282,1626.8 284,1629 286,1624.7 288,1622.9 290,1627.1 292,1625.5 294,1625.4 296,1626.5 298,1624.5 300,1622.1 302,1620.8 304,1623.1 306,1621.1 308,1622.8 310,1620.2 312,1621.1 314,1619.1 316,1620.3 318,1619.7 320,1620.8 322,1621.4 324,1618.9 326,1617.6 328,1621.1 330,1618.5 332,1618.4 334,1618 336,1618.8 338,1617.8 340,1616.9 342,1616.6 344,1614 346,1613.9 348,1614.2 350,1614.1 352,1613.6 354,1613.6 356,1612.8 358,1611.8 360,1609.7 362,1612.6 364,1611.8 366,1609.3 368,1610.7 370,1610.1 372,1609.2 374,1606 376,1606.4 378,1606.8 380,1609.4 382,1605.5 384,1605.7 386,1604.2 388.1,1604.5 390.1,1605.2 392.1,1601.4 394.1,1599.8 396.1,1604.2 398.1,1602.9 400.1,1601.5 402.1,1603.2 404.1,1602.7 406.1,1598 408.1,1600.2 410.1,1601.5 412.1,1598.5 414.1,1598.5 416.2,1601.4 418.3,1600.7 420.4,1600.5 422.5,1602.3 424.6,1602.4 426.7,1606.1 428.8,1604 430.9,1608.9 433,1607 435.1,1611.3 437.2,1611.1 439.3,1614.6 441.4,1618.3 443.5,1620.4 445.6,1622.5 447.6,1622.4 449.7,1624.6 451.8,1626.7 453.9,1629.1 456,1629.6 458.1,1633.5 460.2,1634.3 462.3,1637.4 464.4,1638.3 466.5,1639.9 468.6,1639.2 470.7,1640.8 472.8,1640.9 474.9,1643.5 477,1645 479.1,1647.6 481.1,1646 483.2,1653.5 485.3,1650.1 487.4,1653.2 489.5,1654.2 491.6,1650.5 493.7,1654.9 495.8,1658.6 497.9,1654.4 499.9,1659.4 501.9,1657.6 503.9,1658.7 505.9,1660.2 507.9,1657.8 509.9,1661.2 511.9,1660.6 513.9,1661 515.9,1663.6 517.9,1668 519.9,1664.1 521.9,1665 523.9,1664.7 525.9,1664.2 527.9,1666.2 530,1668.5 532,1667.1 534,1668.6 536,1667.6 538,1672 540,1666.7 542,1670.4 544,1670.8 546,1671 548,1669.6 550,1670.1 552,1671.9 554,1672.9 556,1671.6 558,1672.3 560,1675.1 562,1676.1 564.1,1674.1 566.1,1674.1 568.1,1674.4 570.2,1679.1 572.2,1676.6 574.2,1676 576.2,1677.8 578.3,1679.9 580.3,1678.5 582.3,1675.2 584.4,1677.3 586.4,1677.1 588.4,1677.4 590.5,1676.5 592.5,1677.9 594.5,1677.2 596.5,1679.4 598.6,1679.2 600.6,1677.5 602.6,1677.3 604.7,1679.3 606.7,1681.1 608.7,1681.1 610.8,1680.6 612.8,1676.3 614.8,1680.5 616.8,1680.4 618.9,1681.3 620.9,1680.3 622.9,1681.6 625,1681.6 627,1686.6 629,1683.8 631.1,1682.6 633.1,1682.8 635.1,1682.8 637.2,1683.3 639.2,1682.5 641.2,1683.1 643.2,1684.6 645.3,1684.4 647.3,1683.7 649.3,1685.2 651.4,1683.7 653.4,1682 655.4,1681 657.5,1682.5 659.5,1683.5 661.5,1684.2 663.5,1685.2 665.6,1682.9 667.6,1682.6 669.6,1684.9 671.7,1685.5 673.7,1683.3 675.7,1684.5 677.8,1686 679.8,1684.5 681.8,1684.1 683.8,1681.3 685.9,1686.1 687.9,1685.2 689.9,1684.5 692,1683.7 694,1682.7 696,1684.4 698,1684.5 700.1,1686.2 702.1,1683.1 704.1,1686.9 706.1,1685 708.2,1686.7 710.2,1683.7 712.2,1685.6 714.2,1686.9 716.3,1685.5 718.3,1683.3 720.3,1685 722.3,1686.3 724.4,1683.7 726.4,1683.7 728.4,1686.1 730.4,1684.5 732.5,1686.9 734.5,1684.4 736.5,1683.5 738.5,1685.1 740.5,1688.3 742.6,1685.1 744.6,1686.4 746.6,1686.8 748.6,1685.2 750.7,1688.2 752.7,1687 754.7,1687.4 756.7,1684.5 758.8,1684.5 760.8,1683.2 762.8,1686.9 764.8,1686.9 766.9,1688.3 768.9,1689.4 770.9,1687.1 772.9,1687.1 775,1688.2 777,1689.8 779,1686.6" fill="none" stroke="#2060f0" stroke-width="3.6" stroke-linejoin="round" stroke-dasharray="4 2.6" stroke-linecap="butt"/>
<polyline points="128,1614 130,1613.2 132,1613 134,1614 136,1612.5 138,1612.2 140,1613.6 142,1613 144,1612.7 146,1612.7 148,1613.2 150,1612.4 152,1613.3 154,1630.9 156,1613.8 158,1613.6 160,1613.1 162,1612.1 164,1612.3 166,1611.6 168,1614.6 170,1611.8 172,1612.4 174,1613.1 176,1610.6 178,1611 180,1611.3 182,1610.7 184,1610.4 186,1611 188,1612.6 190,1612 192,1611.3 194,1611.2 196,1609.6 198,1611.7 200,1611.4 202,1609.9 204,1611 206,1610.5 208,1610.2 210,1609.6 212,1609.8 214,1609.5 216,1610.7 218,1610.5 220,1610.4 222,1609.8 224,1609.6 226,1611.7 228,1608.1 230,1610.7 232,1609.9 234,1609.5 236,1608.9 238,1609.1 240,1608.2 242,1607.9 244,1608.9 246,1607.5 248,1618.6 250,1609.8 252,1605.6 254,1607.2 256,1608.8 258,1608.6 260,1608.4 262,1608.6 264,1608.8 266,1608.9 268,1609.6 270,1607.9 272,1608.6 274,1606.3 276,1607.5 278,1606.5 280,1608.7 282,1609.5 284,1607.8 286.1,1606.1 288.1,1607.1 290.1,1607.2 292.1,1607.3 294.1,1608 296.2,1607.8 298.2,1604.5 300.2,1608.1 302.2,1606.3 304.2,1606.2 306.3,1607.9 308.3,1606.3 310.3,1605.3 312.3,1605.3 314.3,1606.4 316.4,1607.1 318.4,1607.6 320.4,1606 322.4,1605.7 324.5,1607.5 326.5,1605.6 328.5,1607.3 330.5,1606.1 332.5,1606 334.6,1605.5 336.6,1606 338.6,1605.2 340.6,1604.9 342.6,1605.4 344.7,1604.8 346.7,1605.6 348.7,1605.4 350.7,1605 352.7,1605 354.8,1604.9 356.8,1606.6 358.8,1605 360.8,1604.4 362.8,1604.6 364.9,1605.4 366.9,1604.5 368.9,1604.5 370.9,1604.4 372.9,1604.7 375,1604.8 377,1604.8 379,1602.9 381,1603.3 383,1601.8 385.1,1604.9 387.1,1605.1 389.1,1605.2 391.1,1604.1 393.1,1604.9 395.2,1603.8 397.2,1603.7 399.2,1602.3 401.2,1602.9 403.3,1603 405.3,1604.3 407.3,1604.9 409.3,1603 411.3,1603.6 413.4,1603.5 415.4,1602.5 417.4,1601.6 419.4,1602.4 421.4,1601.7 423.5,1602.6 425.5,1602.7 427.5,1602.6 429.5,1602.6 431.5,1603.1 433.6,1601.8 435.6,1603.3 437.6,1601 439.6,1602.5 441.6,1602.8 443.6,1601.8 445.6,1601 447.6,1603 449.6,1601.9 451.6,1603.2 453.7,1603.2 455.7,1602.5 457.7,1602.5 459.7,1603.4 461.7,1602.8 463.7,1601.6 465.7,1602.6 467.7,1603 469.8,1604.2 471.8,1605.8 473.9,1607.1 475.9,1608.7 477.9,1609.6 480,1610.7 482,1614.7 484.1,1614.8 486.1,1617.3 488.2,1617.5 490.2,1620.6 492.2,1621.5 494.3,1626.6 496.3,1624.7 498.4,1626.5 500.4,1629.9 502.5,1631.8 504.5,1630.6 506.5,1634.4 508.6,1636.6 510.6,1636.5 512.7,1639.9 514.7,1640.5 516.8,1640.9 518.9,1642.3 521,1643.1 523.1,1643.1 525.2,1647.2 527.3,1645.6 529.4,1646.2 531.5,1648.4 533.5,1648.4 535.6,1650.5 537.7,1649.9 539.8,1651.3 541.9,1651.9 544,1652.8 546.1,1653.4 548.2,1654.3 550.3,1656.3 552.4,1654.6 554.6,1655.2 556.7,1655.8 558.8,1657.1 560.9,1657.4 563,1658.3 565.2,1656.7 567.3,1658.6 569.4,1658.6 571.5,1659 573.6,1659.8 575.8,1658.3 577.9,1660.8 580,1661.1 582,1660.1 584.1,1661.8 586.1,1663.7 588.2,1662.4 590.2,1663.7 592.3,1663.4 594.3,1663.3 596.3,1663.6 598.4,1664.5 600.4,1666.5 602.5,1666.5 604.5,1665.6 606.6,1667.5 608.6,1666.9 610.7,1666.9 612.7,1668.3 614.7,1667.6 616.8,1667.4 618.8,1670.4 620.9,1668 622.9,1670.6 625,1669.2 627,1670.9 629,1671.1 631.1,1671.2 633.1,1669.9 635.1,1672.1 637.2,1672.5 639.2,1672 641.2,1673 643.2,1674.3 645.3,1673.1 647.3,1674.2 649.3,1673.3 651.4,1675 653.4,1675.5 655.4,1677.4 657.5,1676.3 659.5,1676.2 661.5,1677.4 663.5,1675.5 665.6,1677.7 667.6,1676.6 669.6,1676.8 671.7,1678.6 673.7,1678.2 675.7,1679.4 677.8,1677.3 679.8,1679.1 681.8,1678.7 683.8,1679.2 685.9,1678.1 687.9,1680.9 689.9,1680.6 692,1679.8 694,1679.8 696,1680.3 698,1682.5 700.1,1681.3 702.1,1681.2 704.1,1682 706.1,1681.7 708.2,1682.1 710.2,1682.6 712.2,1682.4 714.2,1683 716.3,1681.3 718.3,1682.5 720.3,1682.3 722.3,1682.8 724.4,1682.8 726.4,1682.4 728.4,1682.8 730.4,1684.1 732.5,1682.9 734.5,1682.4 736.5,1684.1 738.5,1684.6 740.5,1683.6 742.6,1684.1 744.6,1683.3 746.6,1684 748.6,1685.3 750.7,1685.2 752.7,1684.7 754.7,1684.5 756.7,1683.4 758.8,1685.2 760.8,1685.5 762.8,1686.1 764.8,1687.1 766.9,1685.8 768.9,1686.4 770.9,1684.7 772.9,1686.9 775,1686.7 777,1687.3 779,1686.8" fill="none" stroke="#f51414" stroke-width="3" stroke-linejoin="round" stroke-linecap="round"/>
<rect x="127.4" y="1238.5" width="652.2" height="474.5" fill="none" stroke="#000" stroke-width="2.2"/>
<line x1="161.9" y1="1238.5" x2="161.9" y2="1245.5" stroke="#000" stroke-width="2"/>
<line x1="161.9" y1="1713" x2="161.9" y2="1706" stroke="#000" stroke-width="2"/>
<line x1="196.2" y1="1238.5" x2="196.2" y2="1245.5" stroke="#000" stroke-width="2"/>
<line x1="196.2" y1="1713" x2="196.2" y2="1706" stroke="#000" stroke-width="2"/>
<line x1="230.5" y1="1238.5" x2="230.5" y2="1245.5" stroke="#000" stroke-width="2"/>
<line x1="230.5" y1="1713" x2="230.5" y2="1706" stroke="#000" stroke-width="2"/>
<line x1="264.8" y1="1238.5" x2="264.8" y2="1253.5" stroke="#000" stroke-width="2"/>
<line x1="264.8" y1="1713" x2="264.8" y2="1698" stroke="#000" stroke-width="2"/>
<line x1="299.1" y1="1238.5" x2="299.1" y2="1245.5" stroke="#000" stroke-width="2"/>
<line x1="299.1" y1="1713" x2="299.1" y2="1706" stroke="#000" stroke-width="2"/>
<line x1="333.4" y1="1238.5" x2="333.4" y2="1245.5" stroke="#000" stroke-width="2"/>
<line x1="333.4" y1="1713" x2="333.4" y2="1706" stroke="#000" stroke-width="2"/>
<line x1="367.7" y1="1238.5" x2="367.7" y2="1245.5" stroke="#000" stroke-width="2"/>
<line x1="367.7" y1="1713" x2="367.7" y2="1706" stroke="#000" stroke-width="2"/>
<line x1="402" y1="1238.5" x2="402" y2="1245.5" stroke="#000" stroke-width="2"/>
<line x1="402" y1="1713" x2="402" y2="1706" stroke="#000" stroke-width="2"/>
<line x1="436.3" y1="1238.5" x2="436.3" y2="1253.5" stroke="#000" stroke-width="2"/>
<line x1="436.3" y1="1713" x2="436.3" y2="1698" stroke="#000" stroke-width="2"/>
<line x1="470.6" y1="1238.5" x2="470.6" y2="1245.5" stroke="#000" stroke-width="2"/>
<line x1="470.6" y1="1713" x2="470.6" y2="1706" stroke="#000" stroke-width="2"/>
<line x1="504.9" y1="1238.5" x2="504.9" y2="1245.5" stroke="#000" stroke-width="2"/>
<line x1="504.9" y1="1713" x2="504.9" y2="1706" stroke="#000" stroke-width="2"/>
<line x1="539.2" y1="1238.5" x2="539.2" y2="1245.5" stroke="#000" stroke-width="2"/>
<line x1="539.2" y1="1713" x2="539.2" y2="1706" stroke="#000" stroke-width="2"/>
<line x1="573.5" y1="1238.5" x2="573.5" y2="1245.5" stroke="#000" stroke-width="2"/>
<line x1="573.5" y1="1713" x2="573.5" y2="1706" stroke="#000" stroke-width="2"/>
<line x1="607.8" y1="1238.5" x2="607.8" y2="1253.5" stroke="#000" stroke-width="2"/>
<line x1="607.8" y1="1713" x2="607.8" y2="1698" stroke="#000" stroke-width="2"/>
<line x1="642.1" y1="1238.5" x2="642.1" y2="1245.5" stroke="#000" stroke-width="2"/>
<line x1="642.1" y1="1713" x2="642.1" y2="1706" stroke="#000" stroke-width="2"/>
<line x1="676.4" y1="1238.5" x2="676.4" y2="1245.5" stroke="#000" stroke-width="2"/>
<line x1="676.4" y1="1713" x2="676.4" y2="1706" stroke="#000" stroke-width="2"/>
<line x1="710.7" y1="1238.5" x2="710.7" y2="1245.5" stroke="#000" stroke-width="2"/>
<line x1="710.7" y1="1713" x2="710.7" y2="1706" stroke="#000" stroke-width="2"/>
<line x1="745" y1="1238.5" x2="745" y2="1245.5" stroke="#000" stroke-width="2"/>
<line x1="745" y1="1713" x2="745" y2="1706" stroke="#000" stroke-width="2"/>
<line x1="127.4" y1="1255.8" x2="135.8" y2="1255.8" stroke="#000" stroke-width="2"/>
<line x1="779.6" y1="1255.8" x2="771.2" y2="1255.8" stroke="#000" stroke-width="2"/>
<line x1="127.4" y1="1273.4" x2="135.8" y2="1273.4" stroke="#000" stroke-width="2"/>
<line x1="779.6" y1="1273.4" x2="771.2" y2="1273.4" stroke="#000" stroke-width="2"/>
<line x1="127.4" y1="1291" x2="144.2" y2="1291" stroke="#000" stroke-width="2"/>
<line x1="779.6" y1="1291" x2="762.8" y2="1291" stroke="#000" stroke-width="2"/>
<line x1="127.4" y1="1308.6" x2="135.8" y2="1308.6" stroke="#000" stroke-width="2"/>
<line x1="779.6" y1="1308.6" x2="771.2" y2="1308.6" stroke="#000" stroke-width="2"/>
<line x1="127.4" y1="1326.2" x2="135.8" y2="1326.2" stroke="#000" stroke-width="2"/>
<line x1="779.6" y1="1326.2" x2="771.2" y2="1326.2" stroke="#000" stroke-width="2"/>
<line x1="127.4" y1="1343.7" x2="135.8" y2="1343.7" stroke="#000" stroke-width="2"/>
<line x1="779.6" y1="1343.7" x2="771.2" y2="1343.7" stroke="#000" stroke-width="2"/>
<line x1="127.4" y1="1361.3" x2="135.8" y2="1361.3" stroke="#000" stroke-width="2"/>
<line x1="779.6" y1="1361.3" x2="771.2" y2="1361.3" stroke="#000" stroke-width="2"/>
<line x1="127.4" y1="1378.9" x2="144.2" y2="1378.9" stroke="#000" stroke-width="2"/>
<line x1="779.6" y1="1378.9" x2="762.8" y2="1378.9" stroke="#000" stroke-width="2"/>
<line x1="127.4" y1="1396.5" x2="135.8" y2="1396.5" stroke="#000" stroke-width="2"/>
<line x1="779.6" y1="1396.5" x2="771.2" y2="1396.5" stroke="#000" stroke-width="2"/>
<line x1="127.4" y1="1414.1" x2="135.8" y2="1414.1" stroke="#000" stroke-width="2"/>
<line x1="779.6" y1="1414.1" x2="771.2" y2="1414.1" stroke="#000" stroke-width="2"/>
<line x1="127.4" y1="1431.6" x2="135.8" y2="1431.6" stroke="#000" stroke-width="2"/>
<line x1="779.6" y1="1431.6" x2="771.2" y2="1431.6" stroke="#000" stroke-width="2"/>
<line x1="127.4" y1="1449.2" x2="135.8" y2="1449.2" stroke="#000" stroke-width="2"/>
<line x1="779.6" y1="1449.2" x2="771.2" y2="1449.2" stroke="#000" stroke-width="2"/>
<line x1="127.4" y1="1466.8" x2="144.2" y2="1466.8" stroke="#000" stroke-width="2"/>
<line x1="779.6" y1="1466.8" x2="762.8" y2="1466.8" stroke="#000" stroke-width="2"/>
<line x1="127.4" y1="1484.4" x2="135.8" y2="1484.4" stroke="#000" stroke-width="2"/>
<line x1="779.6" y1="1484.4" x2="771.2" y2="1484.4" stroke="#000" stroke-width="2"/>
<line x1="127.4" y1="1502" x2="135.8" y2="1502" stroke="#000" stroke-width="2"/>
<line x1="779.6" y1="1502" x2="771.2" y2="1502" stroke="#000" stroke-width="2"/>
<line x1="127.4" y1="1519.5" x2="135.8" y2="1519.5" stroke="#000" stroke-width="2"/>
<line x1="779.6" y1="1519.5" x2="771.2" y2="1519.5" stroke="#000" stroke-width="2"/>
<line x1="127.4" y1="1537.1" x2="135.8" y2="1537.1" stroke="#000" stroke-width="2"/>
<line x1="779.6" y1="1537.1" x2="771.2" y2="1537.1" stroke="#000" stroke-width="2"/>
<line x1="127.4" y1="1554.7" x2="144.2" y2="1554.7" stroke="#000" stroke-width="2"/>
<line x1="779.6" y1="1554.7" x2="762.8" y2="1554.7" stroke="#000" stroke-width="2"/>
<line x1="127.4" y1="1572.3" x2="135.8" y2="1572.3" stroke="#000" stroke-width="2"/>
<line x1="779.6" y1="1572.3" x2="771.2" y2="1572.3" stroke="#000" stroke-width="2"/>
<line x1="127.4" y1="1589.9" x2="135.8" y2="1589.9" stroke="#000" stroke-width="2"/>
<line x1="779.6" y1="1589.9" x2="771.2" y2="1589.9" stroke="#000" stroke-width="2"/>
<line x1="127.4" y1="1607.4" x2="135.8" y2="1607.4" stroke="#000" stroke-width="2"/>
<line x1="779.6" y1="1607.4" x2="771.2" y2="1607.4" stroke="#000" stroke-width="2"/>
<line x1="127.4" y1="1625" x2="135.8" y2="1625" stroke="#000" stroke-width="2"/>
<line x1="779.6" y1="1625" x2="771.2" y2="1625" stroke="#000" stroke-width="2"/>
<line x1="127.4" y1="1642.6" x2="144.2" y2="1642.6" stroke="#000" stroke-width="2"/>
<line x1="779.6" y1="1642.6" x2="762.8" y2="1642.6" stroke="#000" stroke-width="2"/>
<line x1="127.4" y1="1660.2" x2="135.8" y2="1660.2" stroke="#000" stroke-width="2"/>
<line x1="779.6" y1="1660.2" x2="771.2" y2="1660.2" stroke="#000" stroke-width="2"/>
<line x1="127.4" y1="1677.8" x2="135.8" y2="1677.8" stroke="#000" stroke-width="2"/>
<line x1="779.6" y1="1677.8" x2="771.2" y2="1677.8" stroke="#000" stroke-width="2"/>
<line x1="127.4" y1="1695.3" x2="135.8" y2="1695.3" stroke="#000" stroke-width="2"/>
<line x1="779.6" y1="1695.3" x2="771.2" y2="1695.3" stroke="#000" stroke-width="2"/>
<rect x="708.5" y="1351.2" width="102" height="29" fill="#fff"/>
<text x="810.5" y="1374.2" font-size="30" text-anchor="end">250 mK</text>
<rect x="708.5" y="1453.4" width="102" height="29" fill="#fff"/>
<text x="810.5" y="1476.4" font-size="30" text-anchor="end">170 mK</text>
<rect x="708.5" y="1540" width="102" height="29" fill="#fff"/>
<text x="810.5" y="1563" font-size="30" text-anchor="end">130 mK</text>
<rect x="725.5" y="1648.8" width="85" height="29" fill="#fff"/>
<text x="810.5" y="1671.8" font-size="30" text-anchor="end">75 mK</text>
<rect x="640" y="1245.5" width="172" height="36" fill="#fff"/>
<text x="642.9" y="1269.7" font-size="30"><tspan font-style="italic">T</tspan><tspan font-size="20" dy="6">r</tspan><tspan dy="-6"> =</tspan></text>
<text x="810.5" y="1269.7" font-size="30" text-anchor="end">350 mK</text>
<text x="-0.5" y="1247" font-size="44" font-weight="bold">d</text>
<text x="2.2" y="1612.6" font-size="33">5 mK</text>
<line x1="107.3" y1="1570.8" x2="107.3" y2="1624.2" stroke="#000" stroke-width="2"/>
<polygon points="107.3,1639.4 101.8,1620.4 112.8,1620.4" fill="#000"/>
<polygon points="107.3,1555.6 112.8,1574.6 101.8,1574.6" fill="#000"/>
<text x="186" y="1689.2" font-size="33">θ = -0.4°</text>
<text x="481.9" y="1592.4" font-size="29"><tspan font-style="italic">H</tspan><tspan font-size="18.2" dy="5.5">peak1</tspan></text>
<text x="66.6" y="1543" font-size="35.2" transform="rotate(-90 66.6 1543)">Δ<tspan font-style="italic">T</tspan> (arb. units)</text>
<text x="264.8" y="1753.8" font-size="36" text-anchor="middle">9.0</text>
<text x="436.3" y="1753.8" font-size="36" text-anchor="middle">9.5</text>
<text x="607.8" y="1753.8" font-size="36" text-anchor="middle">10.0</text>
<text x="779.3" y="1753.8" font-size="36" text-anchor="middle">10.5</text>
<text x="409.9" y="1799.2" font-size="34">μ<tspan x="425.05" y="1809" font-size="32">0</tspan><tspan x="443.4" y="1799.2" font-style="italic">H</tspan> (T)</text>
<polyline points="237.3,1278.8 166,1278.8" fill="none" stroke="#2060f0" stroke-width="3" stroke-linejoin="round" stroke-dasharray="4 4" stroke-linecap="butt"/>
<polygon points="154.2,1278.8 169.2,1273.3 169.2,1284.3" fill="#2060f0"/>
<line x1="177.7" y1="1332.5" x2="250" y2="1332.5" stroke="#f51414" stroke-width="2.5"/>
<polygon points="263.2,1332.5 247.2,1338 247.2,1327" fill="#f51414"/>
<line x1="401.4" y1="1241.8" x2="401.4" y2="1265" stroke="#000" stroke-width="4"/>
<polygon points="401.4,1277 389.9,1262 401.4,1268 412.9,1262" fill="#000"/>
<line x1="452.6" y1="1325.6" x2="452.6" y2="1347" stroke="#000" stroke-width="4"/>
<polygon points="452.6,1359 441.1,1344 452.6,1350 464.1,1344" fill="#000"/>
<line x1="457" y1="1403.7" x2="457" y2="1425.2" stroke="#000" stroke-width="4"/>
<polygon points="457,1437.2 445.5,1422.2 457,1428.2 468.5,1422.2" fill="#000"/>
<line x1="462.7" y1="1483.5" x2="462.7" y2="1505" stroke="#000" stroke-width="4"/>
<polygon points="462.7,1517 451.2,1502 462.7,1508 474.2,1502" fill="#000"/>
<line x1="467.7" y1="1565.6" x2="467.7" y2="1587" stroke="#000" stroke-width="4"/>
<polygon points="467.7,1599 456.2,1584 467.7,1590 479.2,1584" fill="#000"/>
<line x1="345.4" y1="1245" x2="345.4" y2="1266.7" stroke="#000" stroke-width="4" stroke-dasharray="4 3.5"/>
<polygon points="345.4,1278.7 333.9,1263.7 345.4,1269.7 356.9,1263.7" fill="#000"/>
<line x1="401.4" y1="1318.9" x2="401.4" y2="1340.4" stroke="#000" stroke-width="4" stroke-dasharray="4 3.5"/>
<polygon points="401.4,1352.4 389.9,1337.4 401.4,1343.4 412.9,1337.4" fill="#000"/>
<line x1="408" y1="1397" x2="408" y2="1418.5" stroke="#000" stroke-width="4" stroke-dasharray="4 3.5"/>
<polygon points="408,1430.5 396.5,1415.5 408,1421.5 419.5,1415.5" fill="#000"/>
<line x1="420.8" y1="1481.8" x2="420.8" y2="1503.3" stroke="#000" stroke-width="4" stroke-dasharray="4 3.5"/>
<polygon points="420.8,1515.3 409.3,1500.3 420.8,1506.3 432.3,1500.3" fill="#000"/>
<line x1="424.8" y1="1564" x2="424.8" y2="1585.4" stroke="#000" stroke-width="4" stroke-dasharray="4 3.5"/>
<polygon points="424.8,1597.4 413.3,1582.4 424.8,1588.4 436.3,1582.4" fill="#000"/>
</svg>
</body></html>
